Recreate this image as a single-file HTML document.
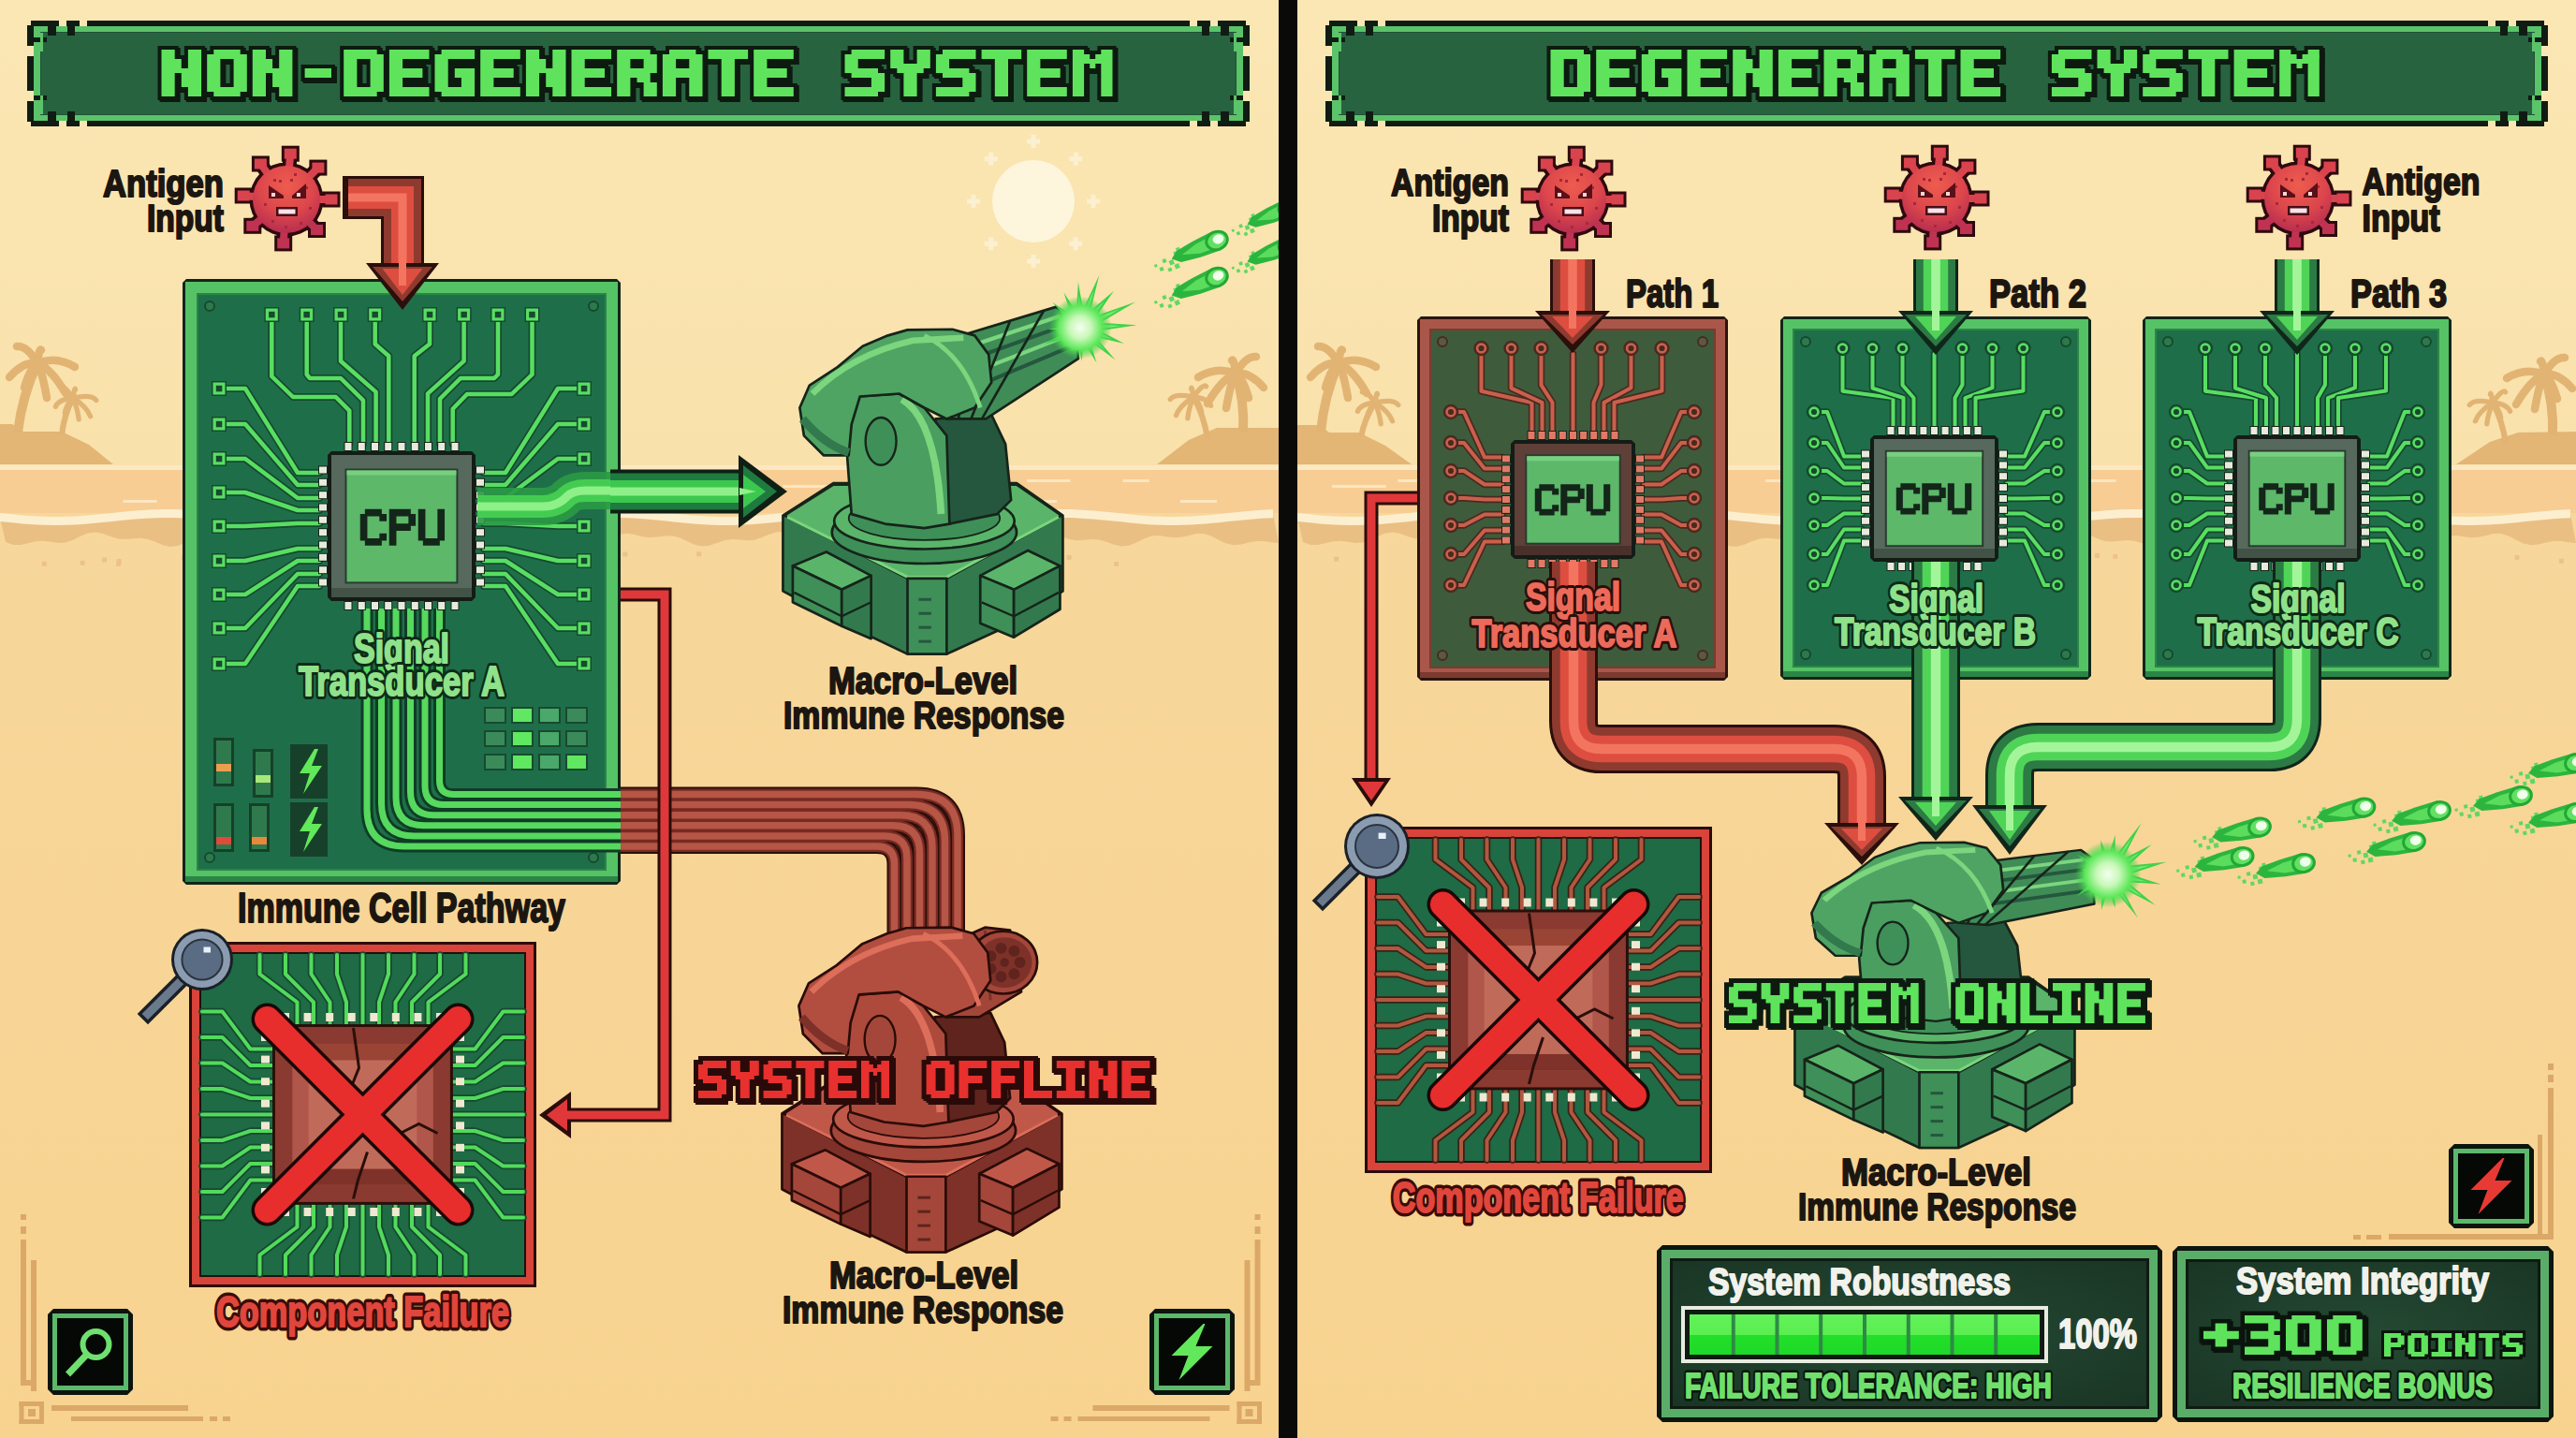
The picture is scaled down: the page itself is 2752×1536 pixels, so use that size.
<!DOCTYPE html>
<html><head><meta charset="utf-8"><title>Degenerate vs Non-Degenerate System</title>
<style>
html,body{margin:0;padding:0;background:#f7dcab;overflow:hidden;}
svg{display:block;}
text{font-family:"Liberation Sans",sans-serif;}
</style></head><body>
<svg xmlns="http://www.w3.org/2000/svg" width="2752" height="1536" viewBox="0 0 2752 1536">
<defs>
<linearGradient id="sky" x1="0" y1="0" x2="0" y2="1">
 <stop offset="0" stop-color="#fbe7b4"/><stop offset="1" stop-color="#f9e1ab"/>
</linearGradient>
<linearGradient id="sand" x1="0" y1="0" x2="0" y2="1">
 <stop offset="0" stop-color="#f7d79c"/><stop offset="1" stop-color="#f8d390"/>
</linearGradient>
<radialGradient id="flash" cx="0.5" cy="0.5" r="0.5">
 <stop offset="0" stop-color="#f4fff0"/><stop offset="0.35" stop-color="#c8f8b8"/><stop offset="0.7" stop-color="#5ee85a"/><stop offset="1" stop-color="#3cc848" stop-opacity="0"/>
</radialGradient>
<linearGradient id="barTop" x1="0" y1="0" x2="0" y2="1">
 <stop offset="0" stop-color="#62f25a"/><stop offset="0.5" stop-color="#5aee50"/><stop offset="0.5" stop-color="#22e02a"/><stop offset="1" stop-color="#1fd828"/>
</linearGradient>
</defs>
<rect x="0.0" y="0.0" width="2752.0" height="497.0" fill="url(#sky)" />
<rect x="0.0" y="497.0" width="2752.0" height="1039.0" fill="url(#sand)" />
<rect x="0.0" y="497.0" width="1366.0" height="5.0" fill="#fbe9c4" />
<rect x="0.0" y="502.0" width="1366.0" height="46.0" fill="#f7cd94" />
<rect x="1102.8" y="534.0" width="26.4" height="3.0" fill="#fbe6c0" />
<rect x="1260.9" y="534.0" width="39.2" height="3.0" fill="#fbe6c0" />
<rect x="1023.6" y="526.0" width="58.9" height="3.0" fill="#fbe6c0" />
<rect x="467.6" y="518.0" width="42.7" height="3.0" fill="#fbe6c0" />
<rect x="368.1" y="512.0" width="46.6" height="3.0" fill="#fbe6c0" />
<rect x="327.2" y="518.0" width="35.9" height="3.0" fill="#fbe6c0" />
<rect x="953.2" y="526.0" width="41.5" height="3.0" fill="#fbe6c0" />
<rect x="131.5" y="534.0" width="36.1" height="3.0" fill="#fbe6c0" />
<rect x="836.4" y="518.0" width="58.8" height="3.0" fill="#fbe6c0" />
<rect x="623.0" y="526.0" width="27.2" height="3.0" fill="#fbe6c0" />
<rect x="1199.5" y="512.0" width="28.3" height="3.0" fill="#fbe6c0" />
<rect x="1097.2" y="512.0" width="46.4" height="3.0" fill="#fbe6c0" />
<polygon points="0.0,553.0 8.0,553.8 16.0,554.6 24.0,555.4 32.0,556.0 40.0,556.5 48.0,556.8 56.0,557.0 64.0,557.0 72.0,556.8 80.0,556.4 88.0,555.9 96.0,555.3 104.0,554.6 112.0,553.8 120.0,552.9 128.0,552.1 136.0,551.3 144.0,550.6 152.0,550.0 160.0,549.5 168.0,549.2 176.0,549.0 184.0,549.0 192.0,549.2 200.0,549.6 208.0,550.1 216.0,550.7 224.0,551.5 232.0,552.3 240.0,553.1 248.0,554.0 256.0,554.8 264.0,555.5 272.0,556.1 280.0,556.5 288.0,556.8 296.0,557.0 304.0,557.0 312.0,556.7 320.0,556.4 328.0,555.9 336.0,555.2 344.0,554.5 352.0,553.6 360.0,552.8 368.0,552.0 376.0,551.2 384.0,550.5 392.0,549.9 400.0,549.4 408.0,549.1 416.0,549.0 424.0,549.1 432.0,549.3 440.0,549.7 448.0,550.2 456.0,550.9 464.0,551.6 472.0,552.4 480.0,553.3 488.0,554.1 496.0,554.9 504.0,555.6 512.0,556.2 520.0,556.6 528.0,556.9 536.0,557.0 544.0,556.9 552.0,556.7 560.0,556.3 568.0,555.8 576.0,555.1 584.0,554.3 592.0,553.5 600.0,552.7 608.0,551.8 616.0,551.1 624.0,550.4 632.0,549.8 640.0,549.4 648.0,549.1 656.0,549.0 664.0,549.1 672.0,549.3 680.0,549.7 688.0,550.3 696.0,551.0 704.0,551.7 712.0,552.6 720.0,553.4 728.0,554.2 736.0,555.0 744.0,555.7 752.0,556.2 760.0,556.7 768.0,556.9 776.0,557.0 784.0,556.9 792.0,556.6 800.0,556.2 808.0,555.7 816.0,555.0 824.0,554.2 832.0,553.4 840.0,552.5 848.0,551.7 856.0,551.0 864.0,550.3 872.0,549.7 880.0,549.3 888.0,549.1 896.0,549.0 904.0,549.1 912.0,549.4 920.0,549.8 928.0,550.4 936.0,551.1 944.0,551.9 952.0,552.7 960.0,553.5 968.0,554.3 976.0,555.1 984.0,555.8 992.0,556.3 1000.0,556.7 1008.0,556.9 1016.0,557.0 1024.0,556.9 1032.0,556.6 1040.0,556.1 1048.0,555.6 1056.0,554.9 1064.0,554.1 1072.0,553.3 1080.0,552.4 1088.0,551.6 1096.0,550.8 1104.0,550.2 1112.0,549.7 1120.0,549.3 1128.0,549.1 1136.0,549.0 1144.0,549.1 1152.0,549.4 1160.0,549.9 1168.0,550.5 1176.0,551.2 1184.0,552.0 1192.0,552.8 1200.0,553.6 1208.0,554.5 1216.0,555.2 1224.0,555.9 1232.0,556.4 1240.0,556.8 1248.0,557.0 1256.0,557.0 1264.0,556.8 1272.0,556.5 1280.0,556.1 1288.0,555.5 1296.0,554.7 1304.0,554.0 1312.0,553.1 1320.0,552.3 1328.0,551.5 1336.0,550.7 1344.0,550.1 1352.0,549.6 1360.0,549.2 1366.0,580.0 1358.0,579.3 1350.0,578.0 1342.0,577.9 1334.0,579.4 1326.0,581.4 1318.0,582.2 1310.0,580.6 1302.0,576.8 1294.0,572.6 1286.0,570.0 1278.0,570.1 1270.0,571.9 1262.0,573.8 1254.0,574.2 1246.0,573.2 1238.0,572.1 1230.0,572.6 1222.0,575.5 1214.0,579.5 1206.0,582.8 1198.0,583.6 1190.0,581.8 1182.0,578.8 1174.0,576.5 1166.0,576.0 1158.0,576.8 1150.0,577.3 1142.0,575.9 1134.0,572.9 1126.0,569.6 1118.0,568.0 1110.0,569.3 1102.0,572.7 1094.0,576.3 1086.0,578.4 1078.0,578.4 1070.0,577.4 1062.0,577.1 1054.0,578.5 1046.0,581.0 1038.0,582.9 1030.0,582.5 1022.0,579.5 1014.0,575.3 1006.0,571.9 998.0,570.8 990.0,571.8 982.0,573.4 974.0,574.0 966.0,572.9 958.0,571.3 950.0,570.9 942.0,572.9 934.0,576.8 926.0,580.9 918.0,583.0 910.0,582.4 902.0,580.1 894.0,577.8 886.0,577.1 878.0,577.8 870.0,578.6 862.0,577.9 854.0,575.1 846.0,571.3 838.0,568.5 830.0,568.3 822.0,570.7 814.0,574.1 806.0,576.7 798.0,577.2 790.0,576.5 782.0,576.0 774.0,577.2 766.0,579.9 758.0,582.7 750.0,583.6 742.0,581.8 734.0,578.0 726.0,574.2 718.0,572.2 710.0,572.4 702.0,573.6 694.0,574.2 686.0,573.2 678.0,571.1 670.0,569.8 662.0,570.7 654.0,574.0 646.0,578.3 638.0,581.5 630.0,582.2 622.0,580.7 614.0,578.7 606.0,577.8 598.0,578.5 590.0,579.7 582.0,579.7 574.0,577.6 566.0,573.7 558.0,570.0 550.0,568.3 542.0,569.5 534.0,572.3 526.0,575.0 518.0,576.0 510.0,575.4 502.0,574.7 494.0,575.5 486.0,578.1 478.0,581.6 470.0,583.8 462.0,583.4 454.0,580.4 446.0,576.6 438.0,574.0 430.0,573.4 422.0,574.3 414.0,575.0 406.0,574.1 398.0,571.7 390.0,569.4 382.0,569.1 374.0,571.4 366.0,575.5 358.0,579.3 350.0,581.1 342.0,580.6 334.0,579.0 326.0,578.0 318.0,578.7 310.0,580.3 302.0,581.2 294.0,579.9 286.0,576.4 278.0,572.2 270.0,569.4 262.0,569.2 254.0,571.2 246.0,573.6 238.0,574.9 230.0,574.5 222.0,573.5 214.0,573.7 206.0,575.9 198.0,579.6 190.0,582.9 182.0,583.9 174.0,582.2 166.0,578.8 158.0,575.9 150.0,574.7 142.0,575.2 134.0,576.0 126.0,575.4 118.0,573.0 110.0,570.0 102.0,568.4 94.0,569.4 86.0,572.8 78.0,576.8 70.0,579.5 62.0,579.9 54.0,578.7 46.0,577.8 38.0,578.3 30.0,580.3 22.0,582.0 14.0,581.9 6.0,579.1" fill="#eabf84" />
<polygon points="0.0,548.0 8.0,548.8 16.0,549.6 24.0,550.4 32.0,551.0 40.0,551.5 48.0,551.8 56.0,552.0 64.0,552.0 72.0,551.8 80.0,551.4 88.0,550.9 96.0,550.3 104.0,549.6 112.0,548.8 120.0,547.9 128.0,547.1 136.0,546.3 144.0,545.6 152.0,545.0 160.0,544.5 168.0,544.2 176.0,544.0 184.0,544.0 192.0,544.2 200.0,544.6 208.0,545.1 216.0,545.7 224.0,546.5 232.0,547.3 240.0,548.1 248.0,549.0 256.0,549.8 264.0,550.5 272.0,551.1 280.0,551.5 288.0,551.8 296.0,552.0 304.0,552.0 312.0,551.7 320.0,551.4 328.0,550.9 336.0,550.2 344.0,549.5 352.0,548.6 360.0,547.8 368.0,547.0 376.0,546.2 384.0,545.5 392.0,544.9 400.0,544.4 408.0,544.1 416.0,544.0 424.0,544.1 432.0,544.3 440.0,544.7 448.0,545.2 456.0,545.9 464.0,546.6 472.0,547.4 480.0,548.3 488.0,549.1 496.0,549.9 504.0,550.6 512.0,551.2 520.0,551.6 528.0,551.9 536.0,552.0 544.0,551.9 552.0,551.7 560.0,551.3 568.0,550.8 576.0,550.1 584.0,549.3 592.0,548.5 600.0,547.7 608.0,546.8 616.0,546.1 624.0,545.4 632.0,544.8 640.0,544.4 648.0,544.1 656.0,544.0 664.0,544.1 672.0,544.3 680.0,544.7 688.0,545.3 696.0,546.0 704.0,546.7 712.0,547.6 720.0,548.4 728.0,549.2 736.0,550.0 744.0,550.7 752.0,551.2 760.0,551.7 768.0,551.9 776.0,552.0 784.0,551.9 792.0,551.6 800.0,551.2 808.0,550.7 816.0,550.0 824.0,549.2 832.0,548.4 840.0,547.5 848.0,546.7 856.0,546.0 864.0,545.3 872.0,544.7 880.0,544.3 888.0,544.1 896.0,544.0 904.0,544.1 912.0,544.4 920.0,544.8 928.0,545.4 936.0,546.1 944.0,546.9 952.0,547.7 960.0,548.5 968.0,549.3 976.0,550.1 984.0,550.8 992.0,551.3 1000.0,551.7 1008.0,551.9 1016.0,552.0 1024.0,551.9 1032.0,551.6 1040.0,551.1 1048.0,550.6 1056.0,549.9 1064.0,549.1 1072.0,548.3 1080.0,547.4 1088.0,546.6 1096.0,545.8 1104.0,545.2 1112.0,544.7 1120.0,544.3 1128.0,544.1 1136.0,544.0 1144.0,544.1 1152.0,544.4 1160.0,544.9 1168.0,545.5 1176.0,546.2 1184.0,547.0 1192.0,547.8 1200.0,548.6 1208.0,549.5 1216.0,550.2 1224.0,550.9 1232.0,551.4 1240.0,551.8 1248.0,552.0 1256.0,552.0 1264.0,551.8 1272.0,551.5 1280.0,551.1 1288.0,550.5 1296.0,549.7 1304.0,549.0 1312.0,548.1 1320.0,547.3 1328.0,546.5 1336.0,545.7 1344.0,545.1 1352.0,544.6 1360.0,544.2 1360.0,553.2 1352.0,553.6 1344.0,554.1 1336.0,554.7 1328.0,555.5 1320.0,556.3 1312.0,557.1 1304.0,558.0 1296.0,558.7 1288.0,559.5 1280.0,560.1 1272.0,560.5 1264.0,560.8 1256.0,561.0 1248.0,561.0 1240.0,560.8 1232.0,560.4 1224.0,559.9 1216.0,559.2 1208.0,558.5 1200.0,557.6 1192.0,556.8 1184.0,556.0 1176.0,555.2 1168.0,554.5 1160.0,553.9 1152.0,553.4 1144.0,553.1 1136.0,553.0 1128.0,553.1 1120.0,553.3 1112.0,553.7 1104.0,554.2 1096.0,554.8 1088.0,555.6 1080.0,556.4 1072.0,557.3 1064.0,558.1 1056.0,558.9 1048.0,559.6 1040.0,560.1 1032.0,560.6 1024.0,560.9 1016.0,561.0 1008.0,560.9 1000.0,560.7 992.0,560.3 984.0,559.8 976.0,559.1 968.0,558.3 960.0,557.5 952.0,556.7 944.0,555.9 936.0,555.1 928.0,554.4 920.0,553.8 912.0,553.4 904.0,553.1 896.0,553.0 888.0,553.1 880.0,553.3 872.0,553.7 864.0,554.3 856.0,555.0 848.0,555.7 840.0,556.5 832.0,557.4 824.0,558.2 816.0,559.0 808.0,559.7 800.0,560.2 792.0,560.6 784.0,560.9 776.0,561.0 768.0,560.9 760.0,560.7 752.0,560.2 744.0,559.7 736.0,559.0 728.0,558.2 720.0,557.4 712.0,556.6 704.0,555.7 696.0,555.0 688.0,554.3 680.0,553.7 672.0,553.3 664.0,553.1 656.0,553.0 648.0,553.1 640.0,553.4 632.0,553.8 624.0,554.4 616.0,555.1 608.0,555.8 600.0,556.7 592.0,557.5 584.0,558.3 576.0,559.1 568.0,559.8 560.0,560.3 552.0,560.7 544.0,560.9 536.0,561.0 528.0,560.9 520.0,560.6 512.0,560.2 504.0,559.6 496.0,558.9 488.0,558.1 480.0,557.3 472.0,556.4 464.0,555.6 456.0,554.9 448.0,554.2 440.0,553.7 432.0,553.3 424.0,553.1 416.0,553.0 408.0,553.1 400.0,553.4 392.0,553.9 384.0,554.5 376.0,555.2 368.0,556.0 360.0,556.8 352.0,557.6 344.0,558.5 336.0,559.2 328.0,559.9 320.0,560.4 312.0,560.7 304.0,561.0 296.0,561.0 288.0,560.8 280.0,560.5 272.0,560.1 264.0,559.5 256.0,558.8 248.0,558.0 240.0,557.1 232.0,556.3 224.0,555.5 216.0,554.7 208.0,554.1 200.0,553.6 192.0,553.2 184.0,553.0 176.0,553.0 168.0,553.2 160.0,553.5 152.0,554.0 144.0,554.6 136.0,555.3 128.0,556.1 120.0,556.9 112.0,557.8 104.0,558.6 96.0,559.3 88.0,559.9 80.0,560.4 72.0,560.8 64.0,561.0 56.0,561.0 48.0,560.8 40.0,560.5 32.0,560.0 24.0,559.4 16.0,558.6 8.0,557.8 0.0,557.0" fill="#fcefcf" />
<rect x="1126.2" y="590.0" width="5.0" height="5.0" fill="#ebc38a" />
<rect x="993.2" y="595.6" width="5.0" height="5.0" fill="#ebc38a" />
<rect x="85.7" y="598.8" width="5.0" height="5.0" fill="#ebc38a" />
<rect x="301.5" y="597.1" width="5.0" height="5.0" fill="#ebc38a" />
<rect x="193.8" y="593.1" width="5.0" height="5.0" fill="#ebc38a" />
<rect x="124.1" y="599.9" width="5.0" height="5.0" fill="#ebc38a" />
<rect x="1190.1" y="600.0" width="5.0" height="5.0" fill="#ebc38a" />
<rect x="665.4" y="589.5" width="5.0" height="5.0" fill="#ebc38a" />
<rect x="395.9" y="586.9" width="5.0" height="5.0" fill="#ebc38a" />
<rect x="452.5" y="598.8" width="5.0" height="5.0" fill="#ebc38a" />
<rect x="276.4" y="597.0" width="5.0" height="5.0" fill="#ebc38a" />
<rect x="744.2" y="589.3" width="5.0" height="5.0" fill="#ebc38a" />
<rect x="124.6" y="597.0" width="5.0" height="5.0" fill="#ebc38a" />
<rect x="431.2" y="588.6" width="5.0" height="5.0" fill="#ebc38a" />
<rect x="250.1" y="597.3" width="5.0" height="5.0" fill="#ebc38a" />
<rect x="44.8" y="599.7" width="5.0" height="5.0" fill="#ebc38a" />
<rect x="353.7" y="586.0" width="5.0" height="5.0" fill="#ebc38a" />
<rect x="923.1" y="587.0" width="5.0" height="5.0" fill="#ebc38a" />
<rect x="203.4" y="585.6" width="5.0" height="5.0" fill="#ebc38a" />
<rect x="109.1" y="595.5" width="5.0" height="5.0" fill="#ebc38a" />
<rect x="1127.9" y="595.3" width="5.0" height="5.0" fill="#ebc38a" />
<rect x="1139.5" y="592.9" width="5.0" height="5.0" fill="#ebc38a" />
<polygon points="0.0,453.0 13.0,453.0 25.0,461.0 66.0,461.0 95.0,475.0 121.0,496.0 0.0,496.0" fill="#e3b676" />
<path d="M19.0 462.0 Q23.5 423.0 40.0 388.0" stroke="#e2b474" stroke-width="10.0" fill="none" stroke-linecap="butt"/>
<path d="M40.0 388.0 Q25.0 385.5 10.0 403.0" stroke="#e2b474" stroke-width="8.5" fill="none" stroke-linecap="round"/>
<path d="M40.0 388.0 Q29.0 369.0 18.0 370.0" stroke="#e2b474" stroke-width="8.5" fill="none" stroke-linecap="round"/>
<path d="M40.0 388.0 Q60.0 380.0 80.0 392.0" stroke="#e2b474" stroke-width="8.5" fill="none" stroke-linecap="round"/>
<path d="M40.0 388.0 Q55.0 394.0 70.0 420.0" stroke="#e2b474" stroke-width="8.5" fill="none" stroke-linecap="round"/>
<path d="M40.0 388.0 Q45.0 396.5 50.0 425.0" stroke="#e2b474" stroke-width="8.5" fill="none" stroke-linecap="round"/>
<path d="M40.0 388.0 Q33.0 391.0 26.0 414.0" stroke="#e2b474" stroke-width="8.5" fill="none" stroke-linecap="round"/>
<path d="M40.0 388.0 Q42.0 371.0 44.0 374.0" stroke="#e2b474" stroke-width="8.5" fill="none" stroke-linecap="round"/>
<circle cx="40.0" cy="388.0" r="8.0" fill="#e2b474"/>
<path d="M66.0 465.0 Q68.3 443.0 78.0 425.0" stroke="#e2b474" stroke-width="6.2" fill="none" stroke-linecap="butt"/>
<path d="M78.0 425.0 Q63.0 426.3 59.4 434.3" stroke="#e2b474" stroke-width="5.3" fill="none" stroke-linecap="round"/>
<path d="M78.0 425.0 Q67.0 409.8 64.4 413.8" stroke="#e2b474" stroke-width="5.3" fill="none" stroke-linecap="round"/>
<path d="M78.0 425.0 Q98.0 420.8 102.8 427.5" stroke="#e2b474" stroke-width="5.3" fill="none" stroke-linecap="round"/>
<path d="M78.0 425.0 Q93.0 434.8 96.6 444.8" stroke="#e2b474" stroke-width="5.3" fill="none" stroke-linecap="round"/>
<path d="M78.0 425.0 Q83.0 437.3 84.2 447.9" stroke="#e2b474" stroke-width="5.3" fill="none" stroke-linecap="round"/>
<path d="M78.0 425.0 Q71.0 431.8 69.3 441.1" stroke="#e2b474" stroke-width="5.3" fill="none" stroke-linecap="round"/>
<path d="M78.0 425.0 Q80.0 411.8 80.5 416.3" stroke="#e2b474" stroke-width="5.3" fill="none" stroke-linecap="round"/>
<circle cx="78.0" cy="425.0" r="5.0" fill="#e2b474"/>
<polygon points="1236.0,496.0 1270.0,470.0 1300.0,457.0 1366.0,457.0 1366.0,496.0" fill="#e3b676" />
<path d="M1328.0 462.0 Q1330.0 428.5 1320.0 399.0" stroke="#e2b474" stroke-width="10.0" fill="none" stroke-linecap="butt"/>
<path d="M1320.0 399.0 Q1335.0 396.5 1350.0 414.0" stroke="#e2b474" stroke-width="8.5" fill="none" stroke-linecap="round"/>
<path d="M1320.0 399.0 Q1331.0 380.0 1342.0 381.0" stroke="#e2b474" stroke-width="8.5" fill="none" stroke-linecap="round"/>
<path d="M1320.0 399.0 Q1300.0 391.0 1280.0 403.0" stroke="#e2b474" stroke-width="8.5" fill="none" stroke-linecap="round"/>
<path d="M1320.0 399.0 Q1305.0 405.0 1290.0 431.0" stroke="#e2b474" stroke-width="8.5" fill="none" stroke-linecap="round"/>
<path d="M1320.0 399.0 Q1315.0 407.5 1310.0 436.0" stroke="#e2b474" stroke-width="8.5" fill="none" stroke-linecap="round"/>
<path d="M1320.0 399.0 Q1327.0 402.0 1334.0 425.0" stroke="#e2b474" stroke-width="8.5" fill="none" stroke-linecap="round"/>
<path d="M1320.0 399.0 Q1318.0 382.0 1316.0 385.0" stroke="#e2b474" stroke-width="8.5" fill="none" stroke-linecap="round"/>
<circle cx="1320.0" cy="399.0" r="8.0" fill="#e2b474"/>
<path d="M1290.0 468.0 Q1286.2 444.0 1275.0 424.0" stroke="#e2b474" stroke-width="6.2" fill="none" stroke-linecap="butt"/>
<path d="M1275.0 424.0 Q1290.0 425.3 1293.6 433.3" stroke="#e2b474" stroke-width="5.3" fill="none" stroke-linecap="round"/>
<path d="M1275.0 424.0 Q1286.0 408.8 1288.6 412.8" stroke="#e2b474" stroke-width="5.3" fill="none" stroke-linecap="round"/>
<path d="M1275.0 424.0 Q1255.0 419.8 1250.2 426.5" stroke="#e2b474" stroke-width="5.3" fill="none" stroke-linecap="round"/>
<path d="M1275.0 424.0 Q1260.0 433.8 1256.4 443.8" stroke="#e2b474" stroke-width="5.3" fill="none" stroke-linecap="round"/>
<path d="M1275.0 424.0 Q1270.0 436.3 1268.8 446.9" stroke="#e2b474" stroke-width="5.3" fill="none" stroke-linecap="round"/>
<path d="M1275.0 424.0 Q1282.0 430.8 1283.7 440.1" stroke="#e2b474" stroke-width="5.3" fill="none" stroke-linecap="round"/>
<path d="M1275.0 424.0 Q1273.0 410.8 1272.5 415.3" stroke="#e2b474" stroke-width="5.3" fill="none" stroke-linecap="round"/>
<circle cx="1275.0" cy="424.0" r="5.0" fill="#e2b474"/>
<rect x="1386.0" y="497.0" width="1366.0" height="5.0" fill="#fbe9c4" />
<rect x="1386.0" y="502.0" width="1366.0" height="46.0" fill="#f7cd94" />
<rect x="2523.7" y="518.0" width="36.5" height="3.0" fill="#fbe6c0" />
<rect x="1451.8" y="518.0" width="29.0" height="3.0" fill="#fbe6c0" />
<rect x="2231.2" y="512.0" width="29.3" height="3.0" fill="#fbe6c0" />
<rect x="2041.3" y="512.0" width="33.2" height="3.0" fill="#fbe6c0" />
<rect x="1602.4" y="518.0" width="30.2" height="3.0" fill="#fbe6c0" />
<rect x="2474.6" y="526.0" width="26.4" height="3.0" fill="#fbe6c0" />
<rect x="2109.8" y="534.0" width="41.6" height="3.0" fill="#fbe6c0" />
<rect x="1493.2" y="512.0" width="26.4" height="3.0" fill="#fbe6c0" />
<rect x="1886.1" y="512.0" width="47.6" height="3.0" fill="#fbe6c0" />
<rect x="1960.7" y="534.0" width="42.6" height="3.0" fill="#fbe6c0" />
<rect x="1423.1" y="518.0" width="38.8" height="3.0" fill="#fbe6c0" />
<rect x="2561.3" y="526.0" width="29.0" height="3.0" fill="#fbe6c0" />
<polygon points="1386.0,553.0 1394.0,553.8 1402.0,554.6 1410.0,555.4 1418.0,556.0 1426.0,556.5 1434.0,556.8 1442.0,557.0 1450.0,557.0 1458.0,556.8 1466.0,556.4 1474.0,555.9 1482.0,555.3 1490.0,554.6 1498.0,553.8 1506.0,552.9 1514.0,552.1 1522.0,551.3 1530.0,550.6 1538.0,550.0 1546.0,549.5 1554.0,549.2 1562.0,549.0 1570.0,549.0 1578.0,549.2 1586.0,549.6 1594.0,550.1 1602.0,550.7 1610.0,551.5 1618.0,552.3 1626.0,553.1 1634.0,554.0 1642.0,554.8 1650.0,555.5 1658.0,556.1 1666.0,556.5 1674.0,556.8 1682.0,557.0 1690.0,557.0 1698.0,556.7 1706.0,556.4 1714.0,555.9 1722.0,555.2 1730.0,554.5 1738.0,553.6 1746.0,552.8 1754.0,552.0 1762.0,551.2 1770.0,550.5 1778.0,549.9 1786.0,549.4 1794.0,549.1 1802.0,549.0 1810.0,549.1 1818.0,549.3 1826.0,549.7 1834.0,550.2 1842.0,550.9 1850.0,551.6 1858.0,552.4 1866.0,553.3 1874.0,554.1 1882.0,554.9 1890.0,555.6 1898.0,556.2 1906.0,556.6 1914.0,556.9 1922.0,557.0 1930.0,556.9 1938.0,556.7 1946.0,556.3 1954.0,555.8 1962.0,555.1 1970.0,554.3 1978.0,553.5 1986.0,552.7 1994.0,551.8 2002.0,551.1 2010.0,550.4 2018.0,549.8 2026.0,549.4 2034.0,549.1 2042.0,549.0 2050.0,549.1 2058.0,549.3 2066.0,549.7 2074.0,550.3 2082.0,551.0 2090.0,551.7 2098.0,552.6 2106.0,553.4 2114.0,554.2 2122.0,555.0 2130.0,555.7 2138.0,556.2 2146.0,556.7 2154.0,556.9 2162.0,557.0 2170.0,556.9 2178.0,556.6 2186.0,556.2 2194.0,555.7 2202.0,555.0 2210.0,554.2 2218.0,553.4 2226.0,552.5 2234.0,551.7 2242.0,551.0 2250.0,550.3 2258.0,549.7 2266.0,549.3 2274.0,549.1 2282.0,549.0 2290.0,549.1 2298.0,549.4 2306.0,549.8 2314.0,550.4 2322.0,551.1 2330.0,551.9 2338.0,552.7 2346.0,553.5 2354.0,554.3 2362.0,555.1 2370.0,555.8 2378.0,556.3 2386.0,556.7 2394.0,556.9 2402.0,557.0 2410.0,556.9 2418.0,556.6 2426.0,556.1 2434.0,555.6 2442.0,554.9 2450.0,554.1 2458.0,553.3 2466.0,552.4 2474.0,551.6 2482.0,550.8 2490.0,550.2 2498.0,549.7 2506.0,549.3 2514.0,549.1 2522.0,549.0 2530.0,549.1 2538.0,549.4 2546.0,549.9 2554.0,550.5 2562.0,551.2 2570.0,552.0 2578.0,552.8 2586.0,553.6 2594.0,554.5 2602.0,555.2 2610.0,555.9 2618.0,556.4 2626.0,556.8 2634.0,557.0 2642.0,557.0 2650.0,556.8 2658.0,556.5 2666.0,556.1 2674.0,555.5 2682.0,554.7 2690.0,554.0 2698.0,553.1 2706.0,552.3 2714.0,551.5 2722.0,550.7 2730.0,550.1 2738.0,549.6 2746.0,549.2 2752.0,580.0 2744.0,579.3 2736.0,578.0 2728.0,577.9 2720.0,579.4 2712.0,581.4 2704.0,582.2 2696.0,580.6 2688.0,576.8 2680.0,572.6 2672.0,570.0 2664.0,570.1 2656.0,571.9 2648.0,573.8 2640.0,574.2 2632.0,573.2 2624.0,572.1 2616.0,572.6 2608.0,575.5 2600.0,579.5 2592.0,582.8 2584.0,583.6 2576.0,581.8 2568.0,578.8 2560.0,576.5 2552.0,576.0 2544.0,576.8 2536.0,577.3 2528.0,575.9 2520.0,572.9 2512.0,569.6 2504.0,568.0 2496.0,569.3 2488.0,572.7 2480.0,576.3 2472.0,578.4 2464.0,578.4 2456.0,577.4 2448.0,577.1 2440.0,578.5 2432.0,581.0 2424.0,582.9 2416.0,582.5 2408.0,579.5 2400.0,575.3 2392.0,571.9 2384.0,570.8 2376.0,571.8 2368.0,573.4 2360.0,574.0 2352.0,572.9 2344.0,571.3 2336.0,570.9 2328.0,572.9 2320.0,576.8 2312.0,580.9 2304.0,583.0 2296.0,582.4 2288.0,580.1 2280.0,577.8 2272.0,577.1 2264.0,577.8 2256.0,578.6 2248.0,577.9 2240.0,575.1 2232.0,571.3 2224.0,568.5 2216.0,568.3 2208.0,570.7 2200.0,574.1 2192.0,576.7 2184.0,577.2 2176.0,576.5 2168.0,576.0 2160.0,577.2 2152.0,579.9 2144.0,582.7 2136.0,583.6 2128.0,581.8 2120.0,578.0 2112.0,574.2 2104.0,572.2 2096.0,572.4 2088.0,573.6 2080.0,574.2 2072.0,573.2 2064.0,571.1 2056.0,569.8 2048.0,570.7 2040.0,574.0 2032.0,578.3 2024.0,581.5 2016.0,582.2 2008.0,580.7 2000.0,578.7 1992.0,577.8 1984.0,578.5 1976.0,579.7 1968.0,579.7 1960.0,577.6 1952.0,573.7 1944.0,570.0 1936.0,568.3 1928.0,569.5 1920.0,572.3 1912.0,575.0 1904.0,576.0 1896.0,575.4 1888.0,574.7 1880.0,575.5 1872.0,578.1 1864.0,581.6 1856.0,583.8 1848.0,583.4 1840.0,580.4 1832.0,576.6 1824.0,574.0 1816.0,573.4 1808.0,574.3 1800.0,575.0 1792.0,574.1 1784.0,571.7 1776.0,569.4 1768.0,569.1 1760.0,571.4 1752.0,575.5 1744.0,579.3 1736.0,581.1 1728.0,580.6 1720.0,579.0 1712.0,578.0 1704.0,578.7 1696.0,580.3 1688.0,581.2 1680.0,579.9 1672.0,576.4 1664.0,572.2 1656.0,569.4 1648.0,569.2 1640.0,571.2 1632.0,573.6 1624.0,574.9 1616.0,574.5 1608.0,573.5 1600.0,573.7 1592.0,575.9 1584.0,579.6 1576.0,582.9 1568.0,583.9 1560.0,582.2 1552.0,578.8 1544.0,575.9 1536.0,574.7 1528.0,575.2 1520.0,576.0 1512.0,575.4 1504.0,573.0 1496.0,570.0 1488.0,568.4 1480.0,569.4 1472.0,572.8 1464.0,576.8 1456.0,579.5 1448.0,579.9 1440.0,578.7 1432.0,577.8 1424.0,578.3 1416.0,580.3 1408.0,582.0 1400.0,581.9 1392.0,579.1" fill="#eabf84" />
<polygon points="1386.0,548.0 1394.0,548.8 1402.0,549.6 1410.0,550.4 1418.0,551.0 1426.0,551.5 1434.0,551.8 1442.0,552.0 1450.0,552.0 1458.0,551.8 1466.0,551.4 1474.0,550.9 1482.0,550.3 1490.0,549.6 1498.0,548.8 1506.0,547.9 1514.0,547.1 1522.0,546.3 1530.0,545.6 1538.0,545.0 1546.0,544.5 1554.0,544.2 1562.0,544.0 1570.0,544.0 1578.0,544.2 1586.0,544.6 1594.0,545.1 1602.0,545.7 1610.0,546.5 1618.0,547.3 1626.0,548.1 1634.0,549.0 1642.0,549.8 1650.0,550.5 1658.0,551.1 1666.0,551.5 1674.0,551.8 1682.0,552.0 1690.0,552.0 1698.0,551.7 1706.0,551.4 1714.0,550.9 1722.0,550.2 1730.0,549.5 1738.0,548.6 1746.0,547.8 1754.0,547.0 1762.0,546.2 1770.0,545.5 1778.0,544.9 1786.0,544.4 1794.0,544.1 1802.0,544.0 1810.0,544.1 1818.0,544.3 1826.0,544.7 1834.0,545.2 1842.0,545.9 1850.0,546.6 1858.0,547.4 1866.0,548.3 1874.0,549.1 1882.0,549.9 1890.0,550.6 1898.0,551.2 1906.0,551.6 1914.0,551.9 1922.0,552.0 1930.0,551.9 1938.0,551.7 1946.0,551.3 1954.0,550.8 1962.0,550.1 1970.0,549.3 1978.0,548.5 1986.0,547.7 1994.0,546.8 2002.0,546.1 2010.0,545.4 2018.0,544.8 2026.0,544.4 2034.0,544.1 2042.0,544.0 2050.0,544.1 2058.0,544.3 2066.0,544.7 2074.0,545.3 2082.0,546.0 2090.0,546.7 2098.0,547.6 2106.0,548.4 2114.0,549.2 2122.0,550.0 2130.0,550.7 2138.0,551.2 2146.0,551.7 2154.0,551.9 2162.0,552.0 2170.0,551.9 2178.0,551.6 2186.0,551.2 2194.0,550.7 2202.0,550.0 2210.0,549.2 2218.0,548.4 2226.0,547.5 2234.0,546.7 2242.0,546.0 2250.0,545.3 2258.0,544.7 2266.0,544.3 2274.0,544.1 2282.0,544.0 2290.0,544.1 2298.0,544.4 2306.0,544.8 2314.0,545.4 2322.0,546.1 2330.0,546.9 2338.0,547.7 2346.0,548.5 2354.0,549.3 2362.0,550.1 2370.0,550.8 2378.0,551.3 2386.0,551.7 2394.0,551.9 2402.0,552.0 2410.0,551.9 2418.0,551.6 2426.0,551.1 2434.0,550.6 2442.0,549.9 2450.0,549.1 2458.0,548.3 2466.0,547.4 2474.0,546.6 2482.0,545.8 2490.0,545.2 2498.0,544.7 2506.0,544.3 2514.0,544.1 2522.0,544.0 2530.0,544.1 2538.0,544.4 2546.0,544.9 2554.0,545.5 2562.0,546.2 2570.0,547.0 2578.0,547.8 2586.0,548.6 2594.0,549.5 2602.0,550.2 2610.0,550.9 2618.0,551.4 2626.0,551.8 2634.0,552.0 2642.0,552.0 2650.0,551.8 2658.0,551.5 2666.0,551.1 2674.0,550.5 2682.0,549.7 2690.0,549.0 2698.0,548.1 2706.0,547.3 2714.0,546.5 2722.0,545.7 2730.0,545.1 2738.0,544.6 2746.0,544.2 2746.0,553.2 2738.0,553.6 2730.0,554.1 2722.0,554.7 2714.0,555.5 2706.0,556.3 2698.0,557.1 2690.0,558.0 2682.0,558.7 2674.0,559.5 2666.0,560.1 2658.0,560.5 2650.0,560.8 2642.0,561.0 2634.0,561.0 2626.0,560.8 2618.0,560.4 2610.0,559.9 2602.0,559.2 2594.0,558.5 2586.0,557.6 2578.0,556.8 2570.0,556.0 2562.0,555.2 2554.0,554.5 2546.0,553.9 2538.0,553.4 2530.0,553.1 2522.0,553.0 2514.0,553.1 2506.0,553.3 2498.0,553.7 2490.0,554.2 2482.0,554.8 2474.0,555.6 2466.0,556.4 2458.0,557.3 2450.0,558.1 2442.0,558.9 2434.0,559.6 2426.0,560.1 2418.0,560.6 2410.0,560.9 2402.0,561.0 2394.0,560.9 2386.0,560.7 2378.0,560.3 2370.0,559.8 2362.0,559.1 2354.0,558.3 2346.0,557.5 2338.0,556.7 2330.0,555.9 2322.0,555.1 2314.0,554.4 2306.0,553.8 2298.0,553.4 2290.0,553.1 2282.0,553.0 2274.0,553.1 2266.0,553.3 2258.0,553.7 2250.0,554.3 2242.0,555.0 2234.0,555.7 2226.0,556.5 2218.0,557.4 2210.0,558.2 2202.0,559.0 2194.0,559.7 2186.0,560.2 2178.0,560.6 2170.0,560.9 2162.0,561.0 2154.0,560.9 2146.0,560.7 2138.0,560.2 2130.0,559.7 2122.0,559.0 2114.0,558.2 2106.0,557.4 2098.0,556.6 2090.0,555.7 2082.0,555.0 2074.0,554.3 2066.0,553.7 2058.0,553.3 2050.0,553.1 2042.0,553.0 2034.0,553.1 2026.0,553.4 2018.0,553.8 2010.0,554.4 2002.0,555.1 1994.0,555.8 1986.0,556.7 1978.0,557.5 1970.0,558.3 1962.0,559.1 1954.0,559.8 1946.0,560.3 1938.0,560.7 1930.0,560.9 1922.0,561.0 1914.0,560.9 1906.0,560.6 1898.0,560.2 1890.0,559.6 1882.0,558.9 1874.0,558.1 1866.0,557.3 1858.0,556.4 1850.0,555.6 1842.0,554.9 1834.0,554.2 1826.0,553.7 1818.0,553.3 1810.0,553.1 1802.0,553.0 1794.0,553.1 1786.0,553.4 1778.0,553.9 1770.0,554.5 1762.0,555.2 1754.0,556.0 1746.0,556.8 1738.0,557.6 1730.0,558.5 1722.0,559.2 1714.0,559.9 1706.0,560.4 1698.0,560.7 1690.0,561.0 1682.0,561.0 1674.0,560.8 1666.0,560.5 1658.0,560.1 1650.0,559.5 1642.0,558.8 1634.0,558.0 1626.0,557.1 1618.0,556.3 1610.0,555.5 1602.0,554.7 1594.0,554.1 1586.0,553.6 1578.0,553.2 1570.0,553.0 1562.0,553.0 1554.0,553.2 1546.0,553.5 1538.0,554.0 1530.0,554.6 1522.0,555.3 1514.0,556.1 1506.0,556.9 1498.0,557.8 1490.0,558.6 1482.0,559.3 1474.0,559.9 1466.0,560.4 1458.0,560.8 1450.0,561.0 1442.0,561.0 1434.0,560.8 1426.0,560.5 1418.0,560.0 1410.0,559.4 1402.0,558.6 1394.0,557.8 1386.0,557.0" fill="#fcefcf" />
<rect x="1952.1" y="586.3" width="5.0" height="5.0" fill="#ebc38a" />
<rect x="2343.1" y="594.0" width="5.0" height="5.0" fill="#ebc38a" />
<rect x="2449.8" y="593.7" width="5.0" height="5.0" fill="#ebc38a" />
<rect x="2359.0" y="595.8" width="5.0" height="5.0" fill="#ebc38a" />
<rect x="1768.0" y="587.0" width="5.0" height="5.0" fill="#ebc38a" />
<rect x="1937.4" y="591.6" width="5.0" height="5.0" fill="#ebc38a" />
<rect x="2733.9" y="596.8" width="5.0" height="5.0" fill="#ebc38a" />
<rect x="1950.6" y="588.4" width="5.0" height="5.0" fill="#ebc38a" />
<rect x="2686.4" y="592.9" width="5.0" height="5.0" fill="#ebc38a" />
<rect x="1425.2" y="594.7" width="5.0" height="5.0" fill="#ebc38a" />
<rect x="2316.5" y="599.7" width="5.0" height="5.0" fill="#ebc38a" />
<rect x="2409.6" y="594.5" width="5.0" height="5.0" fill="#ebc38a" />
<rect x="2257.3" y="591.9" width="5.0" height="5.0" fill="#ebc38a" />
<rect x="2564.8" y="594.4" width="5.0" height="5.0" fill="#ebc38a" />
<rect x="2495.9" y="586.9" width="5.0" height="5.0" fill="#ebc38a" />
<rect x="2455.2" y="589.4" width="5.0" height="5.0" fill="#ebc38a" />
<rect x="2179.2" y="585.1" width="5.0" height="5.0" fill="#ebc38a" />
<rect x="1786.8" y="586.3" width="5.0" height="5.0" fill="#ebc38a" />
<rect x="2163.1" y="590.6" width="5.0" height="5.0" fill="#ebc38a" />
<rect x="2394.6" y="597.7" width="5.0" height="5.0" fill="#ebc38a" />
<rect x="2042.4" y="587.7" width="5.0" height="5.0" fill="#ebc38a" />
<rect x="2237.9" y="590.8" width="5.0" height="5.0" fill="#ebc38a" />
<polygon points="1386.0,454.0 1410.0,454.0 1420.0,462.0 1452.0,462.0 1480.0,476.0 1508.0,496.0 1386.0,496.0" fill="#e3b676" />
<path d="M1411.0 462.0 Q1414.5 423.0 1430.0 388.0" stroke="#e2b474" stroke-width="10.0" fill="none" stroke-linecap="butt"/>
<path d="M1430.0 388.0 Q1415.0 385.5 1400.0 403.0" stroke="#e2b474" stroke-width="8.5" fill="none" stroke-linecap="round"/>
<path d="M1430.0 388.0 Q1419.0 369.0 1408.0 370.0" stroke="#e2b474" stroke-width="8.5" fill="none" stroke-linecap="round"/>
<path d="M1430.0 388.0 Q1450.0 380.0 1470.0 392.0" stroke="#e2b474" stroke-width="8.5" fill="none" stroke-linecap="round"/>
<path d="M1430.0 388.0 Q1445.0 394.0 1460.0 420.0" stroke="#e2b474" stroke-width="8.5" fill="none" stroke-linecap="round"/>
<path d="M1430.0 388.0 Q1435.0 396.5 1440.0 425.0" stroke="#e2b474" stroke-width="8.5" fill="none" stroke-linecap="round"/>
<path d="M1430.0 388.0 Q1423.0 391.0 1416.0 414.0" stroke="#e2b474" stroke-width="8.5" fill="none" stroke-linecap="round"/>
<path d="M1430.0 388.0 Q1432.0 371.0 1434.0 374.0" stroke="#e2b474" stroke-width="8.5" fill="none" stroke-linecap="round"/>
<circle cx="1430.0" cy="388.0" r="8.0" fill="#e2b474"/>
<path d="M1454.0 467.0 Q1457.8 446.5 1469.0 430.0" stroke="#e2b474" stroke-width="6.2" fill="none" stroke-linecap="butt"/>
<path d="M1469.0 430.0 Q1454.0 431.3 1450.4 439.3" stroke="#e2b474" stroke-width="5.3" fill="none" stroke-linecap="round"/>
<path d="M1469.0 430.0 Q1458.0 414.8 1455.4 418.8" stroke="#e2b474" stroke-width="5.3" fill="none" stroke-linecap="round"/>
<path d="M1469.0 430.0 Q1489.0 425.8 1493.8 432.5" stroke="#e2b474" stroke-width="5.3" fill="none" stroke-linecap="round"/>
<path d="M1469.0 430.0 Q1484.0 439.8 1487.6 449.8" stroke="#e2b474" stroke-width="5.3" fill="none" stroke-linecap="round"/>
<path d="M1469.0 430.0 Q1474.0 442.3 1475.2 452.9" stroke="#e2b474" stroke-width="5.3" fill="none" stroke-linecap="round"/>
<path d="M1469.0 430.0 Q1462.0 436.8 1460.3 446.1" stroke="#e2b474" stroke-width="5.3" fill="none" stroke-linecap="round"/>
<path d="M1469.0 430.0 Q1471.0 416.8 1471.5 421.3" stroke="#e2b474" stroke-width="5.3" fill="none" stroke-linecap="round"/>
<circle cx="1469.0" cy="430.0" r="5.0" fill="#e2b474"/>
<polygon points="2624.0,496.0 2660.0,472.0 2690.0,462.0 2752.0,461.0 2752.0,496.0" fill="#e3b676" />
<path d="M2727.0 465.0 Q2728.5 430.5 2718.0 400.0" stroke="#e2b474" stroke-width="10.0" fill="none" stroke-linecap="butt"/>
<path d="M2718.0 400.0 Q2733.0 397.5 2748.0 415.0" stroke="#e2b474" stroke-width="8.5" fill="none" stroke-linecap="round"/>
<path d="M2718.0 400.0 Q2729.0 381.0 2740.0 382.0" stroke="#e2b474" stroke-width="8.5" fill="none" stroke-linecap="round"/>
<path d="M2718.0 400.0 Q2698.0 392.0 2678.0 404.0" stroke="#e2b474" stroke-width="8.5" fill="none" stroke-linecap="round"/>
<path d="M2718.0 400.0 Q2703.0 406.0 2688.0 432.0" stroke="#e2b474" stroke-width="8.5" fill="none" stroke-linecap="round"/>
<path d="M2718.0 400.0 Q2713.0 408.5 2708.0 437.0" stroke="#e2b474" stroke-width="8.5" fill="none" stroke-linecap="round"/>
<path d="M2718.0 400.0 Q2725.0 403.0 2732.0 426.0" stroke="#e2b474" stroke-width="8.5" fill="none" stroke-linecap="round"/>
<path d="M2718.0 400.0 Q2716.0 383.0 2714.0 386.0" stroke="#e2b474" stroke-width="8.5" fill="none" stroke-linecap="round"/>
<circle cx="2718.0" cy="400.0" r="8.0" fill="#e2b474"/>
<path d="M2677.0 474.0 Q2673.7 450.0 2663.0 430.0" stroke="#e2b474" stroke-width="6.2" fill="none" stroke-linecap="butt"/>
<path d="M2663.0 430.0 Q2678.0 431.3 2681.6 439.3" stroke="#e2b474" stroke-width="5.3" fill="none" stroke-linecap="round"/>
<path d="M2663.0 430.0 Q2674.0 414.8 2676.6 418.8" stroke="#e2b474" stroke-width="5.3" fill="none" stroke-linecap="round"/>
<path d="M2663.0 430.0 Q2643.0 425.8 2638.2 432.5" stroke="#e2b474" stroke-width="5.3" fill="none" stroke-linecap="round"/>
<path d="M2663.0 430.0 Q2648.0 439.8 2644.4 449.8" stroke="#e2b474" stroke-width="5.3" fill="none" stroke-linecap="round"/>
<path d="M2663.0 430.0 Q2658.0 442.3 2656.8 452.9" stroke="#e2b474" stroke-width="5.3" fill="none" stroke-linecap="round"/>
<path d="M2663.0 430.0 Q2670.0 436.8 2671.7 446.1" stroke="#e2b474" stroke-width="5.3" fill="none" stroke-linecap="round"/>
<path d="M2663.0 430.0 Q2661.0 416.8 2660.5 421.3" stroke="#e2b474" stroke-width="5.3" fill="none" stroke-linecap="round"/>
<circle cx="2663.0" cy="430.0" r="5.0" fill="#e2b474"/>
<circle cx="1104" cy="215" r="44" fill="#fdf5dc"/>
<rect x="1165.5" y="208.0" width="5.0" height="14.0" fill="#fcf0d2" />
<rect x="1161.0" y="212.5" width="14.0" height="5.0" fill="#fcf0d2" />
<rect x="1146.8" y="253.3" width="5.0" height="14.0" fill="#fcf0d2" />
<rect x="1142.3" y="257.8" width="14.0" height="5.0" fill="#fcf0d2" />
<rect x="1101.5" y="272.0" width="5.0" height="14.0" fill="#fcf0d2" />
<rect x="1097.0" y="276.5" width="14.0" height="5.0" fill="#fcf0d2" />
<rect x="1056.2" y="253.3" width="5.0" height="14.0" fill="#fcf0d2" />
<rect x="1051.7" y="257.8" width="14.0" height="5.0" fill="#fcf0d2" />
<rect x="1037.5" y="208.0" width="5.0" height="14.0" fill="#fcf0d2" />
<rect x="1033.0" y="212.5" width="14.0" height="5.0" fill="#fcf0d2" />
<rect x="1056.2" y="162.7" width="5.0" height="14.0" fill="#fcf0d2" />
<rect x="1051.7" y="167.2" width="14.0" height="5.0" fill="#fcf0d2" />
<rect x="1101.5" y="144.0" width="5.0" height="14.0" fill="#fcf0d2" />
<rect x="1097.0" y="148.5" width="14.0" height="5.0" fill="#fcf0d2" />
<rect x="1146.8" y="162.7" width="5.0" height="14.0" fill="#fcf0d2" />
<rect x="1142.3" y="167.2" width="14.0" height="5.0" fill="#fcf0d2" />
<defs><clipPath id="leftclip"><rect x="0" y="0" width="1366" height="1536"/></clipPath></defs>
<rect x="29.0" y="22.0" width="1306.0" height="113.0" fill="#101c13" />
<rect x="85.0" y="22.0" width="8.0" height="6.0" fill="#f9e6b3" />
<rect x="1271.0" y="22.0" width="8.0" height="6.0" fill="#f9e6b3" />
<rect x="85.0" y="129.0" width="8.0" height="6.0" fill="#f9e6b3" />
<rect x="1271.0" y="129.0" width="8.0" height="6.0" fill="#f9e6b3" />
<rect x="63.0" y="22.0" width="8.0" height="6.0" fill="#f9e6b3" />
<rect x="1293.0" y="22.0" width="8.0" height="6.0" fill="#f9e6b3" />
<rect x="63.0" y="129.0" width="8.0" height="6.0" fill="#f9e6b3" />
<rect x="1293.0" y="129.0" width="8.0" height="6.0" fill="#f9e6b3" />
<rect x="29.0" y="22.0" width="4.0" height="5.0" fill="#f9e6b3" />
<rect x="1331.0" y="22.0" width="4.0" height="5.0" fill="#f9e6b3" />
<rect x="29.0" y="130.0" width="4.0" height="5.0" fill="#f9e6b3" />
<rect x="1331.0" y="130.0" width="4.0" height="5.0" fill="#f9e6b3" />
<rect x="29.0" y="49.0" width="7.0" height="11.0" fill="#f9e6b3" />
<rect x="1328.0" y="49.0" width="7.0" height="11.0" fill="#f9e6b3" />
<rect x="29.0" y="97.0" width="7.0" height="11.0" fill="#f9e6b3" />
<rect x="1328.0" y="97.0" width="7.0" height="11.0" fill="#f9e6b3" />
<rect x="36.0" y="28.0" width="1292.0" height="101.0" fill="#5bc36a" />
<rect x="43.0" y="34.0" width="1278.0" height="89.0" fill="#1f5236" />
<rect x="44.0" y="35.0" width="1276.0" height="87.0" fill="#28633f" />
<rect x="51.0" y="28.0" width="9.0" height="10.0" fill="#101c13" />
<rect x="51.0" y="119.0" width="9.0" height="10.0" fill="#101c13" />
<rect x="72.0" y="28.0" width="8.0" height="10.0" fill="#101c13" />
<rect x="72.0" y="119.0" width="8.0" height="10.0" fill="#101c13" />
<rect x="1304.0" y="28.0" width="9.0" height="10.0" fill="#101c13" />
<rect x="1304.0" y="119.0" width="9.0" height="10.0" fill="#101c13" />
<rect x="1284.0" y="28.0" width="8.0" height="10.0" fill="#101c13" />
<rect x="1284.0" y="119.0" width="8.0" height="10.0" fill="#101c13" />
<rect x="36.0" y="40.0" width="14.0" height="5.0" fill="#101c13" />
<rect x="1314.0" y="40.0" width="14.0" height="5.0" fill="#101c13" />
<rect x="36.0" y="102.0" width="14.0" height="5.0" fill="#101c13" />
<rect x="1314.0" y="102.0" width="14.0" height="5.0" fill="#101c13" />
<rect x="43.0" y="35.0" width="3.0" height="20.0" fill="#5bc36a" />
<rect x="1318.0" y="35.0" width="3.0" height="20.0" fill="#5bc36a" />
<rect x="43.0" y="102.0" width="3.0" height="20.0" fill="#5bc36a" />
<rect x="1318.0" y="102.0" width="3.0" height="20.0" fill="#5bc36a" />
<path d="M174.5 55.0h14.2v5.0h-14.2zM202.9 55.0h14.2v5.0h-14.2zM174.5 60.0h14.2v5.0h-14.2zM202.9 60.0h14.2v5.0h-14.2zM174.5 65.0h21.3v5.0h-21.3zM202.9 65.0h14.2v5.0h-14.2zM174.5 70.0h21.3v5.0h-21.3zM202.9 70.0h14.2v5.0h-14.2zM174.5 75.0h42.6v5.0h-42.6zM174.5 80.0h14.2v5.0h-14.2zM195.8 80.0h21.3v5.0h-21.3zM174.5 85.0h14.2v5.0h-14.2zM195.8 85.0h21.3v5.0h-21.3zM174.5 90.0h14.2v5.0h-14.2zM195.8 90.0h21.3v5.0h-21.3zM174.5 95.0h14.2v5.0h-14.2zM202.9 95.0h14.2v5.0h-14.2zM174.5 100.0h14.2v5.0h-14.2zM202.9 100.0h14.2v5.0h-14.2zM230.3 55.0h28.4v5.0h-28.4zM223.2 60.0h42.6v5.0h-42.6zM223.2 65.0h14.2v5.0h-14.2zM251.6 65.0h14.2v5.0h-14.2zM223.2 70.0h14.2v5.0h-14.2zM251.6 70.0h14.2v5.0h-14.2zM223.2 75.0h14.2v5.0h-14.2zM251.6 75.0h14.2v5.0h-14.2zM223.2 80.0h14.2v5.0h-14.2zM251.6 80.0h14.2v5.0h-14.2zM223.2 85.0h14.2v5.0h-14.2zM251.6 85.0h14.2v5.0h-14.2zM223.2 90.0h14.2v5.0h-14.2zM251.6 90.0h14.2v5.0h-14.2zM223.2 95.0h42.6v5.0h-42.6zM230.3 100.0h28.4v5.0h-28.4zM271.8 55.0h14.2v5.0h-14.2zM300.2 55.0h14.2v5.0h-14.2zM271.8 60.0h14.2v5.0h-14.2zM300.2 60.0h14.2v5.0h-14.2zM271.8 65.0h21.3v5.0h-21.3zM300.2 65.0h14.2v5.0h-14.2zM271.8 70.0h21.3v5.0h-21.3zM300.2 70.0h14.2v5.0h-14.2zM271.8 75.0h42.6v5.0h-42.6zM271.8 80.0h14.2v5.0h-14.2zM293.1 80.0h21.3v5.0h-21.3zM271.8 85.0h14.2v5.0h-14.2zM293.1 85.0h21.3v5.0h-21.3zM271.8 90.0h14.2v5.0h-14.2zM293.1 90.0h21.3v5.0h-21.3zM271.8 95.0h14.2v5.0h-14.2zM300.2 95.0h14.2v5.0h-14.2zM271.8 100.0h14.2v5.0h-14.2zM300.2 100.0h14.2v5.0h-14.2zM327.6 75.0h28.4v5.0h-28.4zM327.6 80.0h28.4v5.0h-28.4zM369.2 55.0h35.5v5.0h-35.5zM369.2 60.0h42.6v5.0h-42.6zM369.2 65.0h14.2v5.0h-14.2zM397.6 65.0h14.2v5.0h-14.2zM369.2 70.0h14.2v5.0h-14.2zM397.6 70.0h14.2v5.0h-14.2zM369.2 75.0h14.2v5.0h-14.2zM397.6 75.0h14.2v5.0h-14.2zM369.2 80.0h14.2v5.0h-14.2zM397.6 80.0h14.2v5.0h-14.2zM369.2 85.0h14.2v5.0h-14.2zM397.6 85.0h14.2v5.0h-14.2zM369.2 90.0h14.2v5.0h-14.2zM397.6 90.0h14.2v5.0h-14.2zM369.2 95.0h42.6v5.0h-42.6zM369.2 100.0h35.5v5.0h-35.5zM417.9 55.0h42.6v5.0h-42.6zM417.9 60.0h42.6v5.0h-42.6zM417.9 65.0h14.2v5.0h-14.2zM417.9 70.0h14.2v5.0h-14.2zM417.9 75.0h35.5v5.0h-35.5zM417.9 80.0h35.5v5.0h-35.5zM417.9 85.0h14.2v5.0h-14.2zM417.9 90.0h14.2v5.0h-14.2zM417.9 95.0h42.6v5.0h-42.6zM417.9 100.0h42.6v5.0h-42.6zM473.6 55.0h35.5v5.0h-35.5zM466.5 60.0h42.6v5.0h-42.6zM466.5 65.0h14.2v5.0h-14.2zM466.5 70.0h14.2v5.0h-14.2zM466.5 75.0h14.2v5.0h-14.2zM487.8 75.0h21.3v5.0h-21.3zM466.5 80.0h14.2v5.0h-14.2zM487.8 80.0h21.3v5.0h-21.3zM466.5 85.0h14.2v5.0h-14.2zM494.9 85.0h14.2v5.0h-14.2zM466.5 90.0h14.2v5.0h-14.2zM494.9 90.0h14.2v5.0h-14.2zM466.5 95.0h42.6v5.0h-42.6zM473.6 100.0h35.5v5.0h-35.5zM515.2 55.0h42.6v5.0h-42.6zM515.2 60.0h42.6v5.0h-42.6zM515.2 65.0h14.2v5.0h-14.2zM515.2 70.0h14.2v5.0h-14.2zM515.2 75.0h35.5v5.0h-35.5zM515.2 80.0h35.5v5.0h-35.5zM515.2 85.0h14.2v5.0h-14.2zM515.2 90.0h14.2v5.0h-14.2zM515.2 95.0h42.6v5.0h-42.6zM515.2 100.0h42.6v5.0h-42.6zM563.9 55.0h14.2v5.0h-14.2zM592.3 55.0h14.2v5.0h-14.2zM563.9 60.0h14.2v5.0h-14.2zM592.3 60.0h14.2v5.0h-14.2zM563.9 65.0h21.3v5.0h-21.3zM592.3 65.0h14.2v5.0h-14.2zM563.9 70.0h21.3v5.0h-21.3zM592.3 70.0h14.2v5.0h-14.2zM563.9 75.0h42.6v5.0h-42.6zM563.9 80.0h14.2v5.0h-14.2zM585.2 80.0h21.3v5.0h-21.3zM563.9 85.0h14.2v5.0h-14.2zM585.2 85.0h21.3v5.0h-21.3zM563.9 90.0h14.2v5.0h-14.2zM585.2 90.0h21.3v5.0h-21.3zM563.9 95.0h14.2v5.0h-14.2zM592.3 95.0h14.2v5.0h-14.2zM563.9 100.0h14.2v5.0h-14.2zM592.3 100.0h14.2v5.0h-14.2zM612.5 55.0h42.6v5.0h-42.6zM612.5 60.0h42.6v5.0h-42.6zM612.5 65.0h14.2v5.0h-14.2zM612.5 70.0h14.2v5.0h-14.2zM612.5 75.0h35.5v5.0h-35.5zM612.5 80.0h35.5v5.0h-35.5zM612.5 85.0h14.2v5.0h-14.2zM612.5 90.0h14.2v5.0h-14.2zM612.5 95.0h42.6v5.0h-42.6zM612.5 100.0h42.6v5.0h-42.6zM661.2 55.0h35.5v5.0h-35.5zM661.2 60.0h42.6v5.0h-42.6zM661.2 65.0h14.2v5.0h-14.2zM689.6 65.0h14.2v5.0h-14.2zM661.2 70.0h14.2v5.0h-14.2zM689.6 70.0h14.2v5.0h-14.2zM661.2 75.0h42.6v5.0h-42.6zM661.2 80.0h35.5v5.0h-35.5zM661.2 85.0h14.2v5.0h-14.2zM682.5 85.0h14.2v5.0h-14.2zM661.2 90.0h14.2v5.0h-14.2zM689.6 90.0h14.2v5.0h-14.2zM661.2 95.0h14.2v5.0h-14.2zM689.6 95.0h14.2v5.0h-14.2zM661.2 100.0h14.2v5.0h-14.2zM689.6 100.0h14.2v5.0h-14.2zM717.0 55.0h28.4v5.0h-28.4zM709.9 60.0h42.6v5.0h-42.6zM709.9 65.0h14.2v5.0h-14.2zM738.3 65.0h14.2v5.0h-14.2zM709.9 70.0h14.2v5.0h-14.2zM738.3 70.0h14.2v5.0h-14.2zM709.9 75.0h42.6v5.0h-42.6zM709.9 80.0h42.6v5.0h-42.6zM709.9 85.0h14.2v5.0h-14.2zM738.3 85.0h14.2v5.0h-14.2zM709.9 90.0h14.2v5.0h-14.2zM738.3 90.0h14.2v5.0h-14.2zM709.9 95.0h14.2v5.0h-14.2zM738.3 95.0h14.2v5.0h-14.2zM709.9 100.0h14.2v5.0h-14.2zM738.3 100.0h14.2v5.0h-14.2zM758.5 55.0h42.6v5.0h-42.6zM758.5 60.0h42.6v5.0h-42.6zM772.7 65.0h14.2v5.0h-14.2zM772.7 70.0h14.2v5.0h-14.2zM772.7 75.0h14.2v5.0h-14.2zM772.7 80.0h14.2v5.0h-14.2zM772.7 85.0h14.2v5.0h-14.2zM772.7 90.0h14.2v5.0h-14.2zM772.7 95.0h14.2v5.0h-14.2zM772.7 100.0h14.2v5.0h-14.2zM807.2 55.0h42.6v5.0h-42.6zM807.2 60.0h42.6v5.0h-42.6zM807.2 65.0h14.2v5.0h-14.2zM807.2 70.0h14.2v5.0h-14.2zM807.2 75.0h35.5v5.0h-35.5zM807.2 80.0h35.5v5.0h-35.5zM807.2 85.0h14.2v5.0h-14.2zM807.2 90.0h14.2v5.0h-14.2zM807.2 95.0h42.6v5.0h-42.6zM807.2 100.0h42.6v5.0h-42.6zM911.6 55.0h35.5v5.0h-35.5zM904.5 60.0h42.6v5.0h-42.6zM904.5 65.0h14.2v5.0h-14.2zM904.5 70.0h14.2v5.0h-14.2zM904.5 75.0h35.5v5.0h-35.5zM911.6 80.0h35.5v5.0h-35.5zM932.9 85.0h14.2v5.0h-14.2zM932.9 90.0h14.2v5.0h-14.2zM904.5 95.0h42.6v5.0h-42.6zM904.5 100.0h35.5v5.0h-35.5zM953.2 55.0h14.2v5.0h-14.2zM981.6 55.0h14.2v5.0h-14.2zM953.2 60.0h14.2v5.0h-14.2zM981.6 60.0h14.2v5.0h-14.2zM953.2 65.0h14.2v5.0h-14.2zM981.6 65.0h14.2v5.0h-14.2zM953.2 70.0h42.6v5.0h-42.6zM960.3 75.0h28.4v5.0h-28.4zM967.4 80.0h14.2v5.0h-14.2zM967.4 85.0h14.2v5.0h-14.2zM967.4 90.0h14.2v5.0h-14.2zM967.4 95.0h14.2v5.0h-14.2zM967.4 100.0h14.2v5.0h-14.2zM1009.0 55.0h35.5v5.0h-35.5zM1001.9 60.0h42.6v5.0h-42.6zM1001.9 65.0h14.2v5.0h-14.2zM1001.9 70.0h14.2v5.0h-14.2zM1001.9 75.0h35.5v5.0h-35.5zM1009.0 80.0h35.5v5.0h-35.5zM1030.3 85.0h14.2v5.0h-14.2zM1030.3 90.0h14.2v5.0h-14.2zM1001.9 95.0h42.6v5.0h-42.6zM1001.9 100.0h35.5v5.0h-35.5zM1050.6 55.0h42.6v5.0h-42.6zM1050.6 60.0h42.6v5.0h-42.6zM1064.8 65.0h14.2v5.0h-14.2zM1064.8 70.0h14.2v5.0h-14.2zM1064.8 75.0h14.2v5.0h-14.2zM1064.8 80.0h14.2v5.0h-14.2zM1064.8 85.0h14.2v5.0h-14.2zM1064.8 90.0h14.2v5.0h-14.2zM1064.8 95.0h14.2v5.0h-14.2zM1064.8 100.0h14.2v5.0h-14.2zM1099.2 55.0h42.6v5.0h-42.6zM1099.2 60.0h42.6v5.0h-42.6zM1099.2 65.0h14.2v5.0h-14.2zM1099.2 70.0h14.2v5.0h-14.2zM1099.2 75.0h35.5v5.0h-35.5zM1099.2 80.0h35.5v5.0h-35.5zM1099.2 85.0h14.2v5.0h-14.2zM1099.2 90.0h14.2v5.0h-14.2zM1099.2 95.0h42.6v5.0h-42.6zM1099.2 100.0h42.6v5.0h-42.6zM1147.9 55.0h12.2v5.0h-12.2zM1178.3 55.0h12.2v5.0h-12.2zM1147.9 60.0h18.3v5.0h-18.3zM1172.2 60.0h18.3v5.0h-18.3zM1147.9 65.0h42.6v5.0h-42.6zM1147.9 70.0h12.2v5.0h-12.2zM1166.2 70.0h6.1v5.0h-6.1zM1178.3 70.0h12.2v5.0h-12.2zM1147.9 75.0h12.2v5.0h-12.2zM1178.3 75.0h12.2v5.0h-12.2zM1147.9 80.0h12.2v5.0h-12.2zM1178.3 80.0h12.2v5.0h-12.2zM1147.9 85.0h12.2v5.0h-12.2zM1178.3 85.0h12.2v5.0h-12.2zM1147.9 90.0h12.2v5.0h-12.2zM1178.3 90.0h12.2v5.0h-12.2zM1147.9 95.0h12.2v5.0h-12.2zM1178.3 95.0h12.2v5.0h-12.2zM1147.9 100.0h12.2v5.0h-12.2zM1178.3 100.0h12.2v5.0h-12.2z" fill="#0d1a10" stroke="#0d1a10" stroke-width="8.0" stroke-linejoin="miter"/>
<path d="M172.5 53.0h14.2v5.0h-14.2zM200.9 53.0h14.2v5.0h-14.2zM172.5 58.0h14.2v5.0h-14.2zM200.9 58.0h14.2v5.0h-14.2zM172.5 63.0h21.3v5.0h-21.3zM200.9 63.0h14.2v5.0h-14.2zM172.5 68.0h21.3v5.0h-21.3zM200.9 68.0h14.2v5.0h-14.2zM172.5 73.0h42.6v5.0h-42.6zM172.5 78.0h14.2v5.0h-14.2zM193.8 78.0h21.3v5.0h-21.3zM172.5 83.0h14.2v5.0h-14.2zM193.8 83.0h21.3v5.0h-21.3zM172.5 88.0h14.2v5.0h-14.2zM193.8 88.0h21.3v5.0h-21.3zM172.5 93.0h14.2v5.0h-14.2zM200.9 93.0h14.2v5.0h-14.2zM172.5 98.0h14.2v5.0h-14.2zM200.9 98.0h14.2v5.0h-14.2zM228.3 53.0h28.4v5.0h-28.4zM221.2 58.0h42.6v5.0h-42.6zM221.2 63.0h14.2v5.0h-14.2zM249.6 63.0h14.2v5.0h-14.2zM221.2 68.0h14.2v5.0h-14.2zM249.6 68.0h14.2v5.0h-14.2zM221.2 73.0h14.2v5.0h-14.2zM249.6 73.0h14.2v5.0h-14.2zM221.2 78.0h14.2v5.0h-14.2zM249.6 78.0h14.2v5.0h-14.2zM221.2 83.0h14.2v5.0h-14.2zM249.6 83.0h14.2v5.0h-14.2zM221.2 88.0h14.2v5.0h-14.2zM249.6 88.0h14.2v5.0h-14.2zM221.2 93.0h42.6v5.0h-42.6zM228.3 98.0h28.4v5.0h-28.4zM269.8 53.0h14.2v5.0h-14.2zM298.2 53.0h14.2v5.0h-14.2zM269.8 58.0h14.2v5.0h-14.2zM298.2 58.0h14.2v5.0h-14.2zM269.8 63.0h21.3v5.0h-21.3zM298.2 63.0h14.2v5.0h-14.2zM269.8 68.0h21.3v5.0h-21.3zM298.2 68.0h14.2v5.0h-14.2zM269.8 73.0h42.6v5.0h-42.6zM269.8 78.0h14.2v5.0h-14.2zM291.1 78.0h21.3v5.0h-21.3zM269.8 83.0h14.2v5.0h-14.2zM291.1 83.0h21.3v5.0h-21.3zM269.8 88.0h14.2v5.0h-14.2zM291.1 88.0h21.3v5.0h-21.3zM269.8 93.0h14.2v5.0h-14.2zM298.2 93.0h14.2v5.0h-14.2zM269.8 98.0h14.2v5.0h-14.2zM298.2 98.0h14.2v5.0h-14.2zM325.6 73.0h28.4v5.0h-28.4zM325.6 78.0h28.4v5.0h-28.4zM367.2 53.0h35.5v5.0h-35.5zM367.2 58.0h42.6v5.0h-42.6zM367.2 63.0h14.2v5.0h-14.2zM395.6 63.0h14.2v5.0h-14.2zM367.2 68.0h14.2v5.0h-14.2zM395.6 68.0h14.2v5.0h-14.2zM367.2 73.0h14.2v5.0h-14.2zM395.6 73.0h14.2v5.0h-14.2zM367.2 78.0h14.2v5.0h-14.2zM395.6 78.0h14.2v5.0h-14.2zM367.2 83.0h14.2v5.0h-14.2zM395.6 83.0h14.2v5.0h-14.2zM367.2 88.0h14.2v5.0h-14.2zM395.6 88.0h14.2v5.0h-14.2zM367.2 93.0h42.6v5.0h-42.6zM367.2 98.0h35.5v5.0h-35.5zM415.9 53.0h42.6v5.0h-42.6zM415.9 58.0h42.6v5.0h-42.6zM415.9 63.0h14.2v5.0h-14.2zM415.9 68.0h14.2v5.0h-14.2zM415.9 73.0h35.5v5.0h-35.5zM415.9 78.0h35.5v5.0h-35.5zM415.9 83.0h14.2v5.0h-14.2zM415.9 88.0h14.2v5.0h-14.2zM415.9 93.0h42.6v5.0h-42.6zM415.9 98.0h42.6v5.0h-42.6zM471.6 53.0h35.5v5.0h-35.5zM464.5 58.0h42.6v5.0h-42.6zM464.5 63.0h14.2v5.0h-14.2zM464.5 68.0h14.2v5.0h-14.2zM464.5 73.0h14.2v5.0h-14.2zM485.8 73.0h21.3v5.0h-21.3zM464.5 78.0h14.2v5.0h-14.2zM485.8 78.0h21.3v5.0h-21.3zM464.5 83.0h14.2v5.0h-14.2zM492.9 83.0h14.2v5.0h-14.2zM464.5 88.0h14.2v5.0h-14.2zM492.9 88.0h14.2v5.0h-14.2zM464.5 93.0h42.6v5.0h-42.6zM471.6 98.0h35.5v5.0h-35.5zM513.2 53.0h42.6v5.0h-42.6zM513.2 58.0h42.6v5.0h-42.6zM513.2 63.0h14.2v5.0h-14.2zM513.2 68.0h14.2v5.0h-14.2zM513.2 73.0h35.5v5.0h-35.5zM513.2 78.0h35.5v5.0h-35.5zM513.2 83.0h14.2v5.0h-14.2zM513.2 88.0h14.2v5.0h-14.2zM513.2 93.0h42.6v5.0h-42.6zM513.2 98.0h42.6v5.0h-42.6zM561.9 53.0h14.2v5.0h-14.2zM590.3 53.0h14.2v5.0h-14.2zM561.9 58.0h14.2v5.0h-14.2zM590.3 58.0h14.2v5.0h-14.2zM561.9 63.0h21.3v5.0h-21.3zM590.3 63.0h14.2v5.0h-14.2zM561.9 68.0h21.3v5.0h-21.3zM590.3 68.0h14.2v5.0h-14.2zM561.9 73.0h42.6v5.0h-42.6zM561.9 78.0h14.2v5.0h-14.2zM583.2 78.0h21.3v5.0h-21.3zM561.9 83.0h14.2v5.0h-14.2zM583.2 83.0h21.3v5.0h-21.3zM561.9 88.0h14.2v5.0h-14.2zM583.2 88.0h21.3v5.0h-21.3zM561.9 93.0h14.2v5.0h-14.2zM590.3 93.0h14.2v5.0h-14.2zM561.9 98.0h14.2v5.0h-14.2zM590.3 98.0h14.2v5.0h-14.2zM610.5 53.0h42.6v5.0h-42.6zM610.5 58.0h42.6v5.0h-42.6zM610.5 63.0h14.2v5.0h-14.2zM610.5 68.0h14.2v5.0h-14.2zM610.5 73.0h35.5v5.0h-35.5zM610.5 78.0h35.5v5.0h-35.5zM610.5 83.0h14.2v5.0h-14.2zM610.5 88.0h14.2v5.0h-14.2zM610.5 93.0h42.6v5.0h-42.6zM610.5 98.0h42.6v5.0h-42.6zM659.2 53.0h35.5v5.0h-35.5zM659.2 58.0h42.6v5.0h-42.6zM659.2 63.0h14.2v5.0h-14.2zM687.6 63.0h14.2v5.0h-14.2zM659.2 68.0h14.2v5.0h-14.2zM687.6 68.0h14.2v5.0h-14.2zM659.2 73.0h42.6v5.0h-42.6zM659.2 78.0h35.5v5.0h-35.5zM659.2 83.0h14.2v5.0h-14.2zM680.5 83.0h14.2v5.0h-14.2zM659.2 88.0h14.2v5.0h-14.2zM687.6 88.0h14.2v5.0h-14.2zM659.2 93.0h14.2v5.0h-14.2zM687.6 93.0h14.2v5.0h-14.2zM659.2 98.0h14.2v5.0h-14.2zM687.6 98.0h14.2v5.0h-14.2zM715.0 53.0h28.4v5.0h-28.4zM707.9 58.0h42.6v5.0h-42.6zM707.9 63.0h14.2v5.0h-14.2zM736.3 63.0h14.2v5.0h-14.2zM707.9 68.0h14.2v5.0h-14.2zM736.3 68.0h14.2v5.0h-14.2zM707.9 73.0h42.6v5.0h-42.6zM707.9 78.0h42.6v5.0h-42.6zM707.9 83.0h14.2v5.0h-14.2zM736.3 83.0h14.2v5.0h-14.2zM707.9 88.0h14.2v5.0h-14.2zM736.3 88.0h14.2v5.0h-14.2zM707.9 93.0h14.2v5.0h-14.2zM736.3 93.0h14.2v5.0h-14.2zM707.9 98.0h14.2v5.0h-14.2zM736.3 98.0h14.2v5.0h-14.2zM756.5 53.0h42.6v5.0h-42.6zM756.5 58.0h42.6v5.0h-42.6zM770.7 63.0h14.2v5.0h-14.2zM770.7 68.0h14.2v5.0h-14.2zM770.7 73.0h14.2v5.0h-14.2zM770.7 78.0h14.2v5.0h-14.2zM770.7 83.0h14.2v5.0h-14.2zM770.7 88.0h14.2v5.0h-14.2zM770.7 93.0h14.2v5.0h-14.2zM770.7 98.0h14.2v5.0h-14.2zM805.2 53.0h42.6v5.0h-42.6zM805.2 58.0h42.6v5.0h-42.6zM805.2 63.0h14.2v5.0h-14.2zM805.2 68.0h14.2v5.0h-14.2zM805.2 73.0h35.5v5.0h-35.5zM805.2 78.0h35.5v5.0h-35.5zM805.2 83.0h14.2v5.0h-14.2zM805.2 88.0h14.2v5.0h-14.2zM805.2 93.0h42.6v5.0h-42.6zM805.2 98.0h42.6v5.0h-42.6zM909.6 53.0h35.5v5.0h-35.5zM902.5 58.0h42.6v5.0h-42.6zM902.5 63.0h14.2v5.0h-14.2zM902.5 68.0h14.2v5.0h-14.2zM902.5 73.0h35.5v5.0h-35.5zM909.6 78.0h35.5v5.0h-35.5zM930.9 83.0h14.2v5.0h-14.2zM930.9 88.0h14.2v5.0h-14.2zM902.5 93.0h42.6v5.0h-42.6zM902.5 98.0h35.5v5.0h-35.5zM951.2 53.0h14.2v5.0h-14.2zM979.6 53.0h14.2v5.0h-14.2zM951.2 58.0h14.2v5.0h-14.2zM979.6 58.0h14.2v5.0h-14.2zM951.2 63.0h14.2v5.0h-14.2zM979.6 63.0h14.2v5.0h-14.2zM951.2 68.0h42.6v5.0h-42.6zM958.3 73.0h28.4v5.0h-28.4zM965.4 78.0h14.2v5.0h-14.2zM965.4 83.0h14.2v5.0h-14.2zM965.4 88.0h14.2v5.0h-14.2zM965.4 93.0h14.2v5.0h-14.2zM965.4 98.0h14.2v5.0h-14.2zM1007.0 53.0h35.5v5.0h-35.5zM999.9 58.0h42.6v5.0h-42.6zM999.9 63.0h14.2v5.0h-14.2zM999.9 68.0h14.2v5.0h-14.2zM999.9 73.0h35.5v5.0h-35.5zM1007.0 78.0h35.5v5.0h-35.5zM1028.3 83.0h14.2v5.0h-14.2zM1028.3 88.0h14.2v5.0h-14.2zM999.9 93.0h42.6v5.0h-42.6zM999.9 98.0h35.5v5.0h-35.5zM1048.6 53.0h42.6v5.0h-42.6zM1048.6 58.0h42.6v5.0h-42.6zM1062.8 63.0h14.2v5.0h-14.2zM1062.8 68.0h14.2v5.0h-14.2zM1062.8 73.0h14.2v5.0h-14.2zM1062.8 78.0h14.2v5.0h-14.2zM1062.8 83.0h14.2v5.0h-14.2zM1062.8 88.0h14.2v5.0h-14.2zM1062.8 93.0h14.2v5.0h-14.2zM1062.8 98.0h14.2v5.0h-14.2zM1097.2 53.0h42.6v5.0h-42.6zM1097.2 58.0h42.6v5.0h-42.6zM1097.2 63.0h14.2v5.0h-14.2zM1097.2 68.0h14.2v5.0h-14.2zM1097.2 73.0h35.5v5.0h-35.5zM1097.2 78.0h35.5v5.0h-35.5zM1097.2 83.0h14.2v5.0h-14.2zM1097.2 88.0h14.2v5.0h-14.2zM1097.2 93.0h42.6v5.0h-42.6zM1097.2 98.0h42.6v5.0h-42.6zM1145.9 53.0h12.2v5.0h-12.2zM1176.3 53.0h12.2v5.0h-12.2zM1145.9 58.0h18.3v5.0h-18.3zM1170.2 58.0h18.3v5.0h-18.3zM1145.9 63.0h42.6v5.0h-42.6zM1145.9 68.0h12.2v5.0h-12.2zM1164.2 68.0h6.1v5.0h-6.1zM1176.3 68.0h12.2v5.0h-12.2zM1145.9 73.0h12.2v5.0h-12.2zM1176.3 73.0h12.2v5.0h-12.2zM1145.9 78.0h12.2v5.0h-12.2zM1176.3 78.0h12.2v5.0h-12.2zM1145.9 83.0h12.2v5.0h-12.2zM1176.3 83.0h12.2v5.0h-12.2zM1145.9 88.0h12.2v5.0h-12.2zM1176.3 88.0h12.2v5.0h-12.2zM1145.9 93.0h12.2v5.0h-12.2zM1176.3 93.0h12.2v5.0h-12.2zM1145.9 98.0h12.2v5.0h-12.2zM1176.3 98.0h12.2v5.0h-12.2z" fill="#5fe35d" stroke="#0d1a10" stroke-width="8.0" stroke-linejoin="miter" paint-order="stroke"/>
<rect x="1416.0" y="22.0" width="1306.0" height="113.0" fill="#101c13" />
<rect x="1472.0" y="22.0" width="8.0" height="6.0" fill="#f9e6b3" />
<rect x="2658.0" y="22.0" width="8.0" height="6.0" fill="#f9e6b3" />
<rect x="1472.0" y="129.0" width="8.0" height="6.0" fill="#f9e6b3" />
<rect x="2658.0" y="129.0" width="8.0" height="6.0" fill="#f9e6b3" />
<rect x="1450.0" y="22.0" width="8.0" height="6.0" fill="#f9e6b3" />
<rect x="2680.0" y="22.0" width="8.0" height="6.0" fill="#f9e6b3" />
<rect x="1450.0" y="129.0" width="8.0" height="6.0" fill="#f9e6b3" />
<rect x="2680.0" y="129.0" width="8.0" height="6.0" fill="#f9e6b3" />
<rect x="1416.0" y="22.0" width="4.0" height="5.0" fill="#f9e6b3" />
<rect x="2718.0" y="22.0" width="4.0" height="5.0" fill="#f9e6b3" />
<rect x="1416.0" y="130.0" width="4.0" height="5.0" fill="#f9e6b3" />
<rect x="2718.0" y="130.0" width="4.0" height="5.0" fill="#f9e6b3" />
<rect x="1416.0" y="49.0" width="7.0" height="11.0" fill="#f9e6b3" />
<rect x="2715.0" y="49.0" width="7.0" height="11.0" fill="#f9e6b3" />
<rect x="1416.0" y="97.0" width="7.0" height="11.0" fill="#f9e6b3" />
<rect x="2715.0" y="97.0" width="7.0" height="11.0" fill="#f9e6b3" />
<rect x="1423.0" y="28.0" width="1292.0" height="101.0" fill="#5bc36a" />
<rect x="1430.0" y="34.0" width="1278.0" height="89.0" fill="#1f5236" />
<rect x="1431.0" y="35.0" width="1276.0" height="87.0" fill="#28633f" />
<rect x="1438.0" y="28.0" width="9.0" height="10.0" fill="#101c13" />
<rect x="1438.0" y="119.0" width="9.0" height="10.0" fill="#101c13" />
<rect x="1459.0" y="28.0" width="8.0" height="10.0" fill="#101c13" />
<rect x="1459.0" y="119.0" width="8.0" height="10.0" fill="#101c13" />
<rect x="2691.0" y="28.0" width="9.0" height="10.0" fill="#101c13" />
<rect x="2691.0" y="119.0" width="9.0" height="10.0" fill="#101c13" />
<rect x="2671.0" y="28.0" width="8.0" height="10.0" fill="#101c13" />
<rect x="2671.0" y="119.0" width="8.0" height="10.0" fill="#101c13" />
<rect x="1423.0" y="40.0" width="14.0" height="5.0" fill="#101c13" />
<rect x="2701.0" y="40.0" width="14.0" height="5.0" fill="#101c13" />
<rect x="1423.0" y="102.0" width="14.0" height="5.0" fill="#101c13" />
<rect x="2701.0" y="102.0" width="14.0" height="5.0" fill="#101c13" />
<rect x="1430.0" y="35.0" width="3.0" height="20.0" fill="#5bc36a" />
<rect x="2705.0" y="35.0" width="3.0" height="20.0" fill="#5bc36a" />
<rect x="1430.0" y="102.0" width="3.0" height="20.0" fill="#5bc36a" />
<rect x="2705.0" y="102.0" width="3.0" height="20.0" fill="#5bc36a" />
<path d="M1658.5 55.0h35.5v5.0h-35.5zM1658.5 60.0h42.6v5.0h-42.6zM1658.5 65.0h14.2v5.0h-14.2zM1686.9 65.0h14.2v5.0h-14.2zM1658.5 70.0h14.2v5.0h-14.2zM1686.9 70.0h14.2v5.0h-14.2zM1658.5 75.0h14.2v5.0h-14.2zM1686.9 75.0h14.2v5.0h-14.2zM1658.5 80.0h14.2v5.0h-14.2zM1686.9 80.0h14.2v5.0h-14.2zM1658.5 85.0h14.2v5.0h-14.2zM1686.9 85.0h14.2v5.0h-14.2zM1658.5 90.0h14.2v5.0h-14.2zM1686.9 90.0h14.2v5.0h-14.2zM1658.5 95.0h42.6v5.0h-42.6zM1658.5 100.0h35.5v5.0h-35.5zM1707.2 55.0h42.6v5.0h-42.6zM1707.2 60.0h42.6v5.0h-42.6zM1707.2 65.0h14.2v5.0h-14.2zM1707.2 70.0h14.2v5.0h-14.2zM1707.2 75.0h35.5v5.0h-35.5zM1707.2 80.0h35.5v5.0h-35.5zM1707.2 85.0h14.2v5.0h-14.2zM1707.2 90.0h14.2v5.0h-14.2zM1707.2 95.0h42.6v5.0h-42.6zM1707.2 100.0h42.6v5.0h-42.6zM1762.9 55.0h35.5v5.0h-35.5zM1755.8 60.0h42.6v5.0h-42.6zM1755.8 65.0h14.2v5.0h-14.2zM1755.8 70.0h14.2v5.0h-14.2zM1755.8 75.0h14.2v5.0h-14.2zM1777.1 75.0h21.3v5.0h-21.3zM1755.8 80.0h14.2v5.0h-14.2zM1777.1 80.0h21.3v5.0h-21.3zM1755.8 85.0h14.2v5.0h-14.2zM1784.2 85.0h14.2v5.0h-14.2zM1755.8 90.0h14.2v5.0h-14.2zM1784.2 90.0h14.2v5.0h-14.2zM1755.8 95.0h42.6v5.0h-42.6zM1762.9 100.0h35.5v5.0h-35.5zM1804.5 55.0h42.6v5.0h-42.6zM1804.5 60.0h42.6v5.0h-42.6zM1804.5 65.0h14.2v5.0h-14.2zM1804.5 70.0h14.2v5.0h-14.2zM1804.5 75.0h35.5v5.0h-35.5zM1804.5 80.0h35.5v5.0h-35.5zM1804.5 85.0h14.2v5.0h-14.2zM1804.5 90.0h14.2v5.0h-14.2zM1804.5 95.0h42.6v5.0h-42.6zM1804.5 100.0h42.6v5.0h-42.6zM1853.2 55.0h14.2v5.0h-14.2zM1881.6 55.0h14.2v5.0h-14.2zM1853.2 60.0h14.2v5.0h-14.2zM1881.6 60.0h14.2v5.0h-14.2zM1853.2 65.0h21.3v5.0h-21.3zM1881.6 65.0h14.2v5.0h-14.2zM1853.2 70.0h21.3v5.0h-21.3zM1881.6 70.0h14.2v5.0h-14.2zM1853.2 75.0h42.6v5.0h-42.6zM1853.2 80.0h14.2v5.0h-14.2zM1874.5 80.0h21.3v5.0h-21.3zM1853.2 85.0h14.2v5.0h-14.2zM1874.5 85.0h21.3v5.0h-21.3zM1853.2 90.0h14.2v5.0h-14.2zM1874.5 90.0h21.3v5.0h-21.3zM1853.2 95.0h14.2v5.0h-14.2zM1881.6 95.0h14.2v5.0h-14.2zM1853.2 100.0h14.2v5.0h-14.2zM1881.6 100.0h14.2v5.0h-14.2zM1901.9 55.0h42.6v5.0h-42.6zM1901.9 60.0h42.6v5.0h-42.6zM1901.9 65.0h14.2v5.0h-14.2zM1901.9 70.0h14.2v5.0h-14.2zM1901.9 75.0h35.5v5.0h-35.5zM1901.9 80.0h35.5v5.0h-35.5zM1901.9 85.0h14.2v5.0h-14.2zM1901.9 90.0h14.2v5.0h-14.2zM1901.9 95.0h42.6v5.0h-42.6zM1901.9 100.0h42.6v5.0h-42.6zM1950.5 55.0h35.5v5.0h-35.5zM1950.5 60.0h42.6v5.0h-42.6zM1950.5 65.0h14.2v5.0h-14.2zM1978.9 65.0h14.2v5.0h-14.2zM1950.5 70.0h14.2v5.0h-14.2zM1978.9 70.0h14.2v5.0h-14.2zM1950.5 75.0h42.6v5.0h-42.6zM1950.5 80.0h35.5v5.0h-35.5zM1950.5 85.0h14.2v5.0h-14.2zM1971.8 85.0h14.2v5.0h-14.2zM1950.5 90.0h14.2v5.0h-14.2zM1978.9 90.0h14.2v5.0h-14.2zM1950.5 95.0h14.2v5.0h-14.2zM1978.9 95.0h14.2v5.0h-14.2zM1950.5 100.0h14.2v5.0h-14.2zM1978.9 100.0h14.2v5.0h-14.2zM2006.3 55.0h28.4v5.0h-28.4zM1999.2 60.0h42.6v5.0h-42.6zM1999.2 65.0h14.2v5.0h-14.2zM2027.6 65.0h14.2v5.0h-14.2zM1999.2 70.0h14.2v5.0h-14.2zM2027.6 70.0h14.2v5.0h-14.2zM1999.2 75.0h42.6v5.0h-42.6zM1999.2 80.0h42.6v5.0h-42.6zM1999.2 85.0h14.2v5.0h-14.2zM2027.6 85.0h14.2v5.0h-14.2zM1999.2 90.0h14.2v5.0h-14.2zM2027.6 90.0h14.2v5.0h-14.2zM1999.2 95.0h14.2v5.0h-14.2zM2027.6 95.0h14.2v5.0h-14.2zM1999.2 100.0h14.2v5.0h-14.2zM2027.6 100.0h14.2v5.0h-14.2zM2047.9 55.0h42.6v5.0h-42.6zM2047.9 60.0h42.6v5.0h-42.6zM2062.1 65.0h14.2v5.0h-14.2zM2062.1 70.0h14.2v5.0h-14.2zM2062.1 75.0h14.2v5.0h-14.2zM2062.1 80.0h14.2v5.0h-14.2zM2062.1 85.0h14.2v5.0h-14.2zM2062.1 90.0h14.2v5.0h-14.2zM2062.1 95.0h14.2v5.0h-14.2zM2062.1 100.0h14.2v5.0h-14.2zM2096.5 55.0h42.6v5.0h-42.6zM2096.5 60.0h42.6v5.0h-42.6zM2096.5 65.0h14.2v5.0h-14.2zM2096.5 70.0h14.2v5.0h-14.2zM2096.5 75.0h35.5v5.0h-35.5zM2096.5 80.0h35.5v5.0h-35.5zM2096.5 85.0h14.2v5.0h-14.2zM2096.5 90.0h14.2v5.0h-14.2zM2096.5 95.0h42.6v5.0h-42.6zM2096.5 100.0h42.6v5.0h-42.6zM2201.0 55.0h35.5v5.0h-35.5zM2193.9 60.0h42.6v5.0h-42.6zM2193.9 65.0h14.2v5.0h-14.2zM2193.9 70.0h14.2v5.0h-14.2zM2193.9 75.0h35.5v5.0h-35.5zM2201.0 80.0h35.5v5.0h-35.5zM2222.3 85.0h14.2v5.0h-14.2zM2222.3 90.0h14.2v5.0h-14.2zM2193.9 95.0h42.6v5.0h-42.6zM2193.9 100.0h35.5v5.0h-35.5zM2242.5 55.0h14.2v5.0h-14.2zM2270.9 55.0h14.2v5.0h-14.2zM2242.5 60.0h14.2v5.0h-14.2zM2270.9 60.0h14.2v5.0h-14.2zM2242.5 65.0h14.2v5.0h-14.2zM2270.9 65.0h14.2v5.0h-14.2zM2242.5 70.0h42.6v5.0h-42.6zM2249.6 75.0h28.4v5.0h-28.4zM2256.7 80.0h14.2v5.0h-14.2zM2256.7 85.0h14.2v5.0h-14.2zM2256.7 90.0h14.2v5.0h-14.2zM2256.7 95.0h14.2v5.0h-14.2zM2256.7 100.0h14.2v5.0h-14.2zM2298.3 55.0h35.5v5.0h-35.5zM2291.2 60.0h42.6v5.0h-42.6zM2291.2 65.0h14.2v5.0h-14.2zM2291.2 70.0h14.2v5.0h-14.2zM2291.2 75.0h35.5v5.0h-35.5zM2298.3 80.0h35.5v5.0h-35.5zM2319.6 85.0h14.2v5.0h-14.2zM2319.6 90.0h14.2v5.0h-14.2zM2291.2 95.0h42.6v5.0h-42.6zM2291.2 100.0h35.5v5.0h-35.5zM2339.9 55.0h42.6v5.0h-42.6zM2339.9 60.0h42.6v5.0h-42.6zM2354.1 65.0h14.2v5.0h-14.2zM2354.1 70.0h14.2v5.0h-14.2zM2354.1 75.0h14.2v5.0h-14.2zM2354.1 80.0h14.2v5.0h-14.2zM2354.1 85.0h14.2v5.0h-14.2zM2354.1 90.0h14.2v5.0h-14.2zM2354.1 95.0h14.2v5.0h-14.2zM2354.1 100.0h14.2v5.0h-14.2zM2388.6 55.0h42.6v5.0h-42.6zM2388.6 60.0h42.6v5.0h-42.6zM2388.6 65.0h14.2v5.0h-14.2zM2388.6 70.0h14.2v5.0h-14.2zM2388.6 75.0h35.5v5.0h-35.5zM2388.6 80.0h35.5v5.0h-35.5zM2388.6 85.0h14.2v5.0h-14.2zM2388.6 90.0h14.2v5.0h-14.2zM2388.6 95.0h42.6v5.0h-42.6zM2388.6 100.0h42.6v5.0h-42.6zM2437.2 55.0h12.2v5.0h-12.2zM2467.6 55.0h12.2v5.0h-12.2zM2437.2 60.0h18.3v5.0h-18.3zM2461.6 60.0h18.3v5.0h-18.3zM2437.2 65.0h42.6v5.0h-42.6zM2437.2 70.0h12.2v5.0h-12.2zM2455.5 70.0h6.1v5.0h-6.1zM2467.6 70.0h12.2v5.0h-12.2zM2437.2 75.0h12.2v5.0h-12.2zM2467.6 75.0h12.2v5.0h-12.2zM2437.2 80.0h12.2v5.0h-12.2zM2467.6 80.0h12.2v5.0h-12.2zM2437.2 85.0h12.2v5.0h-12.2zM2467.6 85.0h12.2v5.0h-12.2zM2437.2 90.0h12.2v5.0h-12.2zM2467.6 90.0h12.2v5.0h-12.2zM2437.2 95.0h12.2v5.0h-12.2zM2467.6 95.0h12.2v5.0h-12.2zM2437.2 100.0h12.2v5.0h-12.2zM2467.6 100.0h12.2v5.0h-12.2z" fill="#0d1a10" stroke="#0d1a10" stroke-width="8.0" stroke-linejoin="miter"/>
<path d="M1656.5 53.0h35.5v5.0h-35.5zM1656.5 58.0h42.6v5.0h-42.6zM1656.5 63.0h14.2v5.0h-14.2zM1684.9 63.0h14.2v5.0h-14.2zM1656.5 68.0h14.2v5.0h-14.2zM1684.9 68.0h14.2v5.0h-14.2zM1656.5 73.0h14.2v5.0h-14.2zM1684.9 73.0h14.2v5.0h-14.2zM1656.5 78.0h14.2v5.0h-14.2zM1684.9 78.0h14.2v5.0h-14.2zM1656.5 83.0h14.2v5.0h-14.2zM1684.9 83.0h14.2v5.0h-14.2zM1656.5 88.0h14.2v5.0h-14.2zM1684.9 88.0h14.2v5.0h-14.2zM1656.5 93.0h42.6v5.0h-42.6zM1656.5 98.0h35.5v5.0h-35.5zM1705.2 53.0h42.6v5.0h-42.6zM1705.2 58.0h42.6v5.0h-42.6zM1705.2 63.0h14.2v5.0h-14.2zM1705.2 68.0h14.2v5.0h-14.2zM1705.2 73.0h35.5v5.0h-35.5zM1705.2 78.0h35.5v5.0h-35.5zM1705.2 83.0h14.2v5.0h-14.2zM1705.2 88.0h14.2v5.0h-14.2zM1705.2 93.0h42.6v5.0h-42.6zM1705.2 98.0h42.6v5.0h-42.6zM1760.9 53.0h35.5v5.0h-35.5zM1753.8 58.0h42.6v5.0h-42.6zM1753.8 63.0h14.2v5.0h-14.2zM1753.8 68.0h14.2v5.0h-14.2zM1753.8 73.0h14.2v5.0h-14.2zM1775.1 73.0h21.3v5.0h-21.3zM1753.8 78.0h14.2v5.0h-14.2zM1775.1 78.0h21.3v5.0h-21.3zM1753.8 83.0h14.2v5.0h-14.2zM1782.2 83.0h14.2v5.0h-14.2zM1753.8 88.0h14.2v5.0h-14.2zM1782.2 88.0h14.2v5.0h-14.2zM1753.8 93.0h42.6v5.0h-42.6zM1760.9 98.0h35.5v5.0h-35.5zM1802.5 53.0h42.6v5.0h-42.6zM1802.5 58.0h42.6v5.0h-42.6zM1802.5 63.0h14.2v5.0h-14.2zM1802.5 68.0h14.2v5.0h-14.2zM1802.5 73.0h35.5v5.0h-35.5zM1802.5 78.0h35.5v5.0h-35.5zM1802.5 83.0h14.2v5.0h-14.2zM1802.5 88.0h14.2v5.0h-14.2zM1802.5 93.0h42.6v5.0h-42.6zM1802.5 98.0h42.6v5.0h-42.6zM1851.2 53.0h14.2v5.0h-14.2zM1879.6 53.0h14.2v5.0h-14.2zM1851.2 58.0h14.2v5.0h-14.2zM1879.6 58.0h14.2v5.0h-14.2zM1851.2 63.0h21.3v5.0h-21.3zM1879.6 63.0h14.2v5.0h-14.2zM1851.2 68.0h21.3v5.0h-21.3zM1879.6 68.0h14.2v5.0h-14.2zM1851.2 73.0h42.6v5.0h-42.6zM1851.2 78.0h14.2v5.0h-14.2zM1872.5 78.0h21.3v5.0h-21.3zM1851.2 83.0h14.2v5.0h-14.2zM1872.5 83.0h21.3v5.0h-21.3zM1851.2 88.0h14.2v5.0h-14.2zM1872.5 88.0h21.3v5.0h-21.3zM1851.2 93.0h14.2v5.0h-14.2zM1879.6 93.0h14.2v5.0h-14.2zM1851.2 98.0h14.2v5.0h-14.2zM1879.6 98.0h14.2v5.0h-14.2zM1899.9 53.0h42.6v5.0h-42.6zM1899.9 58.0h42.6v5.0h-42.6zM1899.9 63.0h14.2v5.0h-14.2zM1899.9 68.0h14.2v5.0h-14.2zM1899.9 73.0h35.5v5.0h-35.5zM1899.9 78.0h35.5v5.0h-35.5zM1899.9 83.0h14.2v5.0h-14.2zM1899.9 88.0h14.2v5.0h-14.2zM1899.9 93.0h42.6v5.0h-42.6zM1899.9 98.0h42.6v5.0h-42.6zM1948.5 53.0h35.5v5.0h-35.5zM1948.5 58.0h42.6v5.0h-42.6zM1948.5 63.0h14.2v5.0h-14.2zM1976.9 63.0h14.2v5.0h-14.2zM1948.5 68.0h14.2v5.0h-14.2zM1976.9 68.0h14.2v5.0h-14.2zM1948.5 73.0h42.6v5.0h-42.6zM1948.5 78.0h35.5v5.0h-35.5zM1948.5 83.0h14.2v5.0h-14.2zM1969.8 83.0h14.2v5.0h-14.2zM1948.5 88.0h14.2v5.0h-14.2zM1976.9 88.0h14.2v5.0h-14.2zM1948.5 93.0h14.2v5.0h-14.2zM1976.9 93.0h14.2v5.0h-14.2zM1948.5 98.0h14.2v5.0h-14.2zM1976.9 98.0h14.2v5.0h-14.2zM2004.3 53.0h28.4v5.0h-28.4zM1997.2 58.0h42.6v5.0h-42.6zM1997.2 63.0h14.2v5.0h-14.2zM2025.6 63.0h14.2v5.0h-14.2zM1997.2 68.0h14.2v5.0h-14.2zM2025.6 68.0h14.2v5.0h-14.2zM1997.2 73.0h42.6v5.0h-42.6zM1997.2 78.0h42.6v5.0h-42.6zM1997.2 83.0h14.2v5.0h-14.2zM2025.6 83.0h14.2v5.0h-14.2zM1997.2 88.0h14.2v5.0h-14.2zM2025.6 88.0h14.2v5.0h-14.2zM1997.2 93.0h14.2v5.0h-14.2zM2025.6 93.0h14.2v5.0h-14.2zM1997.2 98.0h14.2v5.0h-14.2zM2025.6 98.0h14.2v5.0h-14.2zM2045.9 53.0h42.6v5.0h-42.6zM2045.9 58.0h42.6v5.0h-42.6zM2060.1 63.0h14.2v5.0h-14.2zM2060.1 68.0h14.2v5.0h-14.2zM2060.1 73.0h14.2v5.0h-14.2zM2060.1 78.0h14.2v5.0h-14.2zM2060.1 83.0h14.2v5.0h-14.2zM2060.1 88.0h14.2v5.0h-14.2zM2060.1 93.0h14.2v5.0h-14.2zM2060.1 98.0h14.2v5.0h-14.2zM2094.5 53.0h42.6v5.0h-42.6zM2094.5 58.0h42.6v5.0h-42.6zM2094.5 63.0h14.2v5.0h-14.2zM2094.5 68.0h14.2v5.0h-14.2zM2094.5 73.0h35.5v5.0h-35.5zM2094.5 78.0h35.5v5.0h-35.5zM2094.5 83.0h14.2v5.0h-14.2zM2094.5 88.0h14.2v5.0h-14.2zM2094.5 93.0h42.6v5.0h-42.6zM2094.5 98.0h42.6v5.0h-42.6zM2199.0 53.0h35.5v5.0h-35.5zM2191.9 58.0h42.6v5.0h-42.6zM2191.9 63.0h14.2v5.0h-14.2zM2191.9 68.0h14.2v5.0h-14.2zM2191.9 73.0h35.5v5.0h-35.5zM2199.0 78.0h35.5v5.0h-35.5zM2220.3 83.0h14.2v5.0h-14.2zM2220.3 88.0h14.2v5.0h-14.2zM2191.9 93.0h42.6v5.0h-42.6zM2191.9 98.0h35.5v5.0h-35.5zM2240.5 53.0h14.2v5.0h-14.2zM2268.9 53.0h14.2v5.0h-14.2zM2240.5 58.0h14.2v5.0h-14.2zM2268.9 58.0h14.2v5.0h-14.2zM2240.5 63.0h14.2v5.0h-14.2zM2268.9 63.0h14.2v5.0h-14.2zM2240.5 68.0h42.6v5.0h-42.6zM2247.6 73.0h28.4v5.0h-28.4zM2254.7 78.0h14.2v5.0h-14.2zM2254.7 83.0h14.2v5.0h-14.2zM2254.7 88.0h14.2v5.0h-14.2zM2254.7 93.0h14.2v5.0h-14.2zM2254.7 98.0h14.2v5.0h-14.2zM2296.3 53.0h35.5v5.0h-35.5zM2289.2 58.0h42.6v5.0h-42.6zM2289.2 63.0h14.2v5.0h-14.2zM2289.2 68.0h14.2v5.0h-14.2zM2289.2 73.0h35.5v5.0h-35.5zM2296.3 78.0h35.5v5.0h-35.5zM2317.6 83.0h14.2v5.0h-14.2zM2317.6 88.0h14.2v5.0h-14.2zM2289.2 93.0h42.6v5.0h-42.6zM2289.2 98.0h35.5v5.0h-35.5zM2337.9 53.0h42.6v5.0h-42.6zM2337.9 58.0h42.6v5.0h-42.6zM2352.1 63.0h14.2v5.0h-14.2zM2352.1 68.0h14.2v5.0h-14.2zM2352.1 73.0h14.2v5.0h-14.2zM2352.1 78.0h14.2v5.0h-14.2zM2352.1 83.0h14.2v5.0h-14.2zM2352.1 88.0h14.2v5.0h-14.2zM2352.1 93.0h14.2v5.0h-14.2zM2352.1 98.0h14.2v5.0h-14.2zM2386.6 53.0h42.6v5.0h-42.6zM2386.6 58.0h42.6v5.0h-42.6zM2386.6 63.0h14.2v5.0h-14.2zM2386.6 68.0h14.2v5.0h-14.2zM2386.6 73.0h35.5v5.0h-35.5zM2386.6 78.0h35.5v5.0h-35.5zM2386.6 83.0h14.2v5.0h-14.2zM2386.6 88.0h14.2v5.0h-14.2zM2386.6 93.0h42.6v5.0h-42.6zM2386.6 98.0h42.6v5.0h-42.6zM2435.2 53.0h12.2v5.0h-12.2zM2465.6 53.0h12.2v5.0h-12.2zM2435.2 58.0h18.3v5.0h-18.3zM2459.6 58.0h18.3v5.0h-18.3zM2435.2 63.0h42.6v5.0h-42.6zM2435.2 68.0h12.2v5.0h-12.2zM2453.5 68.0h6.1v5.0h-6.1zM2465.6 68.0h12.2v5.0h-12.2zM2435.2 73.0h12.2v5.0h-12.2zM2465.6 73.0h12.2v5.0h-12.2zM2435.2 78.0h12.2v5.0h-12.2zM2465.6 78.0h12.2v5.0h-12.2zM2435.2 83.0h12.2v5.0h-12.2zM2465.6 83.0h12.2v5.0h-12.2zM2435.2 88.0h12.2v5.0h-12.2zM2465.6 88.0h12.2v5.0h-12.2zM2435.2 93.0h12.2v5.0h-12.2zM2465.6 93.0h12.2v5.0h-12.2zM2435.2 98.0h12.2v5.0h-12.2zM2465.6 98.0h12.2v5.0h-12.2z" fill="#5fe35d" stroke="#0d1a10" stroke-width="8.0" stroke-linejoin="miter" paint-order="stroke"/>
<polygon points="199.0,298.0 659.0,298.0 663.0,302.0 663.0,941.0 659.0,945.0 199.0,945.0 195.0,941.0 195.0,302.0" fill="#10261a" />
<rect x="198.0" y="301.0" width="462.0" height="641.0" fill="#55c266" />
<rect x="198.0" y="936.0" width="462.0" height="6.0" fill="#2b8646" />
<rect x="210.0" y="313.0" width="438.0" height="617.0" fill="#2b8646" />
<rect x="212.0" y="315.0" width="434.0" height="613.0" fill="#1f6e4a" />
<circle cx="224.0" cy="327.0" r="5" fill="#2c7a4c" stroke="#16492e" stroke-width="2"/>
<circle cx="634.0" cy="327.0" r="5" fill="#2c7a4c" stroke="#16492e" stroke-width="2"/>
<circle cx="224.0" cy="916.0" r="5" fill="#2c7a4c" stroke="#16492e" stroke-width="2"/>
<circle cx="634.0" cy="916.0" r="5" fill="#2c7a4c" stroke="#16492e" stroke-width="2"/>
<polyline points="290.3,340.0 290.3,402.0 313.0,424.0 358.7,424.0 373.3,438.7 373.3,474.0" fill="none" stroke="#16492e" stroke-width="8.0" stroke-linejoin="round" stroke-linecap="round"/>
<polyline points="290.3,340.0 290.3,402.0 313.0,424.0 358.7,424.0 373.3,438.7 373.3,474.0" fill="none" stroke="#58de62" stroke-width="4.5" stroke-linejoin="round" stroke-linecap="round"/>
<polyline points="327.7,340.0 327.7,400.0 331.0,404.0 364.0,404.0 388.0,427.7 388.0,474.0" fill="none" stroke="#16492e" stroke-width="8.0" stroke-linejoin="round" stroke-linecap="round"/>
<polyline points="327.7,340.0 327.7,400.0 331.0,404.0 364.0,404.0 388.0,427.7 388.0,474.0" fill="none" stroke="#58de62" stroke-width="4.5" stroke-linejoin="round" stroke-linecap="round"/>
<polyline points="364.0,340.0 364.0,385.7 401.6,418.6 401.6,474.0" fill="none" stroke="#16492e" stroke-width="8.0" stroke-linejoin="round" stroke-linecap="round"/>
<polyline points="364.0,340.0 364.0,385.7 401.6,418.6 401.6,474.0" fill="none" stroke="#58de62" stroke-width="4.5" stroke-linejoin="round" stroke-linecap="round"/>
<polyline points="400.7,340.0 400.7,367.5 415.3,380.3 415.3,474.0" fill="none" stroke="#16492e" stroke-width="8.0" stroke-linejoin="round" stroke-linecap="round"/>
<polyline points="400.7,340.0 400.7,367.5 415.3,380.3 415.3,474.0" fill="none" stroke="#58de62" stroke-width="4.5" stroke-linejoin="round" stroke-linecap="round"/>
<polyline points="459.0,340.0 459.0,367.5 442.7,380.3 442.7,474.0" fill="none" stroke="#16492e" stroke-width="8.0" stroke-linejoin="round" stroke-linecap="round"/>
<polyline points="459.0,340.0 459.0,367.5 442.7,380.3 442.7,474.0" fill="none" stroke="#58de62" stroke-width="4.5" stroke-linejoin="round" stroke-linecap="round"/>
<polyline points="495.6,340.0 495.6,385.7 457.0,420.4 457.0,474.0" fill="none" stroke="#16492e" stroke-width="8.0" stroke-linejoin="round" stroke-linecap="round"/>
<polyline points="495.6,340.0 495.6,385.7 457.0,420.4 457.0,474.0" fill="none" stroke="#58de62" stroke-width="4.5" stroke-linejoin="round" stroke-linecap="round"/>
<polyline points="532.0,340.0 532.0,400.0 528.0,404.0 492.0,404.0 470.0,426.0 470.0,474.0" fill="none" stroke="#16492e" stroke-width="8.0" stroke-linejoin="round" stroke-linecap="round"/>
<polyline points="532.0,340.0 532.0,400.0 528.0,404.0 492.0,404.0 470.0,426.0 470.0,474.0" fill="none" stroke="#58de62" stroke-width="4.5" stroke-linejoin="round" stroke-linecap="round"/>
<polyline points="568.5,340.0 568.5,400.0 546.6,421.0 499.0,421.0 483.7,436.8 483.7,474.0" fill="none" stroke="#16492e" stroke-width="8.0" stroke-linejoin="round" stroke-linecap="round"/>
<polyline points="568.5,340.0 568.5,400.0 546.6,421.0 499.0,421.0 483.7,436.8 483.7,474.0" fill="none" stroke="#58de62" stroke-width="4.5" stroke-linejoin="round" stroke-linecap="round"/>
<rect x="282.3" y="328.0" width="16.0" height="16.0" fill="#16492e" />
<rect x="283.8" y="329.5" width="13.0" height="13.0" fill="#58de62" />
<rect x="287.1" y="332.8" width="6.5" height="6.5" fill="#16492e" />
<rect x="319.7" y="328.0" width="16.0" height="16.0" fill="#16492e" />
<rect x="321.2" y="329.5" width="13.0" height="13.0" fill="#58de62" />
<rect x="324.4" y="332.8" width="6.5" height="6.5" fill="#16492e" />
<rect x="356.0" y="328.0" width="16.0" height="16.0" fill="#16492e" />
<rect x="357.5" y="329.5" width="13.0" height="13.0" fill="#58de62" />
<rect x="360.8" y="332.8" width="6.5" height="6.5" fill="#16492e" />
<rect x="392.7" y="328.0" width="16.0" height="16.0" fill="#16492e" />
<rect x="394.2" y="329.5" width="13.0" height="13.0" fill="#58de62" />
<rect x="397.4" y="332.8" width="6.5" height="6.5" fill="#16492e" />
<rect x="451.0" y="328.0" width="16.0" height="16.0" fill="#16492e" />
<rect x="452.5" y="329.5" width="13.0" height="13.0" fill="#58de62" />
<rect x="455.8" y="332.8" width="6.5" height="6.5" fill="#16492e" />
<rect x="487.6" y="328.0" width="16.0" height="16.0" fill="#16492e" />
<rect x="489.1" y="329.5" width="13.0" height="13.0" fill="#58de62" />
<rect x="492.4" y="332.8" width="6.5" height="6.5" fill="#16492e" />
<rect x="524.0" y="328.0" width="16.0" height="16.0" fill="#16492e" />
<rect x="525.5" y="329.5" width="13.0" height="13.0" fill="#58de62" />
<rect x="528.8" y="332.8" width="6.5" height="6.5" fill="#16492e" />
<rect x="560.5" y="328.0" width="16.0" height="16.0" fill="#16492e" />
<rect x="562.0" y="329.5" width="13.0" height="13.0" fill="#58de62" />
<rect x="565.2" y="332.8" width="6.5" height="6.5" fill="#16492e" />
<polyline points="234.0,415.0 262.0,415.0 318.0,505.0 341.0,505.0" fill="none" stroke="#16492e" stroke-width="8.0" stroke-linejoin="round" stroke-linecap="round"/>
<polyline points="234.0,415.0 262.0,415.0 318.0,505.0 341.0,505.0" fill="none" stroke="#58de62" stroke-width="4.5" stroke-linejoin="round" stroke-linecap="round"/>
<polyline points="624.0,415.0 596.0,415.0 540.0,505.0 517.0,505.0" fill="none" stroke="#16492e" stroke-width="8.0" stroke-linejoin="round" stroke-linecap="round"/>
<polyline points="624.0,415.0 596.0,415.0 540.0,505.0 517.0,505.0" fill="none" stroke="#58de62" stroke-width="4.5" stroke-linejoin="round" stroke-linecap="round"/>
<rect x="226.0" y="407.0" width="16.0" height="16.0" fill="#16492e" />
<rect x="227.5" y="408.5" width="13.0" height="13.0" fill="#58de62" />
<rect x="230.8" y="411.8" width="6.5" height="6.5" fill="#16492e" />
<rect x="616.0" y="407.0" width="16.0" height="16.0" fill="#16492e" />
<rect x="617.5" y="408.5" width="13.0" height="13.0" fill="#58de62" />
<rect x="620.8" y="411.8" width="6.5" height="6.5" fill="#16492e" />
<polyline points="234.0,453.0 262.0,453.0 318.0,518.0 341.0,518.0" fill="none" stroke="#16492e" stroke-width="8.0" stroke-linejoin="round" stroke-linecap="round"/>
<polyline points="234.0,453.0 262.0,453.0 318.0,518.0 341.0,518.0" fill="none" stroke="#58de62" stroke-width="4.5" stroke-linejoin="round" stroke-linecap="round"/>
<polyline points="624.0,453.0 596.0,453.0 540.0,518.0 517.0,518.0" fill="none" stroke="#16492e" stroke-width="8.0" stroke-linejoin="round" stroke-linecap="round"/>
<polyline points="624.0,453.0 596.0,453.0 540.0,518.0 517.0,518.0" fill="none" stroke="#58de62" stroke-width="4.5" stroke-linejoin="round" stroke-linecap="round"/>
<rect x="226.0" y="445.0" width="16.0" height="16.0" fill="#16492e" />
<rect x="227.5" y="446.5" width="13.0" height="13.0" fill="#58de62" />
<rect x="230.8" y="449.8" width="6.5" height="6.5" fill="#16492e" />
<rect x="616.0" y="445.0" width="16.0" height="16.0" fill="#16492e" />
<rect x="617.5" y="446.5" width="13.0" height="13.0" fill="#58de62" />
<rect x="620.8" y="449.8" width="6.5" height="6.5" fill="#16492e" />
<polyline points="234.0,490.0 262.0,490.0 318.0,532.0 341.0,532.0" fill="none" stroke="#16492e" stroke-width="8.0" stroke-linejoin="round" stroke-linecap="round"/>
<polyline points="234.0,490.0 262.0,490.0 318.0,532.0 341.0,532.0" fill="none" stroke="#58de62" stroke-width="4.5" stroke-linejoin="round" stroke-linecap="round"/>
<polyline points="624.0,490.0 596.0,490.0 540.0,532.0 517.0,532.0" fill="none" stroke="#16492e" stroke-width="8.0" stroke-linejoin="round" stroke-linecap="round"/>
<polyline points="624.0,490.0 596.0,490.0 540.0,532.0 517.0,532.0" fill="none" stroke="#58de62" stroke-width="4.5" stroke-linejoin="round" stroke-linecap="round"/>
<rect x="226.0" y="482.0" width="16.0" height="16.0" fill="#16492e" />
<rect x="227.5" y="483.5" width="13.0" height="13.0" fill="#58de62" />
<rect x="230.8" y="486.8" width="6.5" height="6.5" fill="#16492e" />
<rect x="616.0" y="482.0" width="16.0" height="16.0" fill="#16492e" />
<rect x="617.5" y="483.5" width="13.0" height="13.0" fill="#58de62" />
<rect x="620.8" y="486.8" width="6.5" height="6.5" fill="#16492e" />
<polyline points="234.0,526.0 262.0,526.0 318.0,545.0 341.0,545.0" fill="none" stroke="#16492e" stroke-width="8.0" stroke-linejoin="round" stroke-linecap="round"/>
<polyline points="234.0,526.0 262.0,526.0 318.0,545.0 341.0,545.0" fill="none" stroke="#58de62" stroke-width="4.5" stroke-linejoin="round" stroke-linecap="round"/>
<polyline points="624.0,526.0 596.0,526.0 540.0,545.0 517.0,545.0" fill="none" stroke="#16492e" stroke-width="8.0" stroke-linejoin="round" stroke-linecap="round"/>
<polyline points="624.0,526.0 596.0,526.0 540.0,545.0 517.0,545.0" fill="none" stroke="#58de62" stroke-width="4.5" stroke-linejoin="round" stroke-linecap="round"/>
<rect x="226.0" y="518.0" width="16.0" height="16.0" fill="#16492e" />
<rect x="227.5" y="519.5" width="13.0" height="13.0" fill="#58de62" />
<rect x="230.8" y="522.8" width="6.5" height="6.5" fill="#16492e" />
<rect x="616.0" y="518.0" width="16.0" height="16.0" fill="#16492e" />
<rect x="617.5" y="519.5" width="13.0" height="13.0" fill="#58de62" />
<rect x="620.8" y="522.8" width="6.5" height="6.5" fill="#16492e" />
<polyline points="234.0,562.0 262.0,562.0 318.0,559.0 341.0,559.0" fill="none" stroke="#16492e" stroke-width="8.0" stroke-linejoin="round" stroke-linecap="round"/>
<polyline points="234.0,562.0 262.0,562.0 318.0,559.0 341.0,559.0" fill="none" stroke="#58de62" stroke-width="4.5" stroke-linejoin="round" stroke-linecap="round"/>
<polyline points="624.0,562.0 596.0,562.0 540.0,559.0 517.0,559.0" fill="none" stroke="#16492e" stroke-width="8.0" stroke-linejoin="round" stroke-linecap="round"/>
<polyline points="624.0,562.0 596.0,562.0 540.0,559.0 517.0,559.0" fill="none" stroke="#58de62" stroke-width="4.5" stroke-linejoin="round" stroke-linecap="round"/>
<rect x="226.0" y="554.0" width="16.0" height="16.0" fill="#16492e" />
<rect x="227.5" y="555.5" width="13.0" height="13.0" fill="#58de62" />
<rect x="230.8" y="558.8" width="6.5" height="6.5" fill="#16492e" />
<rect x="616.0" y="554.0" width="16.0" height="16.0" fill="#16492e" />
<rect x="617.5" y="555.5" width="13.0" height="13.0" fill="#58de62" />
<rect x="620.8" y="558.8" width="6.5" height="6.5" fill="#16492e" />
<polyline points="234.0,599.0 262.0,599.0 318.0,586.0 341.0,586.0" fill="none" stroke="#16492e" stroke-width="8.0" stroke-linejoin="round" stroke-linecap="round"/>
<polyline points="234.0,599.0 262.0,599.0 318.0,586.0 341.0,586.0" fill="none" stroke="#58de62" stroke-width="4.5" stroke-linejoin="round" stroke-linecap="round"/>
<polyline points="624.0,599.0 596.0,599.0 540.0,586.0 517.0,586.0" fill="none" stroke="#16492e" stroke-width="8.0" stroke-linejoin="round" stroke-linecap="round"/>
<polyline points="624.0,599.0 596.0,599.0 540.0,586.0 517.0,586.0" fill="none" stroke="#58de62" stroke-width="4.5" stroke-linejoin="round" stroke-linecap="round"/>
<rect x="226.0" y="591.0" width="16.0" height="16.0" fill="#16492e" />
<rect x="227.5" y="592.5" width="13.0" height="13.0" fill="#58de62" />
<rect x="230.8" y="595.8" width="6.5" height="6.5" fill="#16492e" />
<rect x="616.0" y="591.0" width="16.0" height="16.0" fill="#16492e" />
<rect x="617.5" y="592.5" width="13.0" height="13.0" fill="#58de62" />
<rect x="620.8" y="595.8" width="6.5" height="6.5" fill="#16492e" />
<polyline points="234.0,635.0 262.0,635.0 318.0,599.0 341.0,599.0" fill="none" stroke="#16492e" stroke-width="8.0" stroke-linejoin="round" stroke-linecap="round"/>
<polyline points="234.0,635.0 262.0,635.0 318.0,599.0 341.0,599.0" fill="none" stroke="#58de62" stroke-width="4.5" stroke-linejoin="round" stroke-linecap="round"/>
<polyline points="624.0,635.0 596.0,635.0 540.0,599.0 517.0,599.0" fill="none" stroke="#16492e" stroke-width="8.0" stroke-linejoin="round" stroke-linecap="round"/>
<polyline points="624.0,635.0 596.0,635.0 540.0,599.0 517.0,599.0" fill="none" stroke="#58de62" stroke-width="4.5" stroke-linejoin="round" stroke-linecap="round"/>
<rect x="226.0" y="627.0" width="16.0" height="16.0" fill="#16492e" />
<rect x="227.5" y="628.5" width="13.0" height="13.0" fill="#58de62" />
<rect x="230.8" y="631.8" width="6.5" height="6.5" fill="#16492e" />
<rect x="616.0" y="627.0" width="16.0" height="16.0" fill="#16492e" />
<rect x="617.5" y="628.5" width="13.0" height="13.0" fill="#58de62" />
<rect x="620.8" y="631.8" width="6.5" height="6.5" fill="#16492e" />
<polyline points="234.0,671.0 262.0,671.0 318.0,613.0 341.0,613.0" fill="none" stroke="#16492e" stroke-width="8.0" stroke-linejoin="round" stroke-linecap="round"/>
<polyline points="234.0,671.0 262.0,671.0 318.0,613.0 341.0,613.0" fill="none" stroke="#58de62" stroke-width="4.5" stroke-linejoin="round" stroke-linecap="round"/>
<polyline points="624.0,671.0 596.0,671.0 540.0,613.0 517.0,613.0" fill="none" stroke="#16492e" stroke-width="8.0" stroke-linejoin="round" stroke-linecap="round"/>
<polyline points="624.0,671.0 596.0,671.0 540.0,613.0 517.0,613.0" fill="none" stroke="#58de62" stroke-width="4.5" stroke-linejoin="round" stroke-linecap="round"/>
<rect x="226.0" y="663.0" width="16.0" height="16.0" fill="#16492e" />
<rect x="227.5" y="664.5" width="13.0" height="13.0" fill="#58de62" />
<rect x="230.8" y="667.8" width="6.5" height="6.5" fill="#16492e" />
<rect x="616.0" y="663.0" width="16.0" height="16.0" fill="#16492e" />
<rect x="617.5" y="664.5" width="13.0" height="13.0" fill="#58de62" />
<rect x="620.8" y="667.8" width="6.5" height="6.5" fill="#16492e" />
<polyline points="234.0,709.0 262.0,709.0 318.0,626.0 341.0,626.0" fill="none" stroke="#16492e" stroke-width="8.0" stroke-linejoin="round" stroke-linecap="round"/>
<polyline points="234.0,709.0 262.0,709.0 318.0,626.0 341.0,626.0" fill="none" stroke="#58de62" stroke-width="4.5" stroke-linejoin="round" stroke-linecap="round"/>
<polyline points="624.0,709.0 596.0,709.0 540.0,626.0 517.0,626.0" fill="none" stroke="#16492e" stroke-width="8.0" stroke-linejoin="round" stroke-linecap="round"/>
<polyline points="624.0,709.0 596.0,709.0 540.0,626.0 517.0,626.0" fill="none" stroke="#58de62" stroke-width="4.5" stroke-linejoin="round" stroke-linecap="round"/>
<rect x="226.0" y="701.0" width="16.0" height="16.0" fill="#16492e" />
<rect x="227.5" y="702.5" width="13.0" height="13.0" fill="#58de62" />
<rect x="230.8" y="705.8" width="6.5" height="6.5" fill="#16492e" />
<rect x="616.0" y="701.0" width="16.0" height="16.0" fill="#16492e" />
<rect x="617.5" y="702.5" width="13.0" height="13.0" fill="#58de62" />
<rect x="620.8" y="705.8" width="6.5" height="6.5" fill="#16492e" />
<path d="M392.0 650 L392.0 864.0 Q392.0 904.0 432.0 904.0 L664 904.0" fill="none" stroke="#0f3d25" stroke-width="13"/>
<path d="M407.5 650 L407.5 857.9 Q407.5 892.9 442.5 892.9 L664 892.9" fill="none" stroke="#0f3d25" stroke-width="13"/>
<path d="M423.0 650 L423.0 851.8 Q423.0 881.8 453.0 881.8 L664 881.8" fill="none" stroke="#0f3d25" stroke-width="13"/>
<path d="M438.5 650 L438.5 845.7 Q438.5 870.7 463.5 870.7 L664 870.7" fill="none" stroke="#0f3d25" stroke-width="13"/>
<path d="M454.0 650 L454.0 839.6 Q454.0 859.6 474.0 859.6 L664 859.6" fill="none" stroke="#0f3d25" stroke-width="13"/>
<path d="M469.5 650 L469.5 833.5 Q469.5 848.5 484.5 848.5 L664 848.5" fill="none" stroke="#0f3d25" stroke-width="13"/>
<path d="M392.0 650 L392.0 864.0 Q392.0 904.0 432.0 904.0 L664 904.0" fill="none" stroke="#57d85e" stroke-width="7"/>
<path d="M407.5 650 L407.5 857.9 Q407.5 892.9 442.5 892.9 L664 892.9" fill="none" stroke="#57d85e" stroke-width="7"/>
<path d="M423.0 650 L423.0 851.8 Q423.0 881.8 453.0 881.8 L664 881.8" fill="none" stroke="#57d85e" stroke-width="7"/>
<path d="M438.5 650 L438.5 845.7 Q438.5 870.7 463.5 870.7 L664 870.7" fill="none" stroke="#57d85e" stroke-width="7"/>
<path d="M454.0 650 L454.0 839.6 Q454.0 859.6 474.0 859.6 L664 859.6" fill="none" stroke="#57d85e" stroke-width="7"/>
<path d="M469.5 650 L469.5 833.5 Q469.5 848.5 484.5 848.5 L664 848.5" fill="none" stroke="#57d85e" stroke-width="7"/>
<rect x="367.5" y="472.0" width="9.0" height="10.0" fill="#16241a" />
<rect x="368.5" y="473.0" width="7.0" height="8.0" fill="#e8eadc" />
<rect x="367.5" y="642.0" width="9.0" height="10.0" fill="#16241a" />
<rect x="368.5" y="643.0" width="7.0" height="8.0" fill="#e8eadc" />
<rect x="381.8" y="472.0" width="9.0" height="10.0" fill="#16241a" />
<rect x="382.8" y="473.0" width="7.0" height="8.0" fill="#e8eadc" />
<rect x="381.8" y="642.0" width="9.0" height="10.0" fill="#16241a" />
<rect x="382.8" y="643.0" width="7.0" height="8.0" fill="#e8eadc" />
<rect x="396.0" y="472.0" width="9.0" height="10.0" fill="#16241a" />
<rect x="397.0" y="473.0" width="7.0" height="8.0" fill="#e8eadc" />
<rect x="396.0" y="642.0" width="9.0" height="10.0" fill="#16241a" />
<rect x="397.0" y="643.0" width="7.0" height="8.0" fill="#e8eadc" />
<rect x="410.2" y="472.0" width="9.0" height="10.0" fill="#16241a" />
<rect x="411.2" y="473.0" width="7.0" height="8.0" fill="#e8eadc" />
<rect x="410.2" y="642.0" width="9.0" height="10.0" fill="#16241a" />
<rect x="411.2" y="643.0" width="7.0" height="8.0" fill="#e8eadc" />
<rect x="424.5" y="472.0" width="9.0" height="10.0" fill="#16241a" />
<rect x="425.5" y="473.0" width="7.0" height="8.0" fill="#e8eadc" />
<rect x="424.5" y="642.0" width="9.0" height="10.0" fill="#16241a" />
<rect x="425.5" y="643.0" width="7.0" height="8.0" fill="#e8eadc" />
<rect x="438.8" y="472.0" width="9.0" height="10.0" fill="#16241a" />
<rect x="439.8" y="473.0" width="7.0" height="8.0" fill="#e8eadc" />
<rect x="438.8" y="642.0" width="9.0" height="10.0" fill="#16241a" />
<rect x="439.8" y="643.0" width="7.0" height="8.0" fill="#e8eadc" />
<rect x="453.0" y="472.0" width="9.0" height="10.0" fill="#16241a" />
<rect x="454.0" y="473.0" width="7.0" height="8.0" fill="#e8eadc" />
<rect x="453.0" y="642.0" width="9.0" height="10.0" fill="#16241a" />
<rect x="454.0" y="643.0" width="7.0" height="8.0" fill="#e8eadc" />
<rect x="467.2" y="472.0" width="9.0" height="10.0" fill="#16241a" />
<rect x="468.2" y="473.0" width="7.0" height="8.0" fill="#e8eadc" />
<rect x="467.2" y="642.0" width="9.0" height="10.0" fill="#16241a" />
<rect x="468.2" y="643.0" width="7.0" height="8.0" fill="#e8eadc" />
<rect x="481.5" y="472.0" width="9.0" height="10.0" fill="#16241a" />
<rect x="482.5" y="473.0" width="7.0" height="8.0" fill="#e8eadc" />
<rect x="481.5" y="642.0" width="9.0" height="10.0" fill="#16241a" />
<rect x="482.5" y="643.0" width="7.0" height="8.0" fill="#e8eadc" />
<rect x="340.0" y="497.5" width="10.0" height="9.0" fill="#16241a" />
<rect x="341.0" y="498.5" width="8.0" height="7.0" fill="#e8eadc" />
<rect x="508.0" y="497.5" width="10.0" height="9.0" fill="#16241a" />
<rect x="509.0" y="498.5" width="8.0" height="7.0" fill="#e8eadc" />
<rect x="340.0" y="510.8" width="10.0" height="9.0" fill="#16241a" />
<rect x="341.0" y="511.8" width="8.0" height="7.0" fill="#e8eadc" />
<rect x="508.0" y="510.8" width="10.0" height="9.0" fill="#16241a" />
<rect x="509.0" y="511.8" width="8.0" height="7.0" fill="#e8eadc" />
<rect x="340.0" y="524.2" width="10.0" height="9.0" fill="#16241a" />
<rect x="341.0" y="525.2" width="8.0" height="7.0" fill="#e8eadc" />
<rect x="508.0" y="524.2" width="10.0" height="9.0" fill="#16241a" />
<rect x="509.0" y="525.2" width="8.0" height="7.0" fill="#e8eadc" />
<rect x="340.0" y="537.5" width="10.0" height="9.0" fill="#16241a" />
<rect x="341.0" y="538.5" width="8.0" height="7.0" fill="#e8eadc" />
<rect x="508.0" y="537.5" width="10.0" height="9.0" fill="#16241a" />
<rect x="509.0" y="538.5" width="8.0" height="7.0" fill="#e8eadc" />
<rect x="340.0" y="550.8" width="10.0" height="9.0" fill="#16241a" />
<rect x="341.0" y="551.8" width="8.0" height="7.0" fill="#e8eadc" />
<rect x="508.0" y="550.8" width="10.0" height="9.0" fill="#16241a" />
<rect x="509.0" y="551.8" width="8.0" height="7.0" fill="#e8eadc" />
<rect x="340.0" y="564.2" width="10.0" height="9.0" fill="#16241a" />
<rect x="341.0" y="565.2" width="8.0" height="7.0" fill="#e8eadc" />
<rect x="508.0" y="564.2" width="10.0" height="9.0" fill="#16241a" />
<rect x="509.0" y="565.2" width="8.0" height="7.0" fill="#e8eadc" />
<rect x="340.0" y="577.5" width="10.0" height="9.0" fill="#16241a" />
<rect x="341.0" y="578.5" width="8.0" height="7.0" fill="#e8eadc" />
<rect x="508.0" y="577.5" width="10.0" height="9.0" fill="#16241a" />
<rect x="509.0" y="578.5" width="8.0" height="7.0" fill="#e8eadc" />
<rect x="340.0" y="590.8" width="10.0" height="9.0" fill="#16241a" />
<rect x="341.0" y="591.8" width="8.0" height="7.0" fill="#e8eadc" />
<rect x="508.0" y="590.8" width="10.0" height="9.0" fill="#16241a" />
<rect x="509.0" y="591.8" width="8.0" height="7.0" fill="#e8eadc" />
<rect x="340.0" y="604.2" width="10.0" height="9.0" fill="#16241a" />
<rect x="341.0" y="605.2" width="8.0" height="7.0" fill="#e8eadc" />
<rect x="508.0" y="604.2" width="10.0" height="9.0" fill="#16241a" />
<rect x="509.0" y="605.2" width="8.0" height="7.0" fill="#e8eadc" />
<rect x="340.0" y="617.5" width="10.0" height="9.0" fill="#16241a" />
<rect x="341.0" y="618.5" width="8.0" height="7.0" fill="#e8eadc" />
<rect x="508.0" y="617.5" width="10.0" height="9.0" fill="#16241a" />
<rect x="509.0" y="618.5" width="8.0" height="7.0" fill="#e8eadc" />
<polygon points="354.0,482.0 504.0,482.0 508.0,486.0 508.0,638.0 504.0,642.0 354.0,642.0 350.0,638.0 350.0,486.0" fill="#141c16" />
<rect x="354.0" y="486.0" width="150.0" height="152.0" fill="#56695c" />
<rect x="354.0" y="628.0" width="150.0" height="10.0" fill="#425246" />
<rect x="368.5" y="500.5" width="120.9" height="122.9" fill="#2a3a30" />
<rect x="370.5" y="502.5" width="116.9" height="118.9" fill="#5db86a" />
<rect x="370.5" y="502.5" width="116.9" height="5.0" fill="#78cf7f" />
<path d="M391.1 545.0h15.5v5.2h-15.5zM386.0 550.2h5.2v5.2h-5.2zM406.6 550.2h5.2v5.2h-5.2zM386.0 555.4h5.2v5.2h-5.2zM386.0 560.6h5.2v5.2h-5.2zM386.0 565.8h5.2v5.2h-5.2zM386.0 571.0h5.2v5.2h-5.2zM406.6 571.0h5.2v5.2h-5.2zM391.1 576.2h15.5v5.2h-15.5zM417.0 545.0h20.6v5.2h-20.6zM417.0 550.2h5.2v5.2h-5.2zM437.6 550.2h5.2v5.2h-5.2zM417.0 555.4h5.2v5.2h-5.2zM437.6 555.4h5.2v5.2h-5.2zM417.0 560.6h20.6v5.2h-20.6zM417.0 565.8h5.2v5.2h-5.2zM417.0 571.0h5.2v5.2h-5.2zM417.0 576.2h5.2v5.2h-5.2zM448.0 545.0h5.2v5.2h-5.2zM468.6 545.0h5.2v5.2h-5.2zM448.0 550.2h5.2v5.2h-5.2zM468.6 550.2h5.2v5.2h-5.2zM448.0 555.4h5.2v5.2h-5.2zM468.6 555.4h5.2v5.2h-5.2zM448.0 560.6h5.2v5.2h-5.2zM468.6 560.6h5.2v5.2h-5.2zM448.0 565.8h5.2v5.2h-5.2zM468.6 565.8h5.2v5.2h-5.2zM448.0 571.0h5.2v5.2h-5.2zM468.6 571.0h5.2v5.2h-5.2zM453.1 576.2h15.5v5.2h-15.5z" fill="#14261a" stroke="#14261a" stroke-width="2.5" stroke-linejoin="miter" paint-order="stroke"/>
<rect x="517.0" y="755.0" width="24.0" height="18.0" fill="#174a30" />
<rect x="519.0" y="757.0" width="20.0" height="14.0" fill="#3b8a5a" />
<rect x="546.0" y="755.0" width="24.0" height="18.0" fill="#174a30" />
<rect x="548.0" y="757.0" width="20.0" height="14.0" fill="#5fe860" />
<rect x="575.0" y="755.0" width="24.0" height="18.0" fill="#174a30" />
<rect x="577.0" y="757.0" width="20.0" height="14.0" fill="#4aa86a" />
<rect x="604.0" y="755.0" width="24.0" height="18.0" fill="#174a30" />
<rect x="606.0" y="757.0" width="20.0" height="14.0" fill="#3b8a5a" />
<rect x="517.0" y="780.0" width="24.0" height="18.0" fill="#174a30" />
<rect x="519.0" y="782.0" width="20.0" height="14.0" fill="#3b8a5a" />
<rect x="546.0" y="780.0" width="24.0" height="18.0" fill="#174a30" />
<rect x="548.0" y="782.0" width="20.0" height="14.0" fill="#5fe860" />
<rect x="575.0" y="780.0" width="24.0" height="18.0" fill="#174a30" />
<rect x="577.0" y="782.0" width="20.0" height="14.0" fill="#4aa86a" />
<rect x="604.0" y="780.0" width="24.0" height="18.0" fill="#174a30" />
<rect x="606.0" y="782.0" width="20.0" height="14.0" fill="#3b8a5a" />
<rect x="517.0" y="805.0" width="24.0" height="18.0" fill="#174a30" />
<rect x="519.0" y="807.0" width="20.0" height="14.0" fill="#3b8a5a" />
<rect x="546.0" y="805.0" width="24.0" height="18.0" fill="#174a30" />
<rect x="548.0" y="807.0" width="20.0" height="14.0" fill="#5fe860" />
<rect x="575.0" y="805.0" width="24.0" height="18.0" fill="#174a30" />
<rect x="577.0" y="807.0" width="20.0" height="14.0" fill="#4aa86a" />
<rect x="604.0" y="805.0" width="24.0" height="18.0" fill="#174a30" />
<rect x="606.0" y="807.0" width="20.0" height="14.0" fill="#5fe860" />
<rect x="228.0" y="788.0" width="22.0" height="52.0" fill="#16402a" />
<rect x="231.0" y="791.0" width="16.0" height="46.0" fill="#2f7a4c" />
<rect x="231.0" y="816.0" width="16.0" height="8.0" fill="#e8a050" />
<rect x="270.0" y="800.0" width="22.0" height="52.0" fill="#16402a" />
<rect x="273.0" y="803.0" width="16.0" height="46.0" fill="#2f7a4c" />
<rect x="273.0" y="828.0" width="16.0" height="8.0" fill="#a8e878" />
<rect x="228.0" y="858.0" width="22.0" height="52.0" fill="#16402a" />
<rect x="231.0" y="861.0" width="16.0" height="46.0" fill="#2f7a4c" />
<rect x="231.0" y="894.0" width="16.0" height="8.0" fill="#e04a3a" />
<rect x="266.0" y="858.0" width="22.0" height="52.0" fill="#16402a" />
<rect x="269.0" y="861.0" width="16.0" height="46.0" fill="#2f7a4c" />
<rect x="269.0" y="894.0" width="16.0" height="8.0" fill="#e8883a" />
<rect x="310.0" y="795.0" width="40.0" height="58.0" fill="#17402a" />
<polygon points="336.0,800.0 320.0,826.0 331.0,826.0 324.0,848.0 344.0,818.0 333.0,818.0 340.0,800.0" fill="#62e85a" />
<rect x="310.0" y="857.0" width="40.0" height="58.0" fill="#17402a" />
<polygon points="336.0,862.0 320.0,888.0 331.0,888.0 324.0,910.0 344.0,880.0 333.0,880.0 340.0,862.0" fill="#62e85a" />
<defs><radialGradient id="vir" cx="0.5" cy="0.3" r="0.75">
<stop offset="0" stop-color="#ee5c4e"/><stop offset="0.55" stop-color="#dc464c"/><stop offset="1" stop-color="#b02a50"/>
</radialGradient></defs>
<path d="M370 211 L430 211 L430 285" fill="none" stroke="#2a0f0b" stroke-width="46.0" stroke-linejoin="miter" stroke-linecap="butt"/>
<path d="M370 211 L430 211 L430 285" fill="none" stroke="#8e3a2f" stroke-width="40.0" stroke-linejoin="miter" stroke-linecap="butt"/>
<path d="M370 211 L430 211 L430 285" fill="none" stroke="#dd4e40" stroke-width="24.0" stroke-linejoin="miter" stroke-linecap="butt"/>
<path d="M370 211 L430 211 L430 285" fill="none" stroke="#f3755f" stroke-width="9.0" stroke-linejoin="miter" stroke-linecap="butt"/>
<rect x="366.0" y="188.0" width="6.0" height="46.0" fill="#2a0f0b" />
<polygon points="391.0,281.0 469.0,281.0 430.0,331.0" fill="#2a0f0b" />
<polygon points="398.0,285.0 462.0,285.0 430.0,322.0" fill="#8e3a2f" />
<polygon points="408.6,287.0 451.4,287.0 430.0,315.0" fill="#dd4e40" />
<polygon points="426.0,281.0 434.0,281.0 434.0,305.0 426.0,305.0" fill="#f3755f" />
<g transform="translate(306.0 213.0) scale(1.000)">
<line x1="0" y1="0" x2="4.3" y2="-48.8" stroke="#2e0a0e" stroke-width="15"/>
<rect x="-5.2" y="-57.3" width="19" height="17" fill="#2e0a0e"/>
<line x1="0" y1="0" x2="-27.6" y2="-38.0" stroke="#2e0a0e" stroke-width="15"/>
<rect x="-37.1" y="-46.5" width="19" height="17" fill="#2e0a0e"/>
<line x1="0" y1="0" x2="33.9" y2="-33.9" stroke="#2e0a0e" stroke-width="15"/>
<rect x="24.4" y="-42.4" width="19" height="17" fill="#2e0a0e"/>
<line x1="0" y1="0" x2="-45.8" y2="-4.0" stroke="#2e0a0e" stroke-width="15"/>
<rect x="-55.3" y="-12.5" width="19" height="17" fill="#2e0a0e"/>
<line x1="0" y1="0" x2="48.0" y2="0.0" stroke="#2e0a0e" stroke-width="15"/>
<rect x="38.5" y="-8.5" width="19" height="17" fill="#2e0a0e"/>
<line x1="0" y1="0" x2="-36.2" y2="28.3" stroke="#2e0a0e" stroke-width="15"/>
<rect x="-45.7" y="19.8" width="19" height="17" fill="#2e0a0e"/>
<line x1="0" y1="0" x2="32.5" y2="32.5" stroke="#2e0a0e" stroke-width="15"/>
<rect x="23.0" y="24.0" width="19" height="17" fill="#2e0a0e"/>
<line x1="0" y1="0" x2="-3.3" y2="46.9" stroke="#2e0a0e" stroke-width="15"/>
<rect x="-12.8" y="38.4" width="19" height="17" fill="#2e0a0e"/>
<circle cx="0" cy="0" r="39.5" fill="#2e0a0e"/>
<line x1="0" y1="0" x2="4.3" y2="-48.8" stroke="#d8434e" stroke-width="8"/>
<rect x="-2.2" y="-54.3" width="13" height="11" fill="#d8434e"/>
<line x1="0" y1="0" x2="-27.6" y2="-38.0" stroke="#d8434e" stroke-width="8"/>
<rect x="-34.1" y="-43.5" width="13" height="11" fill="#d8434e"/>
<line x1="0" y1="0" x2="33.9" y2="-33.9" stroke="#d8434e" stroke-width="8"/>
<rect x="27.4" y="-39.4" width="13" height="11" fill="#d8434e"/>
<line x1="0" y1="0" x2="-45.8" y2="-4.0" stroke="#d8434e" stroke-width="8"/>
<rect x="-52.3" y="-9.5" width="13" height="11" fill="#d8434e"/>
<line x1="0" y1="0" x2="48.0" y2="0.0" stroke="#d8434e" stroke-width="8"/>
<rect x="41.5" y="-5.5" width="13" height="11" fill="#d8434e"/>
<line x1="0" y1="0" x2="-36.2" y2="28.3" stroke="#bf3252" stroke-width="8"/>
<rect x="-42.7" y="22.8" width="13" height="11" fill="#bf3252"/>
<line x1="0" y1="0" x2="32.5" y2="32.5" stroke="#bf3252" stroke-width="8"/>
<rect x="26.0" y="27.0" width="13" height="11" fill="#bf3252"/>
<line x1="0" y1="0" x2="-3.3" y2="46.9" stroke="#bf3252" stroke-width="8"/>
<rect x="-9.8" y="41.4" width="13" height="11" fill="#bf3252"/>
<circle cx="0" cy="0" r="36" fill="url(#vir)"/>
<rect x="-14" y="-22" width="3" height="3" fill="#a8283a"/>
<rect x="-8" y="-21" width="3" height="3" fill="#a8283a"/>
<rect x="4" y="-22" width="3" height="3" fill="#a8283a"/>
<rect x="20" y="-14" width="3" height="3" fill="#a8283a"/>
<rect x="-24" y="4" width="3" height="3" fill="#a8283a"/>
<rect x="24" y="8" width="3" height="3" fill="#a8283a"/>
<rect x="14" y="24" width="3" height="3" fill="#a8283a"/>
<rect x="-16" y="22" width="3" height="3" fill="#a8283a"/>
<rect x="-2" y="28" width="3" height="3" fill="#a8283a"/>
<rect x="8" y="-28" width="3" height="3" fill="#a8283a"/>
<polygon points="-19,-15 -3,-4 -3,-1 -19,-1" fill="#5a1018"/>
<polygon points="21,-17 6,-4 6,-1 21,-1" fill="#5a1018"/>
<rect x="-16" y="-7" width="4" height="4" fill="#f7d8d0"/><rect x="11" y="-7" width="4" height="4" fill="#f7d8d0"/>
<rect x="-11" y="8" width="23" height="10" fill="#4a0c14"/><rect x="-8.5" y="10.5" width="18" height="5" fill="#f6e4ea"/>
</g>
<text x="239.0" y="210.0" font-size="39.8" font-weight="bold" text-anchor="end" textLength="129.0" lengthAdjust="spacingAndGlyphs" fill="#1c1610" stroke="#1c1610" stroke-width="2.0" stroke-linejoin="round" >Antigen</text>
<text x="239.0" y="247.0" font-size="39.8" font-weight="bold" text-anchor="end" textLength="82.0" lengthAdjust="spacingAndGlyphs" fill="#1c1610" stroke="#1c1610" stroke-width="2.0" stroke-linejoin="round" >Input</text>
<path d="M510 541 L580 541 Q596 541 606 530 Q612 524 626 524 L660 524" fill="none" stroke="#2a9a45" stroke-width="40" stroke-linejoin="round" opacity="0.9"/>
<path d="M510 541 L580 541 Q596 541 606 530 Q612 524 626 524 L660 524" fill="none" stroke="#44cc52" stroke-width="24" stroke-linejoin="round"/>
<path d="M510 541 L580 541 Q596 541 606 530 Q612 524 626 524 L660 524" fill="none" stroke="#8ef088" stroke-width="9" stroke-linejoin="round"/>
<path d="M652 525 L796 525" fill="none" stroke="#0f1f14" stroke-width="47.0" stroke-linejoin="miter" stroke-linecap="butt"/>
<path d="M652 525 L796 525" fill="none" stroke="#1f7a40" stroke-width="39.0" stroke-linejoin="miter" stroke-linecap="butt"/>
<path d="M652 525 L796 525" fill="none" stroke="#3cc84e" stroke-width="24.0" stroke-linejoin="miter" stroke-linecap="butt"/>
<path d="M652 525 L796 525" fill="none" stroke="#8ef088" stroke-width="9.0" stroke-linejoin="miter" stroke-linecap="butt"/>
<polygon points="789.0,486.0 841.0,525.0 789.0,564.0" fill="#0f1f14" />
<polygon points="794.0,497.0 830.0,525.0 794.0,553.0" fill="#1f7a40" />
<polygon points="794.0,507.0 818.0,525.0 794.0,543.0" fill="#3cc84e" />
<polygon points="790.0,521.0 808.0,525.0 790.0,529.0" fill="#8ef088" />
<text x="429.0" y="707.6" font-size="44.7" font-weight="bold" text-anchor="middle" textLength="102.0" lengthAdjust="spacingAndGlyphs" fill="#0f2a18" stroke="#0f2a18" stroke-width="8.0" stroke-linejoin="round">Signal</text>
<text x="429.0" y="707.6" font-size="44.7" font-weight="bold" text-anchor="middle" textLength="102.0" lengthAdjust="spacingAndGlyphs" fill="#8fe28a" stroke="#8fe28a" stroke-width="2.0" stroke-linejoin="round" >Signal</text>
<text x="429.0" y="743.0" font-size="44.7" font-weight="bold" text-anchor="middle" textLength="220.0" lengthAdjust="spacingAndGlyphs" fill="#0f2a18" stroke="#0f2a18" stroke-width="8.0" stroke-linejoin="round">Transducer A</text>
<text x="429.0" y="743.0" font-size="44.7" font-weight="bold" text-anchor="middle" textLength="220.0" lengthAdjust="spacingAndGlyphs" fill="#8fe28a" stroke="#8fe28a" stroke-width="2.0" stroke-linejoin="round" >Transducer A</text>
<g transform="translate(820.0 280.0) scale(0.2990)" stroke-linejoin="round">
<polygon points="55,905 235,790 890,790 1055,905 1055,1175 880,1290 640,1400 500,1400 270,1290 55,1175" fill="#327a4d" stroke="#16241a" stroke-width="9"/>
<polygon points="60,905 235,795 890,795 1050,905 640,1130 500,1130" fill="#5ab56a" stroke="#16241a" stroke-width="9"/>
<polyline points="70,910 500,1125 640,1125 1040,910" fill="none" stroke="#7bd67e" stroke-width="10"/>
<polygon points="500,1130 640,1130 640,1400 500,1400" fill="#3f8f58" stroke="#16241a" stroke-width="9"/>
<rect x="540" y="1200" width="45" height="10" fill="#25573e"/>
<rect x="540" y="1250" width="45" height="10" fill="#25573e"/>
<rect x="540" y="1300" width="45" height="10" fill="#25573e"/>
<rect x="540" y="1350" width="45" height="10" fill="#25573e"/>
<polygon points="90,1085 210,1035 370,1120 265,1170" fill="#5ab56a" stroke="#16241a" stroke-width="9"/>
<polygon points="90,1085 265,1170 265,1300 90,1215" fill="#3f8f58" stroke="#16241a" stroke-width="9"/>
<polygon points="265,1170 370,1120 370,1345 265,1300" fill="#327a4d" stroke="#16241a" stroke-width="9"/>
<polyline points="95,1180 265,1265 370,1215" fill="none" stroke="#16241a" stroke-width="8"/>
<polygon points="760,1120 930,1030 1045,1085 880,1170" fill="#5ab56a" stroke="#16241a" stroke-width="9"/>
<polygon points="760,1120 880,1170 880,1340 760,1290" fill="#3f8f58" stroke="#16241a" stroke-width="9"/>
<polygon points="880,1170 1045,1085 1045,1240 880,1340" fill="#327a4d" stroke="#16241a" stroke-width="9"/>
<polyline points="765,1215 880,1265 1040,1180" fill="none" stroke="#16241a" stroke-width="8"/>
<ellipse cx="560" cy="965" rx="330" ry="112" fill="#3f8f58" stroke="#16241a" stroke-width="9"/>
<ellipse cx="560" cy="925" rx="322" ry="100" fill="#5ab56a" stroke="#16241a" stroke-width="9"/>
<ellipse cx="560" cy="915" rx="270" ry="78" fill="#3f8f58" stroke="#16241a" stroke-width="6"/>
<g transform="translate(0 930) scale(1 1.000) translate(0 -930)">
<polygon points="600,560 800,545 850,650 870,850 820,900 650,935" fill="#25573e" stroke="#16241a" stroke-width="9"/>
<polygon points="290,500 330,480 470,470 560,520 640,620 650,935 560,950 420,935 300,900 285,700" fill="#4a9e60" stroke="#16241a" stroke-width="9"/>
<path d="M480 490 Q600 560 620 900" fill="none" stroke="#7bd67e" stroke-width="26"/>
<ellipse cx="405" cy="640" rx="55" ry="85" fill="#3f8f58" stroke="#16241a" stroke-width="8"/>
<polygon points="600,290 1030,160 1100,200 1110,345 780,560 640,560" fill="#3f8c57" stroke="#16241a" stroke-width="9"/>
<line x1="607" y1="339" x2="1044" y2="193" stroke="#7bd67e" stroke-width="14"/>
<line x1="614" y1="387" x2="1059" y2="227" stroke="#25573e" stroke-width="14"/>
<line x1="622" y1="438" x2="1074" y2="262" stroke="#7bd67e" stroke-width="14"/>
<line x1="630" y1="492" x2="1090" y2="299" stroke="#25573e" stroke-width="14"/>
<line x1="729" y1="251" x2="682" y2="560" stroke="#16241a" stroke-width="9"/>
<line x1="867" y1="209" x2="727" y2="560" stroke="#16241a" stroke-width="9"/>
<line x1="987" y1="173" x2="766" y2="560" stroke="#16241a" stroke-width="9"/>
<polygon points="115,520 150,440 250,375 340,300 430,262 500,242 660,240 740,262 790,330 800,430 740,520 640,560 560,520 470,470 330,480 300,580 290,690 200,690 130,620" fill="#4fa463" stroke="#16241a" stroke-width="9"/>
<path d="M160 470 Q300 330 520 280 L700 270" fill="none" stroke="#7bd67e" stroke-width="22"/>
<path d="M560 262 Q700 330 760 520" fill="none" stroke="#7bd67e" stroke-width="16"/>
<path d="M125 560 Q200 650 290 680" fill="none" stroke="#327a4d" stroke-width="30"/>
</g>
</g>
<polygon points="1115.3,368.1 1138.5,353.8 1119.5,351.5 1138.2,347.6 1130.6,341.5 1140.4,341.7 1124.4,322.8 1144.6,337.1 1136.4,312.2 1149.9,333.3 1151.9,301.2 1157.0,330.8 1174.3,294.1 1165.0,331.9 1189.9,310.8 1171.9,336.9 1213.2,322.4 1175.5,344.7 1214.8,347.3 1175.0,353.2 1201.0,367.1 1170.6,360.1 1191.6,384.4 1164.2,363.9 1171.6,387.7 1157.8,365.5 1155.6,385.8 1151.6,365.8 1145.2,374.3 1145.7,363.6 1135.6,370.0 1141.1,359.4" fill="#3fd24a" />
<polygon points="1126.1,363.0 1142.8,352.7 1129.1,351.1 1142.6,348.3 1137.2,343.9 1144.2,344.0 1132.7,330.4 1147.2,340.7 1141.3,322.8 1151.1,338.0 1152.5,314.9 1156.1,336.2 1168.6,309.8 1161.9,337.0 1179.8,321.8 1166.9,340.6 1196.6,330.1 1169.5,346.2 1197.8,348.1 1169.1,352.3 1187.8,362.3 1166.0,357.3 1181.0,374.8 1161.3,360.0 1166.7,377.1 1156.7,361.2 1155.1,375.8 1152.3,361.4 1147.6,367.5 1148.0,359.8 1140.8,364.4 1144.7,356.8" fill="#74ec70" />
<circle cx="1154.0" cy="350.0" r="33.6" fill="url(#flash)"/>
<g transform="translate(1300.0 257.0) rotate(-22) scale(1.00)">
<rect x="-48" y="-6" width="5.0" height="5.0" fill="#5fd862"/>
<rect x="-56" y="1" width="5.0" height="5.0" fill="#5fd862"/>
<rect x="-62" y="-3" width="4.0" height="4.0" fill="#5fd862"/>
<rect x="-52" y="7" width="5.0" height="5.0" fill="#5fd862"/>
<rect x="-68" y="4" width="4.0" height="4.0" fill="#5fd862"/>
<rect x="-44" y="-9" width="4.0" height="4.0" fill="#5fd862"/>
<rect x="-72" y="-1" width="3.0" height="3.0" fill="#5fd862"/>
<rect x="-60" y="8" width="4.0" height="4.0" fill="#5fd862"/>
<polygon points="0,-11 -24,-9 -44,-6 -52,0 -44,7 -22,10 0,11" fill="#2cb53e"/>
<polygon points="0,-7 -22,-5 -40,0 -22,6 0,7" fill="#5cdc5c"/>
<ellipse cx="0" cy="0" rx="13" ry="11" fill="#22a836"/>
<ellipse cx="0" cy="0" rx="10" ry="8" fill="#62e062"/>
<ellipse cx="2" cy="-1" rx="6" ry="5" fill="#efffea"/>
</g>
<g transform="translate(1300.0 296.0) rotate(-22) scale(1.00)">
<rect x="-48" y="-6" width="5.0" height="5.0" fill="#5fd862"/>
<rect x="-56" y="1" width="5.0" height="5.0" fill="#5fd862"/>
<rect x="-62" y="-3" width="4.0" height="4.0" fill="#5fd862"/>
<rect x="-52" y="7" width="5.0" height="5.0" fill="#5fd862"/>
<rect x="-68" y="4" width="4.0" height="4.0" fill="#5fd862"/>
<rect x="-44" y="-9" width="4.0" height="4.0" fill="#5fd862"/>
<rect x="-72" y="-1" width="3.0" height="3.0" fill="#5fd862"/>
<rect x="-60" y="8" width="4.0" height="4.0" fill="#5fd862"/>
<polygon points="0,-11 -24,-9 -44,-6 -52,0 -44,7 -22,10 0,11" fill="#2cb53e"/>
<polygon points="0,-7 -22,-5 -40,0 -22,6 0,7" fill="#5cdc5c"/>
<ellipse cx="0" cy="0" rx="13" ry="11" fill="#22a836"/>
<ellipse cx="0" cy="0" rx="10" ry="8" fill="#62e062"/>
<ellipse cx="2" cy="-1" rx="6" ry="5" fill="#efffea"/>
</g>
<g clip-path="url(#leftclip)">
<g transform="translate(1376.0 222.0) rotate(-22) scale(0.90)">
<rect x="-48" y="-6" width="5.0" height="5.0" fill="#5fd862"/>
<rect x="-56" y="1" width="5.0" height="5.0" fill="#5fd862"/>
<rect x="-62" y="-3" width="4.0" height="4.0" fill="#5fd862"/>
<rect x="-52" y="7" width="5.0" height="5.0" fill="#5fd862"/>
<rect x="-68" y="4" width="4.0" height="4.0" fill="#5fd862"/>
<rect x="-44" y="-9" width="4.0" height="4.0" fill="#5fd862"/>
<rect x="-72" y="-1" width="3.0" height="3.0" fill="#5fd862"/>
<rect x="-60" y="8" width="4.0" height="4.0" fill="#5fd862"/>
<polygon points="0,-11 -24,-9 -44,-6 -52,0 -44,7 -22,10 0,11" fill="#2cb53e"/>
<polygon points="0,-7 -22,-5 -40,0 -22,6 0,7" fill="#5cdc5c"/>
<ellipse cx="0" cy="0" rx="13" ry="11" fill="#22a836"/>
<ellipse cx="0" cy="0" rx="10" ry="8" fill="#62e062"/>
<ellipse cx="2" cy="-1" rx="6" ry="5" fill="#efffea"/>
</g>
<g transform="translate(1376.0 262.0) rotate(-22) scale(0.90)">
<rect x="-48" y="-6" width="5.0" height="5.0" fill="#5fd862"/>
<rect x="-56" y="1" width="5.0" height="5.0" fill="#5fd862"/>
<rect x="-62" y="-3" width="4.0" height="4.0" fill="#5fd862"/>
<rect x="-52" y="7" width="5.0" height="5.0" fill="#5fd862"/>
<rect x="-68" y="4" width="4.0" height="4.0" fill="#5fd862"/>
<rect x="-44" y="-9" width="4.0" height="4.0" fill="#5fd862"/>
<rect x="-72" y="-1" width="3.0" height="3.0" fill="#5fd862"/>
<rect x="-60" y="8" width="4.0" height="4.0" fill="#5fd862"/>
<polygon points="0,-11 -24,-9 -44,-6 -52,0 -44,7 -22,10 0,11" fill="#2cb53e"/>
<polygon points="0,-7 -22,-5 -40,0 -22,6 0,7" fill="#5cdc5c"/>
<ellipse cx="0" cy="0" rx="13" ry="11" fill="#22a836"/>
<ellipse cx="0" cy="0" rx="10" ry="8" fill="#62e062"/>
<ellipse cx="2" cy="-1" rx="6" ry="5" fill="#efffea"/>
</g>
</g>
<text x="986.0" y="741.0" font-size="39.8" font-weight="bold" text-anchor="middle" textLength="202.0" lengthAdjust="spacingAndGlyphs" fill="#1c1610" stroke="#1c1610" stroke-width="2.0" stroke-linejoin="round" >Macro-Level</text>
<text x="987.0" y="777.7" font-size="39.8" font-weight="bold" text-anchor="middle" textLength="300.0" lengthAdjust="spacingAndGlyphs" fill="#1c1610" stroke="#1c1610" stroke-width="2.0" stroke-linejoin="round" >Immune Response</text>
<polygon points="576.0,1191.0 610.0,1166.0 610.0,1216.0" fill="#2a0d0a" />
<polygon points="584.0,1191.0 606.0,1174.0 606.0,1208.0" fill="#e0383a" />
<path d="M663 848.5 L979.0 848.5 Q1023.0 848.5 1023.0 892.5 L1023.0 1000" fill="none" stroke="#2a0f0b" stroke-width="16"/>
<path d="M663 859.6 L970.5 859.6 Q1009.5 859.6 1009.5 898.6 L1009.5 1000" fill="none" stroke="#2a0f0b" stroke-width="16"/>
<path d="M663 870.7 L962.0 870.7 Q996.0 870.7 996.0 904.7 L996.0 1000" fill="none" stroke="#2a0f0b" stroke-width="16"/>
<path d="M663 881.8 L953.5 881.8 Q982.5 881.8 982.5 910.8 L982.5 1000" fill="none" stroke="#2a0f0b" stroke-width="16"/>
<path d="M663 892.9 L945.0 892.9 Q969.0 892.9 969.0 916.9 L969.0 1000" fill="none" stroke="#2a0f0b" stroke-width="16"/>
<path d="M663 904.0 L936.5 904.0 Q955.5 904.0 955.5 923.0 L955.5 1000" fill="none" stroke="#2a0f0b" stroke-width="16"/>
<path d="M663 848.5 L979.0 848.5 Q1023.0 848.5 1023.0 892.5 L1023.0 1000" fill="none" stroke="#782a22" stroke-width="12"/>
<path d="M663 859.6 L970.5 859.6 Q1009.5 859.6 1009.5 898.6 L1009.5 1000" fill="none" stroke="#782a22" stroke-width="12"/>
<path d="M663 870.7 L962.0 870.7 Q996.0 870.7 996.0 904.7 L996.0 1000" fill="none" stroke="#782a22" stroke-width="12"/>
<path d="M663 881.8 L953.5 881.8 Q982.5 881.8 982.5 910.8 L982.5 1000" fill="none" stroke="#782a22" stroke-width="12"/>
<path d="M663 892.9 L945.0 892.9 Q969.0 892.9 969.0 916.9 L969.0 1000" fill="none" stroke="#782a22" stroke-width="12"/>
<path d="M663 904.0 L936.5 904.0 Q955.5 904.0 955.5 923.0 L955.5 1000" fill="none" stroke="#782a22" stroke-width="12"/>
<path d="M663 848.5 L979.0 848.5 Q1023.0 848.5 1023.0 892.5 L1023.0 1000" fill="none" stroke="#b65646" stroke-width="7.5"/>
<path d="M663 859.6 L970.5 859.6 Q1009.5 859.6 1009.5 898.6 L1009.5 1000" fill="none" stroke="#b65646" stroke-width="7.5"/>
<path d="M663 870.7 L962.0 870.7 Q996.0 870.7 996.0 904.7 L996.0 1000" fill="none" stroke="#b65646" stroke-width="7.5"/>
<path d="M663 881.8 L953.5 881.8 Q982.5 881.8 982.5 910.8 L982.5 1000" fill="none" stroke="#b65646" stroke-width="7.5"/>
<path d="M663 892.9 L945.0 892.9 Q969.0 892.9 969.0 916.9 L969.0 1000" fill="none" stroke="#b65646" stroke-width="7.5"/>
<path d="M663 904.0 L936.5 904.0 Q955.5 904.0 955.5 923.0 L955.5 1000" fill="none" stroke="#b65646" stroke-width="7.5"/>
<polyline points="663.0,635.0 710.0,635.0 710.0,1191.0 606.0,1191.0" fill="none" stroke="#2a0d0a" stroke-width="15" stroke-linejoin="miter"/>
<polyline points="663.0,635.0 710.0,635.0 710.0,1191.0 606.0,1191.0" fill="none" stroke="#e0383a" stroke-width="9" stroke-linejoin="miter"/>
<text x="429.0" y="985.0" font-size="43.6" font-weight="bold" text-anchor="middle" textLength="350.0" lengthAdjust="spacingAndGlyphs" fill="#1c1610" stroke="#1c1610" stroke-width="2.0" stroke-linejoin="round" >Immune Cell Pathway</text>
<rect x="202.0" y="1006.0" width="371.0" height="369.0" fill="#2a0d0a" />
<rect x="205.0" y="1009.0" width="365.0" height="363.0" fill="#d8433a" />
<rect x="213.0" y="1017.0" width="349.0" height="347.0" fill="#1a120e" />
<rect x="215.0" y="1019.0" width="345.0" height="343.0" fill="#1e6b45" />
<polyline points="317.5,1095.5 317.5,1070.5 277.5,1040.5 277.5,1020.0" fill="none" stroke="#16492e" stroke-width="7.5" stroke-linejoin="round" stroke-linecap="round"/>
<polyline points="317.5,1095.5 317.5,1070.5 277.5,1040.5 277.5,1020.0" fill="none" stroke="#52da5c" stroke-width="4.0" stroke-linejoin="round" stroke-linecap="round"/>
<polyline points="317.5,1285.5 317.5,1310.5 277.5,1340.5 277.5,1361.0" fill="none" stroke="#16492e" stroke-width="7.5" stroke-linejoin="round" stroke-linecap="round"/>
<polyline points="317.5,1285.5 317.5,1310.5 277.5,1340.5 277.5,1361.0" fill="none" stroke="#52da5c" stroke-width="4.0" stroke-linejoin="round" stroke-linecap="round"/>
<polyline points="292.5,1120.5 267.5,1120.5 237.5,1080.5 216.0,1080.5" fill="none" stroke="#16492e" stroke-width="7.5" stroke-linejoin="round" stroke-linecap="round"/>
<polyline points="292.5,1120.5 267.5,1120.5 237.5,1080.5 216.0,1080.5" fill="none" stroke="#52da5c" stroke-width="4.0" stroke-linejoin="round" stroke-linecap="round"/>
<polyline points="482.5,1120.5 507.5,1120.5 537.5,1080.5 559.0,1080.5" fill="none" stroke="#16492e" stroke-width="7.5" stroke-linejoin="round" stroke-linecap="round"/>
<polyline points="482.5,1120.5 507.5,1120.5 537.5,1080.5 559.0,1080.5" fill="none" stroke="#52da5c" stroke-width="4.0" stroke-linejoin="round" stroke-linecap="round"/>
<polyline points="335.0,1095.5 335.0,1070.5 305.0,1040.5 305.0,1020.0" fill="none" stroke="#16492e" stroke-width="7.5" stroke-linejoin="round" stroke-linecap="round"/>
<polyline points="335.0,1095.5 335.0,1070.5 305.0,1040.5 305.0,1020.0" fill="none" stroke="#52da5c" stroke-width="4.0" stroke-linejoin="round" stroke-linecap="round"/>
<polyline points="335.0,1285.5 335.0,1310.5 305.0,1340.5 305.0,1361.0" fill="none" stroke="#16492e" stroke-width="7.5" stroke-linejoin="round" stroke-linecap="round"/>
<polyline points="335.0,1285.5 335.0,1310.5 305.0,1340.5 305.0,1361.0" fill="none" stroke="#52da5c" stroke-width="4.0" stroke-linejoin="round" stroke-linecap="round"/>
<polyline points="292.5,1138.0 267.5,1138.0 237.5,1108.0 216.0,1108.0" fill="none" stroke="#16492e" stroke-width="7.5" stroke-linejoin="round" stroke-linecap="round"/>
<polyline points="292.5,1138.0 267.5,1138.0 237.5,1108.0 216.0,1108.0" fill="none" stroke="#52da5c" stroke-width="4.0" stroke-linejoin="round" stroke-linecap="round"/>
<polyline points="482.5,1138.0 507.5,1138.0 537.5,1108.0 559.0,1108.0" fill="none" stroke="#16492e" stroke-width="7.5" stroke-linejoin="round" stroke-linecap="round"/>
<polyline points="482.5,1138.0 507.5,1138.0 537.5,1108.0 559.0,1108.0" fill="none" stroke="#52da5c" stroke-width="4.0" stroke-linejoin="round" stroke-linecap="round"/>
<polyline points="352.5,1095.5 352.5,1070.5 332.5,1040.5 332.5,1020.0" fill="none" stroke="#16492e" stroke-width="7.5" stroke-linejoin="round" stroke-linecap="round"/>
<polyline points="352.5,1095.5 352.5,1070.5 332.5,1040.5 332.5,1020.0" fill="none" stroke="#52da5c" stroke-width="4.0" stroke-linejoin="round" stroke-linecap="round"/>
<polyline points="352.5,1285.5 352.5,1310.5 332.5,1340.5 332.5,1361.0" fill="none" stroke="#16492e" stroke-width="7.5" stroke-linejoin="round" stroke-linecap="round"/>
<polyline points="352.5,1285.5 352.5,1310.5 332.5,1340.5 332.5,1361.0" fill="none" stroke="#52da5c" stroke-width="4.0" stroke-linejoin="round" stroke-linecap="round"/>
<polyline points="292.5,1155.5 267.5,1155.5 237.5,1135.5 216.0,1135.5" fill="none" stroke="#16492e" stroke-width="7.5" stroke-linejoin="round" stroke-linecap="round"/>
<polyline points="292.5,1155.5 267.5,1155.5 237.5,1135.5 216.0,1135.5" fill="none" stroke="#52da5c" stroke-width="4.0" stroke-linejoin="round" stroke-linecap="round"/>
<polyline points="482.5,1155.5 507.5,1155.5 537.5,1135.5 559.0,1135.5" fill="none" stroke="#16492e" stroke-width="7.5" stroke-linejoin="round" stroke-linecap="round"/>
<polyline points="482.5,1155.5 507.5,1155.5 537.5,1135.5 559.0,1135.5" fill="none" stroke="#52da5c" stroke-width="4.0" stroke-linejoin="round" stroke-linecap="round"/>
<polyline points="370.0,1095.5 370.0,1070.5 360.0,1040.5 360.0,1020.0" fill="none" stroke="#16492e" stroke-width="7.5" stroke-linejoin="round" stroke-linecap="round"/>
<polyline points="370.0,1095.5 370.0,1070.5 360.0,1040.5 360.0,1020.0" fill="none" stroke="#52da5c" stroke-width="4.0" stroke-linejoin="round" stroke-linecap="round"/>
<polyline points="370.0,1285.5 370.0,1310.5 360.0,1340.5 360.0,1361.0" fill="none" stroke="#16492e" stroke-width="7.5" stroke-linejoin="round" stroke-linecap="round"/>
<polyline points="370.0,1285.5 370.0,1310.5 360.0,1340.5 360.0,1361.0" fill="none" stroke="#52da5c" stroke-width="4.0" stroke-linejoin="round" stroke-linecap="round"/>
<polyline points="292.5,1173.0 267.5,1173.0 237.5,1163.0 216.0,1163.0" fill="none" stroke="#16492e" stroke-width="7.5" stroke-linejoin="round" stroke-linecap="round"/>
<polyline points="292.5,1173.0 267.5,1173.0 237.5,1163.0 216.0,1163.0" fill="none" stroke="#52da5c" stroke-width="4.0" stroke-linejoin="round" stroke-linecap="round"/>
<polyline points="482.5,1173.0 507.5,1173.0 537.5,1163.0 559.0,1163.0" fill="none" stroke="#16492e" stroke-width="7.5" stroke-linejoin="round" stroke-linecap="round"/>
<polyline points="482.5,1173.0 507.5,1173.0 537.5,1163.0 559.0,1163.0" fill="none" stroke="#52da5c" stroke-width="4.0" stroke-linejoin="round" stroke-linecap="round"/>
<polyline points="387.5,1095.5 387.5,1070.5 387.5,1040.5 387.5,1020.0" fill="none" stroke="#16492e" stroke-width="7.5" stroke-linejoin="round" stroke-linecap="round"/>
<polyline points="387.5,1095.5 387.5,1070.5 387.5,1040.5 387.5,1020.0" fill="none" stroke="#52da5c" stroke-width="4.0" stroke-linejoin="round" stroke-linecap="round"/>
<polyline points="387.5,1285.5 387.5,1310.5 387.5,1340.5 387.5,1361.0" fill="none" stroke="#16492e" stroke-width="7.5" stroke-linejoin="round" stroke-linecap="round"/>
<polyline points="387.5,1285.5 387.5,1310.5 387.5,1340.5 387.5,1361.0" fill="none" stroke="#52da5c" stroke-width="4.0" stroke-linejoin="round" stroke-linecap="round"/>
<polyline points="292.5,1190.5 267.5,1190.5 237.5,1190.5 216.0,1190.5" fill="none" stroke="#16492e" stroke-width="7.5" stroke-linejoin="round" stroke-linecap="round"/>
<polyline points="292.5,1190.5 267.5,1190.5 237.5,1190.5 216.0,1190.5" fill="none" stroke="#52da5c" stroke-width="4.0" stroke-linejoin="round" stroke-linecap="round"/>
<polyline points="482.5,1190.5 507.5,1190.5 537.5,1190.5 559.0,1190.5" fill="none" stroke="#16492e" stroke-width="7.5" stroke-linejoin="round" stroke-linecap="round"/>
<polyline points="482.5,1190.5 507.5,1190.5 537.5,1190.5 559.0,1190.5" fill="none" stroke="#52da5c" stroke-width="4.0" stroke-linejoin="round" stroke-linecap="round"/>
<polyline points="405.0,1095.5 405.0,1070.5 415.0,1040.5 415.0,1020.0" fill="none" stroke="#16492e" stroke-width="7.5" stroke-linejoin="round" stroke-linecap="round"/>
<polyline points="405.0,1095.5 405.0,1070.5 415.0,1040.5 415.0,1020.0" fill="none" stroke="#52da5c" stroke-width="4.0" stroke-linejoin="round" stroke-linecap="round"/>
<polyline points="405.0,1285.5 405.0,1310.5 415.0,1340.5 415.0,1361.0" fill="none" stroke="#16492e" stroke-width="7.5" stroke-linejoin="round" stroke-linecap="round"/>
<polyline points="405.0,1285.5 405.0,1310.5 415.0,1340.5 415.0,1361.0" fill="none" stroke="#52da5c" stroke-width="4.0" stroke-linejoin="round" stroke-linecap="round"/>
<polyline points="292.5,1208.0 267.5,1208.0 237.5,1218.0 216.0,1218.0" fill="none" stroke="#16492e" stroke-width="7.5" stroke-linejoin="round" stroke-linecap="round"/>
<polyline points="292.5,1208.0 267.5,1208.0 237.5,1218.0 216.0,1218.0" fill="none" stroke="#52da5c" stroke-width="4.0" stroke-linejoin="round" stroke-linecap="round"/>
<polyline points="482.5,1208.0 507.5,1208.0 537.5,1218.0 559.0,1218.0" fill="none" stroke="#16492e" stroke-width="7.5" stroke-linejoin="round" stroke-linecap="round"/>
<polyline points="482.5,1208.0 507.5,1208.0 537.5,1218.0 559.0,1218.0" fill="none" stroke="#52da5c" stroke-width="4.0" stroke-linejoin="round" stroke-linecap="round"/>
<polyline points="422.5,1095.5 422.5,1070.5 442.5,1040.5 442.5,1020.0" fill="none" stroke="#16492e" stroke-width="7.5" stroke-linejoin="round" stroke-linecap="round"/>
<polyline points="422.5,1095.5 422.5,1070.5 442.5,1040.5 442.5,1020.0" fill="none" stroke="#52da5c" stroke-width="4.0" stroke-linejoin="round" stroke-linecap="round"/>
<polyline points="422.5,1285.5 422.5,1310.5 442.5,1340.5 442.5,1361.0" fill="none" stroke="#16492e" stroke-width="7.5" stroke-linejoin="round" stroke-linecap="round"/>
<polyline points="422.5,1285.5 422.5,1310.5 442.5,1340.5 442.5,1361.0" fill="none" stroke="#52da5c" stroke-width="4.0" stroke-linejoin="round" stroke-linecap="round"/>
<polyline points="292.5,1225.5 267.5,1225.5 237.5,1245.5 216.0,1245.5" fill="none" stroke="#16492e" stroke-width="7.5" stroke-linejoin="round" stroke-linecap="round"/>
<polyline points="292.5,1225.5 267.5,1225.5 237.5,1245.5 216.0,1245.5" fill="none" stroke="#52da5c" stroke-width="4.0" stroke-linejoin="round" stroke-linecap="round"/>
<polyline points="482.5,1225.5 507.5,1225.5 537.5,1245.5 559.0,1245.5" fill="none" stroke="#16492e" stroke-width="7.5" stroke-linejoin="round" stroke-linecap="round"/>
<polyline points="482.5,1225.5 507.5,1225.5 537.5,1245.5 559.0,1245.5" fill="none" stroke="#52da5c" stroke-width="4.0" stroke-linejoin="round" stroke-linecap="round"/>
<polyline points="440.0,1095.5 440.0,1070.5 470.0,1040.5 470.0,1020.0" fill="none" stroke="#16492e" stroke-width="7.5" stroke-linejoin="round" stroke-linecap="round"/>
<polyline points="440.0,1095.5 440.0,1070.5 470.0,1040.5 470.0,1020.0" fill="none" stroke="#52da5c" stroke-width="4.0" stroke-linejoin="round" stroke-linecap="round"/>
<polyline points="440.0,1285.5 440.0,1310.5 470.0,1340.5 470.0,1361.0" fill="none" stroke="#16492e" stroke-width="7.5" stroke-linejoin="round" stroke-linecap="round"/>
<polyline points="440.0,1285.5 440.0,1310.5 470.0,1340.5 470.0,1361.0" fill="none" stroke="#52da5c" stroke-width="4.0" stroke-linejoin="round" stroke-linecap="round"/>
<polyline points="292.5,1243.0 267.5,1243.0 237.5,1273.0 216.0,1273.0" fill="none" stroke="#16492e" stroke-width="7.5" stroke-linejoin="round" stroke-linecap="round"/>
<polyline points="292.5,1243.0 267.5,1243.0 237.5,1273.0 216.0,1273.0" fill="none" stroke="#52da5c" stroke-width="4.0" stroke-linejoin="round" stroke-linecap="round"/>
<polyline points="482.5,1243.0 507.5,1243.0 537.5,1273.0 559.0,1273.0" fill="none" stroke="#16492e" stroke-width="7.5" stroke-linejoin="round" stroke-linecap="round"/>
<polyline points="482.5,1243.0 507.5,1243.0 537.5,1273.0 559.0,1273.0" fill="none" stroke="#52da5c" stroke-width="4.0" stroke-linejoin="round" stroke-linecap="round"/>
<polyline points="457.5,1095.5 457.5,1070.5 497.5,1040.5 497.5,1020.0" fill="none" stroke="#16492e" stroke-width="7.5" stroke-linejoin="round" stroke-linecap="round"/>
<polyline points="457.5,1095.5 457.5,1070.5 497.5,1040.5 497.5,1020.0" fill="none" stroke="#52da5c" stroke-width="4.0" stroke-linejoin="round" stroke-linecap="round"/>
<polyline points="457.5,1285.5 457.5,1310.5 497.5,1340.5 497.5,1361.0" fill="none" stroke="#16492e" stroke-width="7.5" stroke-linejoin="round" stroke-linecap="round"/>
<polyline points="457.5,1285.5 457.5,1310.5 497.5,1340.5 497.5,1361.0" fill="none" stroke="#52da5c" stroke-width="4.0" stroke-linejoin="round" stroke-linecap="round"/>
<polyline points="292.5,1260.5 267.5,1260.5 237.5,1300.5 216.0,1300.5" fill="none" stroke="#16492e" stroke-width="7.5" stroke-linejoin="round" stroke-linecap="round"/>
<polyline points="292.5,1260.5 267.5,1260.5 237.5,1300.5 216.0,1300.5" fill="none" stroke="#52da5c" stroke-width="4.0" stroke-linejoin="round" stroke-linecap="round"/>
<polyline points="482.5,1260.5 507.5,1260.5 537.5,1300.5 559.0,1300.5" fill="none" stroke="#16492e" stroke-width="7.5" stroke-linejoin="round" stroke-linecap="round"/>
<polyline points="482.5,1260.5 507.5,1260.5 537.5,1300.5 559.0,1300.5" fill="none" stroke="#52da5c" stroke-width="4.0" stroke-linejoin="round" stroke-linecap="round"/>
<rect x="301.0" y="1082.0" width="8.0" height="9.0" fill="#f0e8d0" />
<rect x="301.0" y="1290.0" width="8.0" height="9.0" fill="#f0e8d0" />
<rect x="279.0" y="1104.0" width="9.0" height="8.0" fill="#f0e8d0" />
<rect x="487.0" y="1104.0" width="9.0" height="8.0" fill="#f0e8d0" />
<rect x="324.6" y="1082.0" width="8.0" height="9.0" fill="#f0e8d0" />
<rect x="324.6" y="1290.0" width="8.0" height="9.0" fill="#f0e8d0" />
<rect x="279.0" y="1127.6" width="9.0" height="8.0" fill="#f0e8d0" />
<rect x="487.0" y="1127.6" width="9.0" height="8.0" fill="#f0e8d0" />
<rect x="348.2" y="1082.0" width="8.0" height="9.0" fill="#f0e8d0" />
<rect x="348.2" y="1290.0" width="8.0" height="9.0" fill="#f0e8d0" />
<rect x="279.0" y="1151.2" width="9.0" height="8.0" fill="#f0e8d0" />
<rect x="487.0" y="1151.2" width="9.0" height="8.0" fill="#f0e8d0" />
<rect x="371.7" y="1082.0" width="8.0" height="9.0" fill="#f0e8d0" />
<rect x="371.7" y="1290.0" width="8.0" height="9.0" fill="#f0e8d0" />
<rect x="279.0" y="1174.7" width="9.0" height="8.0" fill="#f0e8d0" />
<rect x="487.0" y="1174.7" width="9.0" height="8.0" fill="#f0e8d0" />
<rect x="395.3" y="1082.0" width="8.0" height="9.0" fill="#f0e8d0" />
<rect x="395.3" y="1290.0" width="8.0" height="9.0" fill="#f0e8d0" />
<rect x="279.0" y="1198.3" width="9.0" height="8.0" fill="#f0e8d0" />
<rect x="487.0" y="1198.3" width="9.0" height="8.0" fill="#f0e8d0" />
<rect x="418.8" y="1082.0" width="8.0" height="9.0" fill="#f0e8d0" />
<rect x="418.8" y="1290.0" width="8.0" height="9.0" fill="#f0e8d0" />
<rect x="279.0" y="1221.8" width="9.0" height="8.0" fill="#f0e8d0" />
<rect x="487.0" y="1221.8" width="9.0" height="8.0" fill="#f0e8d0" />
<rect x="442.4" y="1082.0" width="8.0" height="9.0" fill="#f0e8d0" />
<rect x="442.4" y="1290.0" width="8.0" height="9.0" fill="#f0e8d0" />
<rect x="279.0" y="1245.4" width="9.0" height="8.0" fill="#f0e8d0" />
<rect x="487.0" y="1245.4" width="9.0" height="8.0" fill="#f0e8d0" />
<rect x="466.0" y="1082.0" width="8.0" height="9.0" fill="#f0e8d0" />
<rect x="466.0" y="1290.0" width="8.0" height="9.0" fill="#f0e8d0" />
<rect x="279.0" y="1269.0" width="9.0" height="8.0" fill="#f0e8d0" />
<rect x="487.0" y="1269.0" width="9.0" height="8.0" fill="#f0e8d0" />
<rect x="291.0" y="1094.0" width="192.9" height="192.9" fill="#2a0f0b" />
<rect x="294.0" y="1097.0" width="186.9" height="186.9" fill="#8a3a30" />
<rect x="312.3" y="1115.3" width="150.5" height="150.5" fill="#b0564a" />
<polygon points="312.3,1115.3 462.7,1115.3 445.4,1132.6 329.6,1132.6" fill="#9a4436" />
<polygon points="312.3,1265.7 462.7,1265.7 445.4,1248.4 329.6,1248.4" fill="#7e3229" />
<rect x="329.6" y="1132.6" width="115.8" height="115.8" fill="#c06a5a" />
<polyline points="377.5,1098.0 383.5,1140.5 375.5,1160.5 387.5,1180.5" fill="none" stroke="#2a0f0b" stroke-width="3"/>
<polyline points="407.5,1195.5 427.5,1210.5 447.5,1200.5 467.5,1210.5" fill="none" stroke="#2a0f0b" stroke-width="3"/>
<polyline points="392.5,1230.5 382.5,1260.5 377.5,1280.5" fill="none" stroke="#2a0f0b" stroke-width="3"/>
<line x1="285.5" y1="1088.5" x2="489.5" y2="1292.5" stroke="#1a0806" stroke-width="34" stroke-linecap="round"/>
<line x1="489.5" y1="1088.5" x2="285.5" y2="1292.5" stroke="#1a0806" stroke-width="34" stroke-linecap="round"/>
<line x1="285.5" y1="1088.5" x2="489.5" y2="1292.5" stroke="#e82d2d" stroke-width="27" stroke-linecap="round"/>
<line x1="489.5" y1="1088.5" x2="285.5" y2="1292.5" stroke="#e82d2d" stroke-width="27" stroke-linecap="round"/>
<line x1="198.0" y1="1043.0" x2="158.0" y2="1083.0" stroke="#1a2028" stroke-width="16" stroke-linecap="square"/>
<line x1="198.0" y1="1043.0" x2="158.0" y2="1083.0" stroke="#6a7a8c" stroke-width="9" stroke-linecap="square"/>
<circle cx="216.0" cy="1025.0" r="33.0" fill="#1a2028"/>
<circle cx="216.0" cy="1025.0" r="30.0" fill="#8c9cb0"/>
<circle cx="216.0" cy="1025.0" r="21.6" fill="#5a6c84" stroke="#2a3440" stroke-width="2"/>
<rect x="217.5" y="1011.5" width="7.5" height="6.0" fill="#e8f0f8"/>
<text x="387.5" y="1416.5" font-size="45.8" font-weight="bold" text-anchor="middle" textLength="313.0" lengthAdjust="spacingAndGlyphs" fill="#3a0c08" stroke="#3a0c08" stroke-width="9.0" stroke-linejoin="round">Component Failure</text>
<text x="387.5" y="1416.5" font-size="45.8" font-weight="bold" text-anchor="middle" textLength="313.0" lengthAdjust="spacingAndGlyphs" fill="#e0463c" stroke="#e0463c" stroke-width="2.0" stroke-linejoin="round" >Component Failure</text>
<g transform="translate(819.0 918.9) scale(0.2990)" stroke-linejoin="round">
<polygon points="55,905 235,790 890,790 1055,905 1055,1175 880,1290 640,1400 500,1400 270,1290 55,1175" fill="#7e3128" stroke="#2a0c08" stroke-width="9"/>
<polygon points="60,905 235,795 890,795 1050,905 640,1130 500,1130" fill="#c0584a" stroke="#2a0c08" stroke-width="9"/>
<polyline points="70,910 500,1125 640,1125 1040,910" fill="none" stroke="#dc6e5a" stroke-width="10"/>
<polygon points="500,1130 640,1130 640,1400 500,1400" fill="#a4463a" stroke="#2a0c08" stroke-width="9"/>
<rect x="540" y="1200" width="45" height="10" fill="#5e241d"/>
<rect x="540" y="1250" width="45" height="10" fill="#5e241d"/>
<rect x="540" y="1300" width="45" height="10" fill="#5e241d"/>
<rect x="540" y="1350" width="45" height="10" fill="#5e241d"/>
<polygon points="90,1085 210,1035 370,1120 265,1170" fill="#c0584a" stroke="#2a0c08" stroke-width="9"/>
<polygon points="90,1085 265,1170 265,1300 90,1215" fill="#a4463a" stroke="#2a0c08" stroke-width="9"/>
<polygon points="265,1170 370,1120 370,1345 265,1300" fill="#7e3128" stroke="#2a0c08" stroke-width="9"/>
<polyline points="95,1180 265,1265 370,1215" fill="none" stroke="#2a0c08" stroke-width="8"/>
<polygon points="760,1120 930,1030 1045,1085 880,1170" fill="#c0584a" stroke="#2a0c08" stroke-width="9"/>
<polygon points="760,1120 880,1170 880,1340 760,1290" fill="#a4463a" stroke="#2a0c08" stroke-width="9"/>
<polygon points="880,1170 1045,1085 1045,1240 880,1340" fill="#7e3128" stroke="#2a0c08" stroke-width="9"/>
<polyline points="765,1215 880,1265 1040,1180" fill="none" stroke="#2a0c08" stroke-width="8"/>
<ellipse cx="560" cy="965" rx="330" ry="112" fill="#a4463a" stroke="#2a0c08" stroke-width="9"/>
<ellipse cx="560" cy="925" rx="322" ry="100" fill="#c0584a" stroke="#2a0c08" stroke-width="9"/>
<ellipse cx="560" cy="915" rx="270" ry="78" fill="#a4463a" stroke="#2a0c08" stroke-width="6"/>
<g transform="translate(0 930) scale(1 1.000) translate(0 -930)">
<polygon points="600,560 800,545 850,650 870,850 820,900 650,935" fill="#5e241d" stroke="#2a0c08" stroke-width="9"/>
<polygon points="290,500 330,480 470,470 560,520 640,620 650,935 560,950 420,935 300,900 285,700" fill="#ad4a3c" stroke="#2a0c08" stroke-width="9"/>
<path d="M480 490 Q600 560 620 900" fill="none" stroke="#dc6e5a" stroke-width="26"/>
<ellipse cx="405" cy="640" rx="55" ry="85" fill="#a4463a" stroke="#2a0c08" stroke-width="8"/>
<polygon points="600,320 780,240 870,250 910,470 760,560 640,560" fill="#a3463a" stroke="#2a0c08" stroke-width="9"/>
<line x1="660" y1="290" x2="680" y2="540" stroke="#7e3128" stroke-width="10"/>
<line x1="720" y1="270" x2="740" y2="520" stroke="#7e3128" stroke-width="10"/>
<line x1="780" y1="250" x2="800" y2="500" stroke="#7e3128" stroke-width="10"/>
<ellipse cx="845" cy="365" rx="122" ry="112" fill="#a4463a" stroke="#2a0c08" stroke-width="9"/>
<ellipse cx="850" cy="365" rx="98" ry="90" fill="#7e3128"/>
<circle cx="905.0" cy="365.0" r="20" fill="#5e241d"/>
<circle cx="884.3" cy="405.7" r="20" fill="#5e241d"/>
<circle cx="837.8" cy="415.7" r="20" fill="#5e241d"/>
<circle cx="800.4" cy="387.6" r="20" fill="#5e241d"/>
<circle cx="800.4" cy="342.4" r="20" fill="#5e241d"/>
<circle cx="837.8" cy="314.3" r="20" fill="#5e241d"/>
<circle cx="884.3" cy="324.3" r="20" fill="#5e241d"/>
<circle cx="850" cy="365" r="16" fill="#5e241d"/>
<polygon points="115,520 150,440 250,375 340,300 430,262 500,242 660,240 740,262 790,330 800,430 740,520 640,560 560,520 470,470 330,480 300,580 290,690 200,690 130,620" fill="#b24e40" stroke="#2a0c08" stroke-width="9"/>
<path d="M160 470 Q300 330 520 280 L700 270" fill="none" stroke="#dc6e5a" stroke-width="22"/>
<path d="M560 262 Q700 330 760 520" fill="none" stroke="#dc6e5a" stroke-width="16"/>
<path d="M125 560 Q200 650 290 680" fill="none" stroke="#7e3128" stroke-width="30"/>
</g>
</g>
<path d="M753.0 1135.0h25.0v4.0h-25.0zM748.0 1139.0h30.0v4.0h-30.0zM748.0 1143.0h10.0v4.0h-10.0zM748.0 1147.0h10.0v4.0h-10.0zM748.0 1151.0h25.0v4.0h-25.0zM753.0 1155.0h25.0v4.0h-25.0zM768.0 1159.0h10.0v4.0h-10.0zM768.0 1163.0h10.0v4.0h-10.0zM748.0 1167.0h30.0v4.0h-30.0zM748.0 1171.0h25.0v4.0h-25.0zM782.8 1135.0h10.0v4.0h-10.0zM802.8 1135.0h10.0v4.0h-10.0zM782.8 1139.0h10.0v4.0h-10.0zM802.8 1139.0h10.0v4.0h-10.0zM782.8 1143.0h10.0v4.0h-10.0zM802.8 1143.0h10.0v4.0h-10.0zM782.8 1147.0h30.0v4.0h-30.0zM787.8 1151.0h20.0v4.0h-20.0zM792.8 1155.0h10.0v4.0h-10.0zM792.8 1159.0h10.0v4.0h-10.0zM792.8 1163.0h10.0v4.0h-10.0zM792.8 1167.0h10.0v4.0h-10.0zM792.8 1171.0h10.0v4.0h-10.0zM822.6 1135.0h25.0v4.0h-25.0zM817.6 1139.0h30.0v4.0h-30.0zM817.6 1143.0h10.0v4.0h-10.0zM817.6 1147.0h10.0v4.0h-10.0zM817.6 1151.0h25.0v4.0h-25.0zM822.6 1155.0h25.0v4.0h-25.0zM837.6 1159.0h10.0v4.0h-10.0zM837.6 1163.0h10.0v4.0h-10.0zM817.6 1167.0h30.0v4.0h-30.0zM817.6 1171.0h25.0v4.0h-25.0zM852.4 1135.0h30.0v4.0h-30.0zM852.4 1139.0h30.0v4.0h-30.0zM862.4 1143.0h10.0v4.0h-10.0zM862.4 1147.0h10.0v4.0h-10.0zM862.4 1151.0h10.0v4.0h-10.0zM862.4 1155.0h10.0v4.0h-10.0zM862.4 1159.0h10.0v4.0h-10.0zM862.4 1163.0h10.0v4.0h-10.0zM862.4 1167.0h10.0v4.0h-10.0zM862.4 1171.0h10.0v4.0h-10.0zM887.2 1135.0h30.0v4.0h-30.0zM887.2 1139.0h30.0v4.0h-30.0zM887.2 1143.0h10.0v4.0h-10.0zM887.2 1147.0h10.0v4.0h-10.0zM887.2 1151.0h25.0v4.0h-25.0zM887.2 1155.0h25.0v4.0h-25.0zM887.2 1159.0h10.0v4.0h-10.0zM887.2 1163.0h10.0v4.0h-10.0zM887.2 1167.0h30.0v4.0h-30.0zM887.2 1171.0h30.0v4.0h-30.0zM922.0 1135.0h8.6v4.0h-8.6zM943.4 1135.0h8.6v4.0h-8.6zM922.0 1139.0h12.9v4.0h-12.9zM939.1 1139.0h12.9v4.0h-12.9zM922.0 1143.0h30.0v4.0h-30.0zM922.0 1147.0h8.6v4.0h-8.6zM934.9 1147.0h4.3v4.0h-4.3zM943.4 1147.0h8.6v4.0h-8.6zM922.0 1151.0h8.6v4.0h-8.6zM943.4 1151.0h8.6v4.0h-8.6zM922.0 1155.0h8.6v4.0h-8.6zM943.4 1155.0h8.6v4.0h-8.6zM922.0 1159.0h8.6v4.0h-8.6zM943.4 1159.0h8.6v4.0h-8.6zM922.0 1163.0h8.6v4.0h-8.6zM943.4 1163.0h8.6v4.0h-8.6zM922.0 1167.0h8.6v4.0h-8.6zM943.4 1167.0h8.6v4.0h-8.6zM922.0 1171.0h8.6v4.0h-8.6zM943.4 1171.0h8.6v4.0h-8.6zM996.6 1135.0h20.0v4.0h-20.0zM991.6 1139.0h30.0v4.0h-30.0zM991.6 1143.0h10.0v4.0h-10.0zM1011.6 1143.0h10.0v4.0h-10.0zM991.6 1147.0h10.0v4.0h-10.0zM1011.6 1147.0h10.0v4.0h-10.0zM991.6 1151.0h10.0v4.0h-10.0zM1011.6 1151.0h10.0v4.0h-10.0zM991.6 1155.0h10.0v4.0h-10.0zM1011.6 1155.0h10.0v4.0h-10.0zM991.6 1159.0h10.0v4.0h-10.0zM1011.6 1159.0h10.0v4.0h-10.0zM991.6 1163.0h10.0v4.0h-10.0zM1011.6 1163.0h10.0v4.0h-10.0zM991.6 1167.0h30.0v4.0h-30.0zM996.6 1171.0h20.0v4.0h-20.0zM1026.4 1135.0h30.0v4.0h-30.0zM1026.4 1139.0h30.0v4.0h-30.0zM1026.4 1143.0h10.0v4.0h-10.0zM1026.4 1147.0h10.0v4.0h-10.0zM1026.4 1151.0h25.0v4.0h-25.0zM1026.4 1155.0h25.0v4.0h-25.0zM1026.4 1159.0h10.0v4.0h-10.0zM1026.4 1163.0h10.0v4.0h-10.0zM1026.4 1167.0h10.0v4.0h-10.0zM1026.4 1171.0h10.0v4.0h-10.0zM1061.2 1135.0h30.0v4.0h-30.0zM1061.2 1139.0h30.0v4.0h-30.0zM1061.2 1143.0h10.0v4.0h-10.0zM1061.2 1147.0h10.0v4.0h-10.0zM1061.2 1151.0h25.0v4.0h-25.0zM1061.2 1155.0h25.0v4.0h-25.0zM1061.2 1159.0h10.0v4.0h-10.0zM1061.2 1163.0h10.0v4.0h-10.0zM1061.2 1167.0h10.0v4.0h-10.0zM1061.2 1171.0h10.0v4.0h-10.0zM1096.0 1135.0h10.0v4.0h-10.0zM1096.0 1139.0h10.0v4.0h-10.0zM1096.0 1143.0h10.0v4.0h-10.0zM1096.0 1147.0h10.0v4.0h-10.0zM1096.0 1151.0h10.0v4.0h-10.0zM1096.0 1155.0h10.0v4.0h-10.0zM1096.0 1159.0h10.0v4.0h-10.0zM1096.0 1163.0h10.0v4.0h-10.0zM1096.0 1167.0h30.0v4.0h-30.0zM1096.0 1171.0h30.0v4.0h-30.0zM1130.8 1135.0h30.0v4.0h-30.0zM1130.8 1139.0h30.0v4.0h-30.0zM1140.8 1143.0h10.0v4.0h-10.0zM1140.8 1147.0h10.0v4.0h-10.0zM1140.8 1151.0h10.0v4.0h-10.0zM1140.8 1155.0h10.0v4.0h-10.0zM1140.8 1159.0h10.0v4.0h-10.0zM1140.8 1163.0h10.0v4.0h-10.0zM1130.8 1167.0h30.0v4.0h-30.0zM1130.8 1171.0h30.0v4.0h-30.0zM1165.6 1135.0h10.0v4.0h-10.0zM1185.6 1135.0h10.0v4.0h-10.0zM1165.6 1139.0h10.0v4.0h-10.0zM1185.6 1139.0h10.0v4.0h-10.0zM1165.6 1143.0h15.0v4.0h-15.0zM1185.6 1143.0h10.0v4.0h-10.0zM1165.6 1147.0h15.0v4.0h-15.0zM1185.6 1147.0h10.0v4.0h-10.0zM1165.6 1151.0h30.0v4.0h-30.0zM1165.6 1155.0h10.0v4.0h-10.0zM1180.6 1155.0h15.0v4.0h-15.0zM1165.6 1159.0h10.0v4.0h-10.0zM1180.6 1159.0h15.0v4.0h-15.0zM1165.6 1163.0h10.0v4.0h-10.0zM1180.6 1163.0h15.0v4.0h-15.0zM1165.6 1167.0h10.0v4.0h-10.0zM1185.6 1167.0h10.0v4.0h-10.0zM1165.6 1171.0h10.0v4.0h-10.0zM1185.6 1171.0h10.0v4.0h-10.0zM1200.4 1135.0h30.0v4.0h-30.0zM1200.4 1139.0h30.0v4.0h-30.0zM1200.4 1143.0h10.0v4.0h-10.0zM1200.4 1147.0h10.0v4.0h-10.0zM1200.4 1151.0h25.0v4.0h-25.0zM1200.4 1155.0h25.0v4.0h-25.0zM1200.4 1159.0h10.0v4.0h-10.0zM1200.4 1163.0h10.0v4.0h-10.0zM1200.4 1167.0h30.0v4.0h-30.0zM1200.4 1171.0h30.0v4.0h-30.0z" fill="#2a0a08" stroke="#2a0a08" stroke-width="10.0" stroke-linejoin="miter"/>
<path d="M751.0 1133.0h25.0v4.0h-25.0zM746.0 1137.0h30.0v4.0h-30.0zM746.0 1141.0h10.0v4.0h-10.0zM746.0 1145.0h10.0v4.0h-10.0zM746.0 1149.0h25.0v4.0h-25.0zM751.0 1153.0h25.0v4.0h-25.0zM766.0 1157.0h10.0v4.0h-10.0zM766.0 1161.0h10.0v4.0h-10.0zM746.0 1165.0h30.0v4.0h-30.0zM746.0 1169.0h25.0v4.0h-25.0zM780.8 1133.0h10.0v4.0h-10.0zM800.8 1133.0h10.0v4.0h-10.0zM780.8 1137.0h10.0v4.0h-10.0zM800.8 1137.0h10.0v4.0h-10.0zM780.8 1141.0h10.0v4.0h-10.0zM800.8 1141.0h10.0v4.0h-10.0zM780.8 1145.0h30.0v4.0h-30.0zM785.8 1149.0h20.0v4.0h-20.0zM790.8 1153.0h10.0v4.0h-10.0zM790.8 1157.0h10.0v4.0h-10.0zM790.8 1161.0h10.0v4.0h-10.0zM790.8 1165.0h10.0v4.0h-10.0zM790.8 1169.0h10.0v4.0h-10.0zM820.6 1133.0h25.0v4.0h-25.0zM815.6 1137.0h30.0v4.0h-30.0zM815.6 1141.0h10.0v4.0h-10.0zM815.6 1145.0h10.0v4.0h-10.0zM815.6 1149.0h25.0v4.0h-25.0zM820.6 1153.0h25.0v4.0h-25.0zM835.6 1157.0h10.0v4.0h-10.0zM835.6 1161.0h10.0v4.0h-10.0zM815.6 1165.0h30.0v4.0h-30.0zM815.6 1169.0h25.0v4.0h-25.0zM850.4 1133.0h30.0v4.0h-30.0zM850.4 1137.0h30.0v4.0h-30.0zM860.4 1141.0h10.0v4.0h-10.0zM860.4 1145.0h10.0v4.0h-10.0zM860.4 1149.0h10.0v4.0h-10.0zM860.4 1153.0h10.0v4.0h-10.0zM860.4 1157.0h10.0v4.0h-10.0zM860.4 1161.0h10.0v4.0h-10.0zM860.4 1165.0h10.0v4.0h-10.0zM860.4 1169.0h10.0v4.0h-10.0zM885.2 1133.0h30.0v4.0h-30.0zM885.2 1137.0h30.0v4.0h-30.0zM885.2 1141.0h10.0v4.0h-10.0zM885.2 1145.0h10.0v4.0h-10.0zM885.2 1149.0h25.0v4.0h-25.0zM885.2 1153.0h25.0v4.0h-25.0zM885.2 1157.0h10.0v4.0h-10.0zM885.2 1161.0h10.0v4.0h-10.0zM885.2 1165.0h30.0v4.0h-30.0zM885.2 1169.0h30.0v4.0h-30.0zM920.0 1133.0h8.6v4.0h-8.6zM941.4 1133.0h8.6v4.0h-8.6zM920.0 1137.0h12.9v4.0h-12.9zM937.1 1137.0h12.9v4.0h-12.9zM920.0 1141.0h30.0v4.0h-30.0zM920.0 1145.0h8.6v4.0h-8.6zM932.9 1145.0h4.3v4.0h-4.3zM941.4 1145.0h8.6v4.0h-8.6zM920.0 1149.0h8.6v4.0h-8.6zM941.4 1149.0h8.6v4.0h-8.6zM920.0 1153.0h8.6v4.0h-8.6zM941.4 1153.0h8.6v4.0h-8.6zM920.0 1157.0h8.6v4.0h-8.6zM941.4 1157.0h8.6v4.0h-8.6zM920.0 1161.0h8.6v4.0h-8.6zM941.4 1161.0h8.6v4.0h-8.6zM920.0 1165.0h8.6v4.0h-8.6zM941.4 1165.0h8.6v4.0h-8.6zM920.0 1169.0h8.6v4.0h-8.6zM941.4 1169.0h8.6v4.0h-8.6zM994.6 1133.0h20.0v4.0h-20.0zM989.6 1137.0h30.0v4.0h-30.0zM989.6 1141.0h10.0v4.0h-10.0zM1009.6 1141.0h10.0v4.0h-10.0zM989.6 1145.0h10.0v4.0h-10.0zM1009.6 1145.0h10.0v4.0h-10.0zM989.6 1149.0h10.0v4.0h-10.0zM1009.6 1149.0h10.0v4.0h-10.0zM989.6 1153.0h10.0v4.0h-10.0zM1009.6 1153.0h10.0v4.0h-10.0zM989.6 1157.0h10.0v4.0h-10.0zM1009.6 1157.0h10.0v4.0h-10.0zM989.6 1161.0h10.0v4.0h-10.0zM1009.6 1161.0h10.0v4.0h-10.0zM989.6 1165.0h30.0v4.0h-30.0zM994.6 1169.0h20.0v4.0h-20.0zM1024.4 1133.0h30.0v4.0h-30.0zM1024.4 1137.0h30.0v4.0h-30.0zM1024.4 1141.0h10.0v4.0h-10.0zM1024.4 1145.0h10.0v4.0h-10.0zM1024.4 1149.0h25.0v4.0h-25.0zM1024.4 1153.0h25.0v4.0h-25.0zM1024.4 1157.0h10.0v4.0h-10.0zM1024.4 1161.0h10.0v4.0h-10.0zM1024.4 1165.0h10.0v4.0h-10.0zM1024.4 1169.0h10.0v4.0h-10.0zM1059.2 1133.0h30.0v4.0h-30.0zM1059.2 1137.0h30.0v4.0h-30.0zM1059.2 1141.0h10.0v4.0h-10.0zM1059.2 1145.0h10.0v4.0h-10.0zM1059.2 1149.0h25.0v4.0h-25.0zM1059.2 1153.0h25.0v4.0h-25.0zM1059.2 1157.0h10.0v4.0h-10.0zM1059.2 1161.0h10.0v4.0h-10.0zM1059.2 1165.0h10.0v4.0h-10.0zM1059.2 1169.0h10.0v4.0h-10.0zM1094.0 1133.0h10.0v4.0h-10.0zM1094.0 1137.0h10.0v4.0h-10.0zM1094.0 1141.0h10.0v4.0h-10.0zM1094.0 1145.0h10.0v4.0h-10.0zM1094.0 1149.0h10.0v4.0h-10.0zM1094.0 1153.0h10.0v4.0h-10.0zM1094.0 1157.0h10.0v4.0h-10.0zM1094.0 1161.0h10.0v4.0h-10.0zM1094.0 1165.0h30.0v4.0h-30.0zM1094.0 1169.0h30.0v4.0h-30.0zM1128.8 1133.0h30.0v4.0h-30.0zM1128.8 1137.0h30.0v4.0h-30.0zM1138.8 1141.0h10.0v4.0h-10.0zM1138.8 1145.0h10.0v4.0h-10.0zM1138.8 1149.0h10.0v4.0h-10.0zM1138.8 1153.0h10.0v4.0h-10.0zM1138.8 1157.0h10.0v4.0h-10.0zM1138.8 1161.0h10.0v4.0h-10.0zM1128.8 1165.0h30.0v4.0h-30.0zM1128.8 1169.0h30.0v4.0h-30.0zM1163.6 1133.0h10.0v4.0h-10.0zM1183.6 1133.0h10.0v4.0h-10.0zM1163.6 1137.0h10.0v4.0h-10.0zM1183.6 1137.0h10.0v4.0h-10.0zM1163.6 1141.0h15.0v4.0h-15.0zM1183.6 1141.0h10.0v4.0h-10.0zM1163.6 1145.0h15.0v4.0h-15.0zM1183.6 1145.0h10.0v4.0h-10.0zM1163.6 1149.0h30.0v4.0h-30.0zM1163.6 1153.0h10.0v4.0h-10.0zM1178.6 1153.0h15.0v4.0h-15.0zM1163.6 1157.0h10.0v4.0h-10.0zM1178.6 1157.0h15.0v4.0h-15.0zM1163.6 1161.0h10.0v4.0h-10.0zM1178.6 1161.0h15.0v4.0h-15.0zM1163.6 1165.0h10.0v4.0h-10.0zM1183.6 1165.0h10.0v4.0h-10.0zM1163.6 1169.0h10.0v4.0h-10.0zM1183.6 1169.0h10.0v4.0h-10.0zM1198.4 1133.0h30.0v4.0h-30.0zM1198.4 1137.0h30.0v4.0h-30.0zM1198.4 1141.0h10.0v4.0h-10.0zM1198.4 1145.0h10.0v4.0h-10.0zM1198.4 1149.0h25.0v4.0h-25.0zM1198.4 1153.0h25.0v4.0h-25.0zM1198.4 1157.0h10.0v4.0h-10.0zM1198.4 1161.0h10.0v4.0h-10.0zM1198.4 1165.0h30.0v4.0h-30.0zM1198.4 1169.0h30.0v4.0h-30.0z" fill="#e8302e" stroke="#2a0a08" stroke-width="10.0" stroke-linejoin="miter" paint-order="stroke"/>
<text x="987.0" y="1376.0" font-size="39.8" font-weight="bold" text-anchor="middle" textLength="202.0" lengthAdjust="spacingAndGlyphs" fill="#1c1610" stroke="#1c1610" stroke-width="2.0" stroke-linejoin="round" >Macro-Level</text>
<text x="986.0" y="1413.0" font-size="39.8" font-weight="bold" text-anchor="middle" textLength="300.0" lengthAdjust="spacingAndGlyphs" fill="#1c1610" stroke="#1c1610" stroke-width="2.0" stroke-linejoin="round" >Immune Response</text>
<rect x="22.0" y="1297.0" width="6.0" height="6.0" fill="#dba868" />
<rect x="22.0" y="1310.0" width="6.0" height="8.0" fill="#dba868" />
<rect x="22.0" y="1324.0" width="6.0" height="150.0" fill="#dba868" />
<rect x="33.0" y="1346.0" width="6.0" height="140.0" fill="#dba868" />
<rect x="22.0" y="1474.0" width="12.0" height="6.0" fill="#dba868" />
<rect x="20.5" y="1497.0" width="26.5" height="5.0" fill="#dba868" />
<rect x="20.5" y="1516.0" width="26.5" height="5.0" fill="#dba868" />
<rect x="20.5" y="1497.0" width="5.0" height="24.0" fill="#dba868" />
<rect x="42.0" y="1497.0" width="5.0" height="24.0" fill="#dba868" />
<rect x="30.0" y="1505.0" width="8.0" height="8.0" fill="#dba868" />
<rect x="55.0" y="1501.0" width="146.0" height="6.0" fill="#dba868" />
<rect x="76.0" y="1513.0" width="141.0" height="5.0" fill="#dba868" />
<rect x="224.0" y="1513.0" width="8.0" height="5.0" fill="#dba868" />
<rect x="238.0" y="1513.0" width="8.0" height="5.0" fill="#dba868" />
<rect x="1340.5" y="1297.0" width="6.0" height="6.0" fill="#dba868" />
<rect x="1340.5" y="1310.0" width="6.0" height="8.0" fill="#dba868" />
<rect x="1340.5" y="1324.0" width="6.0" height="150.0" fill="#dba868" />
<rect x="1329.5" y="1346.0" width="6.0" height="140.0" fill="#dba868" />
<rect x="1334.5" y="1474.0" width="12.0" height="6.0" fill="#dba868" />
<rect x="1321.5" y="1497.0" width="26.5" height="5.0" fill="#dba868" />
<rect x="1321.5" y="1516.0" width="26.5" height="5.0" fill="#dba868" />
<rect x="1343.0" y="1497.0" width="5.0" height="24.0" fill="#dba868" />
<rect x="1321.5" y="1497.0" width="5.0" height="24.0" fill="#dba868" />
<rect x="1330.5" y="1505.0" width="8.0" height="8.0" fill="#dba868" />
<rect x="1167.5" y="1501.0" width="146.0" height="6.0" fill="#dba868" />
<rect x="1151.5" y="1513.0" width="141.0" height="5.0" fill="#dba868" />
<rect x="1136.5" y="1513.0" width="8.0" height="5.0" fill="#dba868" />
<rect x="1122.5" y="1513.0" width="8.0" height="5.0" fill="#dba868" />
<polygon points="57.0,1398.0 136.0,1398.0 142.0,1404.0 142.0,1484.0 136.0,1490.0 57.0,1490.0 51.0,1484.0 51.0,1404.0" fill="#0c140e" />
<rect x="56.0" y="1403.0" width="81.0" height="82.0" fill="#5cb86a" />
<rect x="61.0" y="1408.0" width="71.0" height="72.0" fill="#050805" />
<circle cx="102.5" cy="1436.0" r="14" fill="none" stroke="#6ee070" stroke-width="6"/>
<line x1="92.5" y1="1447.0" x2="72.5" y2="1468.0" stroke="#6ee070" stroke-width="7"/>
<polygon points="1234.0,1398.0 1313.0,1398.0 1319.0,1404.0 1319.0,1484.0 1313.0,1490.0 1234.0,1490.0 1228.0,1484.0 1228.0,1404.0" fill="#0c140e" />
<rect x="1233.0" y="1403.0" width="81.0" height="82.0" fill="#5cb86a" />
<rect x="1238.0" y="1408.0" width="71.0" height="72.0" fill="#050805" />
<polygon points="1285.5,1414.0 1251.5,1448.0 1269.5,1448.0 1259.5,1474.0 1295.5,1438.0 1277.5,1438.0 1287.5,1414.0" fill="#62e85a" />
<g transform="translate(1680.0 213.0) scale(1.000)">
<line x1="0" y1="0" x2="4.3" y2="-48.8" stroke="#2e0a0e" stroke-width="15"/>
<rect x="-5.2" y="-57.3" width="19" height="17" fill="#2e0a0e"/>
<line x1="0" y1="0" x2="-27.6" y2="-38.0" stroke="#2e0a0e" stroke-width="15"/>
<rect x="-37.1" y="-46.5" width="19" height="17" fill="#2e0a0e"/>
<line x1="0" y1="0" x2="33.9" y2="-33.9" stroke="#2e0a0e" stroke-width="15"/>
<rect x="24.4" y="-42.4" width="19" height="17" fill="#2e0a0e"/>
<line x1="0" y1="0" x2="-45.8" y2="-4.0" stroke="#2e0a0e" stroke-width="15"/>
<rect x="-55.3" y="-12.5" width="19" height="17" fill="#2e0a0e"/>
<line x1="0" y1="0" x2="48.0" y2="0.0" stroke="#2e0a0e" stroke-width="15"/>
<rect x="38.5" y="-8.5" width="19" height="17" fill="#2e0a0e"/>
<line x1="0" y1="0" x2="-36.2" y2="28.3" stroke="#2e0a0e" stroke-width="15"/>
<rect x="-45.7" y="19.8" width="19" height="17" fill="#2e0a0e"/>
<line x1="0" y1="0" x2="32.5" y2="32.5" stroke="#2e0a0e" stroke-width="15"/>
<rect x="23.0" y="24.0" width="19" height="17" fill="#2e0a0e"/>
<line x1="0" y1="0" x2="-3.3" y2="46.9" stroke="#2e0a0e" stroke-width="15"/>
<rect x="-12.8" y="38.4" width="19" height="17" fill="#2e0a0e"/>
<circle cx="0" cy="0" r="39.5" fill="#2e0a0e"/>
<line x1="0" y1="0" x2="4.3" y2="-48.8" stroke="#d8434e" stroke-width="8"/>
<rect x="-2.2" y="-54.3" width="13" height="11" fill="#d8434e"/>
<line x1="0" y1="0" x2="-27.6" y2="-38.0" stroke="#d8434e" stroke-width="8"/>
<rect x="-34.1" y="-43.5" width="13" height="11" fill="#d8434e"/>
<line x1="0" y1="0" x2="33.9" y2="-33.9" stroke="#d8434e" stroke-width="8"/>
<rect x="27.4" y="-39.4" width="13" height="11" fill="#d8434e"/>
<line x1="0" y1="0" x2="-45.8" y2="-4.0" stroke="#d8434e" stroke-width="8"/>
<rect x="-52.3" y="-9.5" width="13" height="11" fill="#d8434e"/>
<line x1="0" y1="0" x2="48.0" y2="0.0" stroke="#d8434e" stroke-width="8"/>
<rect x="41.5" y="-5.5" width="13" height="11" fill="#d8434e"/>
<line x1="0" y1="0" x2="-36.2" y2="28.3" stroke="#bf3252" stroke-width="8"/>
<rect x="-42.7" y="22.8" width="13" height="11" fill="#bf3252"/>
<line x1="0" y1="0" x2="32.5" y2="32.5" stroke="#bf3252" stroke-width="8"/>
<rect x="26.0" y="27.0" width="13" height="11" fill="#bf3252"/>
<line x1="0" y1="0" x2="-3.3" y2="46.9" stroke="#bf3252" stroke-width="8"/>
<rect x="-9.8" y="41.4" width="13" height="11" fill="#bf3252"/>
<circle cx="0" cy="0" r="36" fill="url(#vir)"/>
<rect x="-14" y="-22" width="3" height="3" fill="#a8283a"/>
<rect x="-8" y="-21" width="3" height="3" fill="#a8283a"/>
<rect x="4" y="-22" width="3" height="3" fill="#a8283a"/>
<rect x="20" y="-14" width="3" height="3" fill="#a8283a"/>
<rect x="-24" y="4" width="3" height="3" fill="#a8283a"/>
<rect x="24" y="8" width="3" height="3" fill="#a8283a"/>
<rect x="14" y="24" width="3" height="3" fill="#a8283a"/>
<rect x="-16" y="22" width="3" height="3" fill="#a8283a"/>
<rect x="-2" y="28" width="3" height="3" fill="#a8283a"/>
<rect x="8" y="-28" width="3" height="3" fill="#a8283a"/>
<polygon points="-19,-15 -3,-4 -3,-1 -19,-1" fill="#5a1018"/>
<polygon points="21,-17 6,-4 6,-1 21,-1" fill="#5a1018"/>
<rect x="-16" y="-7" width="4" height="4" fill="#f7d8d0"/><rect x="11" y="-7" width="4" height="4" fill="#f7d8d0"/>
<rect x="-11" y="8" width="23" height="10" fill="#4a0c14"/><rect x="-8.5" y="10.5" width="18" height="5" fill="#f6e4ea"/>
</g>
<g transform="translate(2068.0 212.0) scale(1.000)">
<line x1="0" y1="0" x2="4.3" y2="-48.8" stroke="#2e0a0e" stroke-width="15"/>
<rect x="-5.2" y="-57.3" width="19" height="17" fill="#2e0a0e"/>
<line x1="0" y1="0" x2="-27.6" y2="-38.0" stroke="#2e0a0e" stroke-width="15"/>
<rect x="-37.1" y="-46.5" width="19" height="17" fill="#2e0a0e"/>
<line x1="0" y1="0" x2="33.9" y2="-33.9" stroke="#2e0a0e" stroke-width="15"/>
<rect x="24.4" y="-42.4" width="19" height="17" fill="#2e0a0e"/>
<line x1="0" y1="0" x2="-45.8" y2="-4.0" stroke="#2e0a0e" stroke-width="15"/>
<rect x="-55.3" y="-12.5" width="19" height="17" fill="#2e0a0e"/>
<line x1="0" y1="0" x2="48.0" y2="0.0" stroke="#2e0a0e" stroke-width="15"/>
<rect x="38.5" y="-8.5" width="19" height="17" fill="#2e0a0e"/>
<line x1="0" y1="0" x2="-36.2" y2="28.3" stroke="#2e0a0e" stroke-width="15"/>
<rect x="-45.7" y="19.8" width="19" height="17" fill="#2e0a0e"/>
<line x1="0" y1="0" x2="32.5" y2="32.5" stroke="#2e0a0e" stroke-width="15"/>
<rect x="23.0" y="24.0" width="19" height="17" fill="#2e0a0e"/>
<line x1="0" y1="0" x2="-3.3" y2="46.9" stroke="#2e0a0e" stroke-width="15"/>
<rect x="-12.8" y="38.4" width="19" height="17" fill="#2e0a0e"/>
<circle cx="0" cy="0" r="39.5" fill="#2e0a0e"/>
<line x1="0" y1="0" x2="4.3" y2="-48.8" stroke="#d8434e" stroke-width="8"/>
<rect x="-2.2" y="-54.3" width="13" height="11" fill="#d8434e"/>
<line x1="0" y1="0" x2="-27.6" y2="-38.0" stroke="#d8434e" stroke-width="8"/>
<rect x="-34.1" y="-43.5" width="13" height="11" fill="#d8434e"/>
<line x1="0" y1="0" x2="33.9" y2="-33.9" stroke="#d8434e" stroke-width="8"/>
<rect x="27.4" y="-39.4" width="13" height="11" fill="#d8434e"/>
<line x1="0" y1="0" x2="-45.8" y2="-4.0" stroke="#d8434e" stroke-width="8"/>
<rect x="-52.3" y="-9.5" width="13" height="11" fill="#d8434e"/>
<line x1="0" y1="0" x2="48.0" y2="0.0" stroke="#d8434e" stroke-width="8"/>
<rect x="41.5" y="-5.5" width="13" height="11" fill="#d8434e"/>
<line x1="0" y1="0" x2="-36.2" y2="28.3" stroke="#bf3252" stroke-width="8"/>
<rect x="-42.7" y="22.8" width="13" height="11" fill="#bf3252"/>
<line x1="0" y1="0" x2="32.5" y2="32.5" stroke="#bf3252" stroke-width="8"/>
<rect x="26.0" y="27.0" width="13" height="11" fill="#bf3252"/>
<line x1="0" y1="0" x2="-3.3" y2="46.9" stroke="#bf3252" stroke-width="8"/>
<rect x="-9.8" y="41.4" width="13" height="11" fill="#bf3252"/>
<circle cx="0" cy="0" r="36" fill="url(#vir)"/>
<rect x="-14" y="-22" width="3" height="3" fill="#a8283a"/>
<rect x="-8" y="-21" width="3" height="3" fill="#a8283a"/>
<rect x="4" y="-22" width="3" height="3" fill="#a8283a"/>
<rect x="20" y="-14" width="3" height="3" fill="#a8283a"/>
<rect x="-24" y="4" width="3" height="3" fill="#a8283a"/>
<rect x="24" y="8" width="3" height="3" fill="#a8283a"/>
<rect x="14" y="24" width="3" height="3" fill="#a8283a"/>
<rect x="-16" y="22" width="3" height="3" fill="#a8283a"/>
<rect x="-2" y="28" width="3" height="3" fill="#a8283a"/>
<rect x="8" y="-28" width="3" height="3" fill="#a8283a"/>
<polygon points="-19,-15 -3,-4 -3,-1 -19,-1" fill="#5a1018"/>
<polygon points="21,-17 6,-4 6,-1 21,-1" fill="#5a1018"/>
<rect x="-16" y="-7" width="4" height="4" fill="#f7d8d0"/><rect x="11" y="-7" width="4" height="4" fill="#f7d8d0"/>
<rect x="-11" y="8" width="23" height="10" fill="#4a0c14"/><rect x="-8.5" y="10.5" width="18" height="5" fill="#f6e4ea"/>
</g>
<g transform="translate(2455.0 212.0) scale(1.000)">
<line x1="0" y1="0" x2="4.3" y2="-48.8" stroke="#2e0a0e" stroke-width="15"/>
<rect x="-5.2" y="-57.3" width="19" height="17" fill="#2e0a0e"/>
<line x1="0" y1="0" x2="-27.6" y2="-38.0" stroke="#2e0a0e" stroke-width="15"/>
<rect x="-37.1" y="-46.5" width="19" height="17" fill="#2e0a0e"/>
<line x1="0" y1="0" x2="33.9" y2="-33.9" stroke="#2e0a0e" stroke-width="15"/>
<rect x="24.4" y="-42.4" width="19" height="17" fill="#2e0a0e"/>
<line x1="0" y1="0" x2="-45.8" y2="-4.0" stroke="#2e0a0e" stroke-width="15"/>
<rect x="-55.3" y="-12.5" width="19" height="17" fill="#2e0a0e"/>
<line x1="0" y1="0" x2="48.0" y2="0.0" stroke="#2e0a0e" stroke-width="15"/>
<rect x="38.5" y="-8.5" width="19" height="17" fill="#2e0a0e"/>
<line x1="0" y1="0" x2="-36.2" y2="28.3" stroke="#2e0a0e" stroke-width="15"/>
<rect x="-45.7" y="19.8" width="19" height="17" fill="#2e0a0e"/>
<line x1="0" y1="0" x2="32.5" y2="32.5" stroke="#2e0a0e" stroke-width="15"/>
<rect x="23.0" y="24.0" width="19" height="17" fill="#2e0a0e"/>
<line x1="0" y1="0" x2="-3.3" y2="46.9" stroke="#2e0a0e" stroke-width="15"/>
<rect x="-12.8" y="38.4" width="19" height="17" fill="#2e0a0e"/>
<circle cx="0" cy="0" r="39.5" fill="#2e0a0e"/>
<line x1="0" y1="0" x2="4.3" y2="-48.8" stroke="#d8434e" stroke-width="8"/>
<rect x="-2.2" y="-54.3" width="13" height="11" fill="#d8434e"/>
<line x1="0" y1="0" x2="-27.6" y2="-38.0" stroke="#d8434e" stroke-width="8"/>
<rect x="-34.1" y="-43.5" width="13" height="11" fill="#d8434e"/>
<line x1="0" y1="0" x2="33.9" y2="-33.9" stroke="#d8434e" stroke-width="8"/>
<rect x="27.4" y="-39.4" width="13" height="11" fill="#d8434e"/>
<line x1="0" y1="0" x2="-45.8" y2="-4.0" stroke="#d8434e" stroke-width="8"/>
<rect x="-52.3" y="-9.5" width="13" height="11" fill="#d8434e"/>
<line x1="0" y1="0" x2="48.0" y2="0.0" stroke="#d8434e" stroke-width="8"/>
<rect x="41.5" y="-5.5" width="13" height="11" fill="#d8434e"/>
<line x1="0" y1="0" x2="-36.2" y2="28.3" stroke="#bf3252" stroke-width="8"/>
<rect x="-42.7" y="22.8" width="13" height="11" fill="#bf3252"/>
<line x1="0" y1="0" x2="32.5" y2="32.5" stroke="#bf3252" stroke-width="8"/>
<rect x="26.0" y="27.0" width="13" height="11" fill="#bf3252"/>
<line x1="0" y1="0" x2="-3.3" y2="46.9" stroke="#bf3252" stroke-width="8"/>
<rect x="-9.8" y="41.4" width="13" height="11" fill="#bf3252"/>
<circle cx="0" cy="0" r="36" fill="url(#vir)"/>
<rect x="-14" y="-22" width="3" height="3" fill="#a8283a"/>
<rect x="-8" y="-21" width="3" height="3" fill="#a8283a"/>
<rect x="4" y="-22" width="3" height="3" fill="#a8283a"/>
<rect x="20" y="-14" width="3" height="3" fill="#a8283a"/>
<rect x="-24" y="4" width="3" height="3" fill="#a8283a"/>
<rect x="24" y="8" width="3" height="3" fill="#a8283a"/>
<rect x="14" y="24" width="3" height="3" fill="#a8283a"/>
<rect x="-16" y="22" width="3" height="3" fill="#a8283a"/>
<rect x="-2" y="28" width="3" height="3" fill="#a8283a"/>
<rect x="8" y="-28" width="3" height="3" fill="#a8283a"/>
<polygon points="-19,-15 -3,-4 -3,-1 -19,-1" fill="#5a1018"/>
<polygon points="21,-17 6,-4 6,-1 21,-1" fill="#5a1018"/>
<rect x="-16" y="-7" width="4" height="4" fill="#f7d8d0"/><rect x="11" y="-7" width="4" height="4" fill="#f7d8d0"/>
<rect x="-11" y="8" width="23" height="10" fill="#4a0c14"/><rect x="-8.5" y="10.5" width="18" height="5" fill="#f6e4ea"/>
</g>
<text x="1612.0" y="208.6" font-size="39.8" font-weight="bold" text-anchor="end" textLength="126.0" lengthAdjust="spacingAndGlyphs" fill="#1c1610" stroke="#1c1610" stroke-width="2.0" stroke-linejoin="round" >Antigen</text>
<text x="1612.0" y="247.0" font-size="39.8" font-weight="bold" text-anchor="end" textLength="82.0" lengthAdjust="spacingAndGlyphs" fill="#1c1610" stroke="#1c1610" stroke-width="2.0" stroke-linejoin="round" >Input</text>
<text x="2523.5" y="208.0" font-size="39.8" font-weight="bold" text-anchor="start" textLength="126.0" lengthAdjust="spacingAndGlyphs" fill="#1c1610" stroke="#1c1610" stroke-width="2.0" stroke-linejoin="round" >Antigen</text>
<text x="2523.5" y="247.0" font-size="39.8" font-weight="bold" text-anchor="start" textLength="83.0" lengthAdjust="spacingAndGlyphs" fill="#1c1610" stroke="#1c1610" stroke-width="2.0" stroke-linejoin="round" >Input</text>
<polyline points="1516.0,532.0 1465.0,532.0 1465.0,833.0" fill="none" stroke="#2a0d0a" stroke-width="15" stroke-linejoin="miter"/>
<polyline points="1516.0,532.0 1465.0,532.0 1465.0,833.0" fill="none" stroke="#e0383a" stroke-width="9" stroke-linejoin="miter"/>
<polygon points="1444.0,831.0 1486.0,831.0 1465.0,862.0" fill="#2a0d0a" />
<polygon points="1451.0,835.0 1479.0,835.0 1465.0,855.0" fill="#e0383a" />
<polygon points="1518.0,338.0 1842.0,338.0 1846.0,342.0 1846.0,723.0 1842.0,727.0 1518.0,727.0 1514.0,723.0 1514.0,342.0" fill="#2a1410" />
<rect x="1517.0" y="341.0" width="326.0" height="383.0" fill="#a9574a" />
<rect x="1517.0" y="718.0" width="326.0" height="6.0" fill="#7c3a30" />
<rect x="1527.0" y="351.0" width="306.0" height="363.0" fill="#7c3a30" />
<rect x="1529.0" y="353.0" width="302.0" height="359.0" fill="#3e5c3c" />
<circle cx="1541.0" cy="365.0" r="5" fill="#5a5a40" stroke="#4a2a20" stroke-width="2"/>
<circle cx="1819.0" cy="365.0" r="5" fill="#5a5a40" stroke="#4a2a20" stroke-width="2"/>
<circle cx="1541.0" cy="700.0" r="5" fill="#5a5a40" stroke="#4a2a20" stroke-width="2"/>
<circle cx="1819.0" cy="700.0" r="5" fill="#5a5a40" stroke="#4a2a20" stroke-width="2"/>
<polyline points="1582.5,376.0 1582.5,417.8 1636.5,430.0 1636.5,461.0" fill="none" stroke="#4a2a20" stroke-width="7.5" stroke-linejoin="round" stroke-linecap="round"/>
<polyline points="1582.5,376.0 1582.5,417.8 1636.5,430.0 1636.5,461.0" fill="none" stroke="#c9604c" stroke-width="4.0" stroke-linejoin="round" stroke-linecap="round"/>
<polyline points="1614.5,376.0 1614.5,414.6 1647.5,430.0 1647.5,461.0" fill="none" stroke="#4a2a20" stroke-width="7.5" stroke-linejoin="round" stroke-linecap="round"/>
<polyline points="1614.5,376.0 1614.5,414.6 1647.5,430.0 1647.5,461.0" fill="none" stroke="#c9604c" stroke-width="4.0" stroke-linejoin="round" stroke-linecap="round"/>
<polyline points="1646.5,376.0 1646.5,411.4 1658.5,430.0 1658.5,461.0" fill="none" stroke="#4a2a20" stroke-width="7.5" stroke-linejoin="round" stroke-linecap="round"/>
<polyline points="1646.5,376.0 1646.5,411.4 1658.5,430.0 1658.5,461.0" fill="none" stroke="#c9604c" stroke-width="4.0" stroke-linejoin="round" stroke-linecap="round"/>
<polyline points="1710.5,376.0 1710.5,411.0 1702.5,430.0 1702.5,461.0" fill="none" stroke="#4a2a20" stroke-width="7.5" stroke-linejoin="round" stroke-linecap="round"/>
<polyline points="1710.5,376.0 1710.5,411.0 1702.5,430.0 1702.5,461.0" fill="none" stroke="#c9604c" stroke-width="4.0" stroke-linejoin="round" stroke-linecap="round"/>
<polyline points="1742.5,376.0 1742.5,414.2 1713.5,430.0 1713.5,461.0" fill="none" stroke="#4a2a20" stroke-width="7.5" stroke-linejoin="round" stroke-linecap="round"/>
<polyline points="1742.5,376.0 1742.5,414.2 1713.5,430.0 1713.5,461.0" fill="none" stroke="#c9604c" stroke-width="4.0" stroke-linejoin="round" stroke-linecap="round"/>
<polyline points="1775.5,376.0 1775.5,417.5 1724.5,430.0 1724.5,461.0" fill="none" stroke="#4a2a20" stroke-width="7.5" stroke-linejoin="round" stroke-linecap="round"/>
<polyline points="1775.5,376.0 1775.5,417.5 1724.5,430.0 1724.5,461.0" fill="none" stroke="#c9604c" stroke-width="4.0" stroke-linejoin="round" stroke-linecap="round"/>
<polyline points="1680.5,378.0 1680.5,461.0" fill="none" stroke="#4a2a20" stroke-width="7.5" stroke-linejoin="round" stroke-linecap="round"/>
<polyline points="1680.5,378.0 1680.5,461.0" fill="none" stroke="#c9604c" stroke-width="4.0" stroke-linejoin="round" stroke-linecap="round"/>
<circle cx="1582.5" cy="372.0" r="7.0" fill="#c9604c" stroke="#4a2a20" stroke-width="2.5"/>
<circle cx="1582.5" cy="372.0" r="3.1" fill="#4a2a20"/>
<circle cx="1614.5" cy="372.0" r="7.0" fill="#c9604c" stroke="#4a2a20" stroke-width="2.5"/>
<circle cx="1614.5" cy="372.0" r="3.1" fill="#4a2a20"/>
<circle cx="1646.5" cy="372.0" r="7.0" fill="#c9604c" stroke="#4a2a20" stroke-width="2.5"/>
<circle cx="1646.5" cy="372.0" r="3.1" fill="#4a2a20"/>
<circle cx="1710.5" cy="372.0" r="7.0" fill="#c9604c" stroke="#4a2a20" stroke-width="2.5"/>
<circle cx="1710.5" cy="372.0" r="3.1" fill="#4a2a20"/>
<circle cx="1742.5" cy="372.0" r="7.0" fill="#c9604c" stroke="#4a2a20" stroke-width="2.5"/>
<circle cx="1742.5" cy="372.0" r="3.1" fill="#4a2a20"/>
<circle cx="1775.5" cy="372.0" r="7.0" fill="#c9604c" stroke="#4a2a20" stroke-width="2.5"/>
<circle cx="1775.5" cy="372.0" r="3.1" fill="#4a2a20"/>
<polyline points="1550.0,440.0 1564.0,440.0 1586.0,488.5 1605.0,488.5" fill="none" stroke="#4a2a20" stroke-width="7.5" stroke-linejoin="round" stroke-linecap="round"/>
<polyline points="1550.0,440.0 1564.0,440.0 1586.0,488.5 1605.0,488.5" fill="none" stroke="#c9604c" stroke-width="4.0" stroke-linejoin="round" stroke-linecap="round"/>
<polyline points="1810.0,440.0 1796.0,440.0 1775.0,488.5 1756.0,488.5" fill="none" stroke="#4a2a20" stroke-width="7.5" stroke-linejoin="round" stroke-linecap="round"/>
<polyline points="1810.0,440.0 1796.0,440.0 1775.0,488.5 1756.0,488.5" fill="none" stroke="#c9604c" stroke-width="4.0" stroke-linejoin="round" stroke-linecap="round"/>
<circle cx="1550.0" cy="440.0" r="7.0" fill="#c9604c" stroke="#4a2a20" stroke-width="2.5"/>
<circle cx="1550.0" cy="440.0" r="3.1" fill="#4a2a20"/>
<circle cx="1810.0" cy="440.0" r="7.0" fill="#c9604c" stroke="#4a2a20" stroke-width="2.5"/>
<circle cx="1810.0" cy="440.0" r="3.1" fill="#4a2a20"/>
<polyline points="1550.0,473.0 1564.0,473.0 1586.0,500.5 1605.0,500.5" fill="none" stroke="#4a2a20" stroke-width="7.5" stroke-linejoin="round" stroke-linecap="round"/>
<polyline points="1550.0,473.0 1564.0,473.0 1586.0,500.5 1605.0,500.5" fill="none" stroke="#c9604c" stroke-width="4.0" stroke-linejoin="round" stroke-linecap="round"/>
<polyline points="1810.0,473.0 1796.0,473.0 1775.0,500.5 1756.0,500.5" fill="none" stroke="#4a2a20" stroke-width="7.5" stroke-linejoin="round" stroke-linecap="round"/>
<polyline points="1810.0,473.0 1796.0,473.0 1775.0,500.5 1756.0,500.5" fill="none" stroke="#c9604c" stroke-width="4.0" stroke-linejoin="round" stroke-linecap="round"/>
<circle cx="1550.0" cy="473.0" r="7.0" fill="#c9604c" stroke="#4a2a20" stroke-width="2.5"/>
<circle cx="1550.0" cy="473.0" r="3.1" fill="#4a2a20"/>
<circle cx="1810.0" cy="473.0" r="7.0" fill="#c9604c" stroke="#4a2a20" stroke-width="2.5"/>
<circle cx="1810.0" cy="473.0" r="3.1" fill="#4a2a20"/>
<polyline points="1550.0,503.0 1564.0,503.0 1586.0,517.5 1605.0,517.5" fill="none" stroke="#4a2a20" stroke-width="7.5" stroke-linejoin="round" stroke-linecap="round"/>
<polyline points="1550.0,503.0 1564.0,503.0 1586.0,517.5 1605.0,517.5" fill="none" stroke="#c9604c" stroke-width="4.0" stroke-linejoin="round" stroke-linecap="round"/>
<polyline points="1810.0,503.0 1796.0,503.0 1775.0,517.5 1756.0,517.5" fill="none" stroke="#4a2a20" stroke-width="7.5" stroke-linejoin="round" stroke-linecap="round"/>
<polyline points="1810.0,503.0 1796.0,503.0 1775.0,517.5 1756.0,517.5" fill="none" stroke="#c9604c" stroke-width="4.0" stroke-linejoin="round" stroke-linecap="round"/>
<circle cx="1550.0" cy="503.0" r="7.0" fill="#c9604c" stroke="#4a2a20" stroke-width="2.5"/>
<circle cx="1550.0" cy="503.0" r="3.1" fill="#4a2a20"/>
<circle cx="1810.0" cy="503.0" r="7.0" fill="#c9604c" stroke="#4a2a20" stroke-width="2.5"/>
<circle cx="1810.0" cy="503.0" r="3.1" fill="#4a2a20"/>
<polyline points="1550.0,532.0 1564.0,532.0 1586.0,533.5 1605.0,533.5" fill="none" stroke="#4a2a20" stroke-width="7.5" stroke-linejoin="round" stroke-linecap="round"/>
<polyline points="1550.0,532.0 1564.0,532.0 1586.0,533.5 1605.0,533.5" fill="none" stroke="#c9604c" stroke-width="4.0" stroke-linejoin="round" stroke-linecap="round"/>
<polyline points="1810.0,532.0 1796.0,532.0 1775.0,533.5 1756.0,533.5" fill="none" stroke="#4a2a20" stroke-width="7.5" stroke-linejoin="round" stroke-linecap="round"/>
<polyline points="1810.0,532.0 1796.0,532.0 1775.0,533.5 1756.0,533.5" fill="none" stroke="#c9604c" stroke-width="4.0" stroke-linejoin="round" stroke-linecap="round"/>
<circle cx="1550.0" cy="532.0" r="7.0" fill="#c9604c" stroke="#4a2a20" stroke-width="2.5"/>
<circle cx="1550.0" cy="532.0" r="3.1" fill="#4a2a20"/>
<circle cx="1810.0" cy="532.0" r="7.0" fill="#c9604c" stroke="#4a2a20" stroke-width="2.5"/>
<circle cx="1810.0" cy="532.0" r="3.1" fill="#4a2a20"/>
<polyline points="1550.0,561.0 1564.0,561.0 1586.0,549.5 1605.0,549.5" fill="none" stroke="#4a2a20" stroke-width="7.5" stroke-linejoin="round" stroke-linecap="round"/>
<polyline points="1550.0,561.0 1564.0,561.0 1586.0,549.5 1605.0,549.5" fill="none" stroke="#c9604c" stroke-width="4.0" stroke-linejoin="round" stroke-linecap="round"/>
<polyline points="1810.0,561.0 1796.0,561.0 1775.0,549.5 1756.0,549.5" fill="none" stroke="#4a2a20" stroke-width="7.5" stroke-linejoin="round" stroke-linecap="round"/>
<polyline points="1810.0,561.0 1796.0,561.0 1775.0,549.5 1756.0,549.5" fill="none" stroke="#c9604c" stroke-width="4.0" stroke-linejoin="round" stroke-linecap="round"/>
<circle cx="1550.0" cy="561.0" r="7.0" fill="#c9604c" stroke="#4a2a20" stroke-width="2.5"/>
<circle cx="1550.0" cy="561.0" r="3.1" fill="#4a2a20"/>
<circle cx="1810.0" cy="561.0" r="7.0" fill="#c9604c" stroke="#4a2a20" stroke-width="2.5"/>
<circle cx="1810.0" cy="561.0" r="3.1" fill="#4a2a20"/>
<polyline points="1550.0,592.0 1564.0,592.0 1586.0,566.5 1605.0,566.5" fill="none" stroke="#4a2a20" stroke-width="7.5" stroke-linejoin="round" stroke-linecap="round"/>
<polyline points="1550.0,592.0 1564.0,592.0 1586.0,566.5 1605.0,566.5" fill="none" stroke="#c9604c" stroke-width="4.0" stroke-linejoin="round" stroke-linecap="round"/>
<polyline points="1810.0,592.0 1796.0,592.0 1775.0,566.5 1756.0,566.5" fill="none" stroke="#4a2a20" stroke-width="7.5" stroke-linejoin="round" stroke-linecap="round"/>
<polyline points="1810.0,592.0 1796.0,592.0 1775.0,566.5 1756.0,566.5" fill="none" stroke="#c9604c" stroke-width="4.0" stroke-linejoin="round" stroke-linecap="round"/>
<circle cx="1550.0" cy="592.0" r="7.0" fill="#c9604c" stroke="#4a2a20" stroke-width="2.5"/>
<circle cx="1550.0" cy="592.0" r="3.1" fill="#4a2a20"/>
<circle cx="1810.0" cy="592.0" r="7.0" fill="#c9604c" stroke="#4a2a20" stroke-width="2.5"/>
<circle cx="1810.0" cy="592.0" r="3.1" fill="#4a2a20"/>
<polyline points="1550.0,625.0 1564.0,625.0 1586.0,578.5 1605.0,578.5" fill="none" stroke="#4a2a20" stroke-width="7.5" stroke-linejoin="round" stroke-linecap="round"/>
<polyline points="1550.0,625.0 1564.0,625.0 1586.0,578.5 1605.0,578.5" fill="none" stroke="#c9604c" stroke-width="4.0" stroke-linejoin="round" stroke-linecap="round"/>
<polyline points="1810.0,625.0 1796.0,625.0 1775.0,578.5 1756.0,578.5" fill="none" stroke="#4a2a20" stroke-width="7.5" stroke-linejoin="round" stroke-linecap="round"/>
<polyline points="1810.0,625.0 1796.0,625.0 1775.0,578.5 1756.0,578.5" fill="none" stroke="#c9604c" stroke-width="4.0" stroke-linejoin="round" stroke-linecap="round"/>
<circle cx="1550.0" cy="625.0" r="7.0" fill="#c9604c" stroke="#4a2a20" stroke-width="2.5"/>
<circle cx="1550.0" cy="625.0" r="3.1" fill="#4a2a20"/>
<circle cx="1810.0" cy="625.0" r="7.0" fill="#c9604c" stroke="#4a2a20" stroke-width="2.5"/>
<circle cx="1810.0" cy="625.0" r="3.1" fill="#4a2a20"/>
<rect x="1631.5" y="460.0" width="9.0" height="10.0" fill="#16241a" />
<rect x="1632.5" y="461.0" width="7.0" height="8.0" fill="#e07a68" />
<rect x="1631.5" y="597.0" width="9.0" height="10.0" fill="#16241a" />
<rect x="1632.5" y="598.0" width="7.0" height="8.0" fill="#e07a68" />
<rect x="1642.6" y="460.0" width="9.0" height="10.0" fill="#16241a" />
<rect x="1643.6" y="461.0" width="7.0" height="8.0" fill="#e07a68" />
<rect x="1642.6" y="597.0" width="9.0" height="10.0" fill="#16241a" />
<rect x="1643.6" y="598.0" width="7.0" height="8.0" fill="#e07a68" />
<rect x="1653.8" y="460.0" width="9.0" height="10.0" fill="#16241a" />
<rect x="1654.8" y="461.0" width="7.0" height="8.0" fill="#e07a68" />
<rect x="1653.8" y="597.0" width="9.0" height="10.0" fill="#16241a" />
<rect x="1654.8" y="598.0" width="7.0" height="8.0" fill="#e07a68" />
<rect x="1664.9" y="460.0" width="9.0" height="10.0" fill="#16241a" />
<rect x="1665.9" y="461.0" width="7.0" height="8.0" fill="#e07a68" />
<rect x="1664.9" y="597.0" width="9.0" height="10.0" fill="#16241a" />
<rect x="1665.9" y="598.0" width="7.0" height="8.0" fill="#e07a68" />
<rect x="1676.0" y="460.0" width="9.0" height="10.0" fill="#16241a" />
<rect x="1677.0" y="461.0" width="7.0" height="8.0" fill="#e07a68" />
<rect x="1676.0" y="597.0" width="9.0" height="10.0" fill="#16241a" />
<rect x="1677.0" y="598.0" width="7.0" height="8.0" fill="#e07a68" />
<rect x="1687.1" y="460.0" width="9.0" height="10.0" fill="#16241a" />
<rect x="1688.1" y="461.0" width="7.0" height="8.0" fill="#e07a68" />
<rect x="1687.1" y="597.0" width="9.0" height="10.0" fill="#16241a" />
<rect x="1688.1" y="598.0" width="7.0" height="8.0" fill="#e07a68" />
<rect x="1698.2" y="460.0" width="9.0" height="10.0" fill="#16241a" />
<rect x="1699.2" y="461.0" width="7.0" height="8.0" fill="#e07a68" />
<rect x="1698.2" y="597.0" width="9.0" height="10.0" fill="#16241a" />
<rect x="1699.2" y="598.0" width="7.0" height="8.0" fill="#e07a68" />
<rect x="1709.4" y="460.0" width="9.0" height="10.0" fill="#16241a" />
<rect x="1710.4" y="461.0" width="7.0" height="8.0" fill="#e07a68" />
<rect x="1709.4" y="597.0" width="9.0" height="10.0" fill="#16241a" />
<rect x="1710.4" y="598.0" width="7.0" height="8.0" fill="#e07a68" />
<rect x="1720.5" y="460.0" width="9.0" height="10.0" fill="#16241a" />
<rect x="1721.5" y="461.0" width="7.0" height="8.0" fill="#e07a68" />
<rect x="1720.5" y="597.0" width="9.0" height="10.0" fill="#16241a" />
<rect x="1721.5" y="598.0" width="7.0" height="8.0" fill="#e07a68" />
<rect x="1604.0" y="485.5" width="10.0" height="9.0" fill="#16241a" />
<rect x="1605.0" y="486.5" width="8.0" height="7.0" fill="#e07a68" />
<rect x="1747.0" y="485.5" width="10.0" height="9.0" fill="#16241a" />
<rect x="1748.0" y="486.5" width="8.0" height="7.0" fill="#e07a68" />
<rect x="1604.0" y="496.4" width="10.0" height="9.0" fill="#16241a" />
<rect x="1605.0" y="497.4" width="8.0" height="7.0" fill="#e07a68" />
<rect x="1747.0" y="496.4" width="10.0" height="9.0" fill="#16241a" />
<rect x="1748.0" y="497.4" width="8.0" height="7.0" fill="#e07a68" />
<rect x="1604.0" y="507.2" width="10.0" height="9.0" fill="#16241a" />
<rect x="1605.0" y="508.2" width="8.0" height="7.0" fill="#e07a68" />
<rect x="1747.0" y="507.2" width="10.0" height="9.0" fill="#16241a" />
<rect x="1748.0" y="508.2" width="8.0" height="7.0" fill="#e07a68" />
<rect x="1604.0" y="518.1" width="10.0" height="9.0" fill="#16241a" />
<rect x="1605.0" y="519.1" width="8.0" height="7.0" fill="#e07a68" />
<rect x="1747.0" y="518.1" width="10.0" height="9.0" fill="#16241a" />
<rect x="1748.0" y="519.1" width="8.0" height="7.0" fill="#e07a68" />
<rect x="1604.0" y="529.0" width="10.0" height="9.0" fill="#16241a" />
<rect x="1605.0" y="530.0" width="8.0" height="7.0" fill="#e07a68" />
<rect x="1747.0" y="529.0" width="10.0" height="9.0" fill="#16241a" />
<rect x="1748.0" y="530.0" width="8.0" height="7.0" fill="#e07a68" />
<rect x="1604.0" y="539.9" width="10.0" height="9.0" fill="#16241a" />
<rect x="1605.0" y="540.9" width="8.0" height="7.0" fill="#e07a68" />
<rect x="1747.0" y="539.9" width="10.0" height="9.0" fill="#16241a" />
<rect x="1748.0" y="540.9" width="8.0" height="7.0" fill="#e07a68" />
<rect x="1604.0" y="550.8" width="10.0" height="9.0" fill="#16241a" />
<rect x="1605.0" y="551.8" width="8.0" height="7.0" fill="#e07a68" />
<rect x="1747.0" y="550.8" width="10.0" height="9.0" fill="#16241a" />
<rect x="1748.0" y="551.8" width="8.0" height="7.0" fill="#e07a68" />
<rect x="1604.0" y="561.6" width="10.0" height="9.0" fill="#16241a" />
<rect x="1605.0" y="562.6" width="8.0" height="7.0" fill="#e07a68" />
<rect x="1747.0" y="561.6" width="10.0" height="9.0" fill="#16241a" />
<rect x="1748.0" y="562.6" width="8.0" height="7.0" fill="#e07a68" />
<rect x="1604.0" y="572.5" width="10.0" height="9.0" fill="#16241a" />
<rect x="1605.0" y="573.5" width="8.0" height="7.0" fill="#e07a68" />
<rect x="1747.0" y="572.5" width="10.0" height="9.0" fill="#16241a" />
<rect x="1748.0" y="573.5" width="8.0" height="7.0" fill="#e07a68" />
<polygon points="1618.0,470.0 1743.0,470.0 1747.0,474.0 1747.0,593.0 1743.0,597.0 1618.0,597.0 1614.0,593.0 1614.0,474.0" fill="#141c16" />
<rect x="1618.0" y="474.0" width="125.0" height="119.0" fill="#5e4038" />
<rect x="1618.0" y="583.0" width="125.0" height="10.0" fill="#4a302a" />
<rect x="1629.3" y="485.3" width="102.4" height="96.4" fill="#2a3a30" />
<rect x="1631.3" y="487.3" width="98.4" height="92.4" fill="#5db86a" />
<rect x="1631.3" y="487.3" width="98.4" height="5.0" fill="#78cf7f" />
<path d="M1645.6 518.5h13.8v4.4h-13.8zM1641.0 522.9h4.6v4.4h-4.6zM1659.4 522.9h4.6v4.4h-4.6zM1641.0 527.3h4.6v4.4h-4.6zM1641.0 531.7h4.6v4.4h-4.6zM1641.0 536.1h4.6v4.4h-4.6zM1641.0 540.5h4.6v4.4h-4.6zM1659.4 540.5h4.6v4.4h-4.6zM1645.6 544.9h13.8v4.4h-13.8zM1668.5 518.5h18.4v4.4h-18.4zM1668.5 522.9h4.6v4.4h-4.6zM1686.9 522.9h4.6v4.4h-4.6zM1668.5 527.3h4.6v4.4h-4.6zM1686.9 527.3h4.6v4.4h-4.6zM1668.5 531.7h18.4v4.4h-18.4zM1668.5 536.1h4.6v4.4h-4.6zM1668.5 540.5h4.6v4.4h-4.6zM1668.5 544.9h4.6v4.4h-4.6zM1696.0 518.5h4.6v4.4h-4.6zM1714.4 518.5h4.6v4.4h-4.6zM1696.0 522.9h4.6v4.4h-4.6zM1714.4 522.9h4.6v4.4h-4.6zM1696.0 527.3h4.6v4.4h-4.6zM1714.4 527.3h4.6v4.4h-4.6zM1696.0 531.7h4.6v4.4h-4.6zM1714.4 531.7h4.6v4.4h-4.6zM1696.0 536.1h4.6v4.4h-4.6zM1714.4 536.1h4.6v4.4h-4.6zM1696.0 540.5h4.6v4.4h-4.6zM1714.4 540.5h4.6v4.4h-4.6zM1700.6 544.9h13.8v4.4h-13.8z" fill="#14261a" stroke="#14261a" stroke-width="2.5" stroke-linejoin="miter" paint-order="stroke"/>
<polygon points="1906.0,338.0 2230.0,338.0 2234.0,342.0 2234.0,722.0 2230.0,726.0 1906.0,726.0 1902.0,722.0 1902.0,342.0" fill="#10261a" />
<rect x="1905.0" y="341.0" width="326.0" height="382.0" fill="#55c266" />
<rect x="1905.0" y="717.0" width="326.0" height="6.0" fill="#2b8646" />
<rect x="1915.0" y="351.0" width="306.0" height="362.0" fill="#2b8646" />
<rect x="1917.0" y="353.0" width="302.0" height="358.0" fill="#1f6e4a" />
<circle cx="1929.0" cy="365.0" r="5" fill="#2c7a4c" stroke="#16492e" stroke-width="2"/>
<circle cx="2207.0" cy="365.0" r="5" fill="#2c7a4c" stroke="#16492e" stroke-width="2"/>
<circle cx="1929.0" cy="699.0" r="5" fill="#2c7a4c" stroke="#16492e" stroke-width="2"/>
<circle cx="2207.0" cy="699.0" r="5" fill="#2c7a4c" stroke="#16492e" stroke-width="2"/>
<polyline points="1968.5,376.0 1968.5,417.8 2022.5,425.0 2022.5,456.0" fill="none" stroke="#16492e" stroke-width="7.5" stroke-linejoin="round" stroke-linecap="round"/>
<polyline points="1968.5,376.0 1968.5,417.8 2022.5,425.0 2022.5,456.0" fill="none" stroke="#58de62" stroke-width="4.0" stroke-linejoin="round" stroke-linecap="round"/>
<polyline points="2000.5,376.0 2000.5,414.6 2033.5,425.0 2033.5,456.0" fill="none" stroke="#16492e" stroke-width="7.5" stroke-linejoin="round" stroke-linecap="round"/>
<polyline points="2000.5,376.0 2000.5,414.6 2033.5,425.0 2033.5,456.0" fill="none" stroke="#58de62" stroke-width="4.0" stroke-linejoin="round" stroke-linecap="round"/>
<polyline points="2032.5,376.0 2032.5,411.4 2044.5,425.0 2044.5,456.0" fill="none" stroke="#16492e" stroke-width="7.5" stroke-linejoin="round" stroke-linecap="round"/>
<polyline points="2032.5,376.0 2032.5,411.4 2044.5,425.0 2044.5,456.0" fill="none" stroke="#58de62" stroke-width="4.0" stroke-linejoin="round" stroke-linecap="round"/>
<polyline points="2096.5,376.0 2096.5,411.0 2088.5,425.0 2088.5,456.0" fill="none" stroke="#16492e" stroke-width="7.5" stroke-linejoin="round" stroke-linecap="round"/>
<polyline points="2096.5,376.0 2096.5,411.0 2088.5,425.0 2088.5,456.0" fill="none" stroke="#58de62" stroke-width="4.0" stroke-linejoin="round" stroke-linecap="round"/>
<polyline points="2128.5,376.0 2128.5,414.2 2099.5,425.0 2099.5,456.0" fill="none" stroke="#16492e" stroke-width="7.5" stroke-linejoin="round" stroke-linecap="round"/>
<polyline points="2128.5,376.0 2128.5,414.2 2099.5,425.0 2099.5,456.0" fill="none" stroke="#58de62" stroke-width="4.0" stroke-linejoin="round" stroke-linecap="round"/>
<polyline points="2161.5,376.0 2161.5,417.5 2110.5,425.0 2110.5,456.0" fill="none" stroke="#16492e" stroke-width="7.5" stroke-linejoin="round" stroke-linecap="round"/>
<polyline points="2161.5,376.0 2161.5,417.5 2110.5,425.0 2110.5,456.0" fill="none" stroke="#58de62" stroke-width="4.0" stroke-linejoin="round" stroke-linecap="round"/>
<polyline points="2066.5,378.0 2066.5,456.0" fill="none" stroke="#16492e" stroke-width="7.5" stroke-linejoin="round" stroke-linecap="round"/>
<polyline points="2066.5,378.0 2066.5,456.0" fill="none" stroke="#58de62" stroke-width="4.0" stroke-linejoin="round" stroke-linecap="round"/>
<circle cx="1968.5" cy="372.0" r="7.0" fill="#58de62" stroke="#16492e" stroke-width="2.5"/>
<circle cx="1968.5" cy="372.0" r="3.1" fill="#16492e"/>
<circle cx="2000.5" cy="372.0" r="7.0" fill="#58de62" stroke="#16492e" stroke-width="2.5"/>
<circle cx="2000.5" cy="372.0" r="3.1" fill="#16492e"/>
<circle cx="2032.5" cy="372.0" r="7.0" fill="#58de62" stroke="#16492e" stroke-width="2.5"/>
<circle cx="2032.5" cy="372.0" r="3.1" fill="#16492e"/>
<circle cx="2096.5" cy="372.0" r="7.0" fill="#58de62" stroke="#16492e" stroke-width="2.5"/>
<circle cx="2096.5" cy="372.0" r="3.1" fill="#16492e"/>
<circle cx="2128.5" cy="372.0" r="7.0" fill="#58de62" stroke="#16492e" stroke-width="2.5"/>
<circle cx="2128.5" cy="372.0" r="3.1" fill="#16492e"/>
<circle cx="2161.5" cy="372.0" r="7.0" fill="#58de62" stroke="#16492e" stroke-width="2.5"/>
<circle cx="2161.5" cy="372.0" r="3.1" fill="#16492e"/>
<polyline points="1938.0,440.0 1952.0,440.0 1970.0,487.5 1989.0,487.5" fill="none" stroke="#16492e" stroke-width="7.5" stroke-linejoin="round" stroke-linecap="round"/>
<polyline points="1938.0,440.0 1952.0,440.0 1970.0,487.5 1989.0,487.5" fill="none" stroke="#58de62" stroke-width="4.0" stroke-linejoin="round" stroke-linecap="round"/>
<polyline points="2198.0,440.0 2184.0,440.0 2163.0,487.5 2144.0,487.5" fill="none" stroke="#16492e" stroke-width="7.5" stroke-linejoin="round" stroke-linecap="round"/>
<polyline points="2198.0,440.0 2184.0,440.0 2163.0,487.5 2144.0,487.5" fill="none" stroke="#58de62" stroke-width="4.0" stroke-linejoin="round" stroke-linecap="round"/>
<circle cx="1938.0" cy="440.0" r="7.0" fill="#58de62" stroke="#16492e" stroke-width="2.5"/>
<circle cx="1938.0" cy="440.0" r="3.1" fill="#16492e"/>
<circle cx="2198.0" cy="440.0" r="7.0" fill="#58de62" stroke="#16492e" stroke-width="2.5"/>
<circle cx="2198.0" cy="440.0" r="3.1" fill="#16492e"/>
<polyline points="1938.0,473.0 1952.0,473.0 1970.0,499.5 1989.0,499.5" fill="none" stroke="#16492e" stroke-width="7.5" stroke-linejoin="round" stroke-linecap="round"/>
<polyline points="1938.0,473.0 1952.0,473.0 1970.0,499.5 1989.0,499.5" fill="none" stroke="#58de62" stroke-width="4.0" stroke-linejoin="round" stroke-linecap="round"/>
<polyline points="2198.0,473.0 2184.0,473.0 2163.0,499.5 2144.0,499.5" fill="none" stroke="#16492e" stroke-width="7.5" stroke-linejoin="round" stroke-linecap="round"/>
<polyline points="2198.0,473.0 2184.0,473.0 2163.0,499.5 2144.0,499.5" fill="none" stroke="#58de62" stroke-width="4.0" stroke-linejoin="round" stroke-linecap="round"/>
<circle cx="1938.0" cy="473.0" r="7.0" fill="#58de62" stroke="#16492e" stroke-width="2.5"/>
<circle cx="1938.0" cy="473.0" r="3.1" fill="#16492e"/>
<circle cx="2198.0" cy="473.0" r="7.0" fill="#58de62" stroke="#16492e" stroke-width="2.5"/>
<circle cx="2198.0" cy="473.0" r="3.1" fill="#16492e"/>
<polyline points="1938.0,503.0 1952.0,503.0 1970.0,516.5 1989.0,516.5" fill="none" stroke="#16492e" stroke-width="7.5" stroke-linejoin="round" stroke-linecap="round"/>
<polyline points="1938.0,503.0 1952.0,503.0 1970.0,516.5 1989.0,516.5" fill="none" stroke="#58de62" stroke-width="4.0" stroke-linejoin="round" stroke-linecap="round"/>
<polyline points="2198.0,503.0 2184.0,503.0 2163.0,516.5 2144.0,516.5" fill="none" stroke="#16492e" stroke-width="7.5" stroke-linejoin="round" stroke-linecap="round"/>
<polyline points="2198.0,503.0 2184.0,503.0 2163.0,516.5 2144.0,516.5" fill="none" stroke="#58de62" stroke-width="4.0" stroke-linejoin="round" stroke-linecap="round"/>
<circle cx="1938.0" cy="503.0" r="7.0" fill="#58de62" stroke="#16492e" stroke-width="2.5"/>
<circle cx="1938.0" cy="503.0" r="3.1" fill="#16492e"/>
<circle cx="2198.0" cy="503.0" r="7.0" fill="#58de62" stroke="#16492e" stroke-width="2.5"/>
<circle cx="2198.0" cy="503.0" r="3.1" fill="#16492e"/>
<polyline points="1938.0,532.0 1952.0,532.0 1970.0,532.5 1989.0,532.5" fill="none" stroke="#16492e" stroke-width="7.5" stroke-linejoin="round" stroke-linecap="round"/>
<polyline points="1938.0,532.0 1952.0,532.0 1970.0,532.5 1989.0,532.5" fill="none" stroke="#58de62" stroke-width="4.0" stroke-linejoin="round" stroke-linecap="round"/>
<polyline points="2198.0,532.0 2184.0,532.0 2163.0,532.5 2144.0,532.5" fill="none" stroke="#16492e" stroke-width="7.5" stroke-linejoin="round" stroke-linecap="round"/>
<polyline points="2198.0,532.0 2184.0,532.0 2163.0,532.5 2144.0,532.5" fill="none" stroke="#58de62" stroke-width="4.0" stroke-linejoin="round" stroke-linecap="round"/>
<circle cx="1938.0" cy="532.0" r="7.0" fill="#58de62" stroke="#16492e" stroke-width="2.5"/>
<circle cx="1938.0" cy="532.0" r="3.1" fill="#16492e"/>
<circle cx="2198.0" cy="532.0" r="7.0" fill="#58de62" stroke="#16492e" stroke-width="2.5"/>
<circle cx="2198.0" cy="532.0" r="3.1" fill="#16492e"/>
<polyline points="1938.0,561.0 1952.0,561.0 1970.0,548.5 1989.0,548.5" fill="none" stroke="#16492e" stroke-width="7.5" stroke-linejoin="round" stroke-linecap="round"/>
<polyline points="1938.0,561.0 1952.0,561.0 1970.0,548.5 1989.0,548.5" fill="none" stroke="#58de62" stroke-width="4.0" stroke-linejoin="round" stroke-linecap="round"/>
<polyline points="2198.0,561.0 2184.0,561.0 2163.0,548.5 2144.0,548.5" fill="none" stroke="#16492e" stroke-width="7.5" stroke-linejoin="round" stroke-linecap="round"/>
<polyline points="2198.0,561.0 2184.0,561.0 2163.0,548.5 2144.0,548.5" fill="none" stroke="#58de62" stroke-width="4.0" stroke-linejoin="round" stroke-linecap="round"/>
<circle cx="1938.0" cy="561.0" r="7.0" fill="#58de62" stroke="#16492e" stroke-width="2.5"/>
<circle cx="1938.0" cy="561.0" r="3.1" fill="#16492e"/>
<circle cx="2198.0" cy="561.0" r="7.0" fill="#58de62" stroke="#16492e" stroke-width="2.5"/>
<circle cx="2198.0" cy="561.0" r="3.1" fill="#16492e"/>
<polyline points="1938.0,592.0 1952.0,592.0 1970.0,565.5 1989.0,565.5" fill="none" stroke="#16492e" stroke-width="7.5" stroke-linejoin="round" stroke-linecap="round"/>
<polyline points="1938.0,592.0 1952.0,592.0 1970.0,565.5 1989.0,565.5" fill="none" stroke="#58de62" stroke-width="4.0" stroke-linejoin="round" stroke-linecap="round"/>
<polyline points="2198.0,592.0 2184.0,592.0 2163.0,565.5 2144.0,565.5" fill="none" stroke="#16492e" stroke-width="7.5" stroke-linejoin="round" stroke-linecap="round"/>
<polyline points="2198.0,592.0 2184.0,592.0 2163.0,565.5 2144.0,565.5" fill="none" stroke="#58de62" stroke-width="4.0" stroke-linejoin="round" stroke-linecap="round"/>
<circle cx="1938.0" cy="592.0" r="7.0" fill="#58de62" stroke="#16492e" stroke-width="2.5"/>
<circle cx="1938.0" cy="592.0" r="3.1" fill="#16492e"/>
<circle cx="2198.0" cy="592.0" r="7.0" fill="#58de62" stroke="#16492e" stroke-width="2.5"/>
<circle cx="2198.0" cy="592.0" r="3.1" fill="#16492e"/>
<polyline points="1938.0,625.0 1952.0,625.0 1970.0,577.5 1989.0,577.5" fill="none" stroke="#16492e" stroke-width="7.5" stroke-linejoin="round" stroke-linecap="round"/>
<polyline points="1938.0,625.0 1952.0,625.0 1970.0,577.5 1989.0,577.5" fill="none" stroke="#58de62" stroke-width="4.0" stroke-linejoin="round" stroke-linecap="round"/>
<polyline points="2198.0,625.0 2184.0,625.0 2163.0,577.5 2144.0,577.5" fill="none" stroke="#16492e" stroke-width="7.5" stroke-linejoin="round" stroke-linecap="round"/>
<polyline points="2198.0,625.0 2184.0,625.0 2163.0,577.5 2144.0,577.5" fill="none" stroke="#58de62" stroke-width="4.0" stroke-linejoin="round" stroke-linecap="round"/>
<circle cx="1938.0" cy="625.0" r="7.0" fill="#58de62" stroke="#16492e" stroke-width="2.5"/>
<circle cx="1938.0" cy="625.0" r="3.1" fill="#16492e"/>
<circle cx="2198.0" cy="625.0" r="7.0" fill="#58de62" stroke="#16492e" stroke-width="2.5"/>
<circle cx="2198.0" cy="625.0" r="3.1" fill="#16492e"/>
<rect x="2015.5" y="455.0" width="9.0" height="10.0" fill="#16241a" />
<rect x="2016.5" y="456.0" width="7.0" height="8.0" fill="#e8eadc" />
<rect x="2015.5" y="600.0" width="9.0" height="10.0" fill="#16241a" />
<rect x="2016.5" y="601.0" width="7.0" height="8.0" fill="#e8eadc" />
<rect x="2027.1" y="455.0" width="9.0" height="10.0" fill="#16241a" />
<rect x="2028.1" y="456.0" width="7.0" height="8.0" fill="#e8eadc" />
<rect x="2027.1" y="600.0" width="9.0" height="10.0" fill="#16241a" />
<rect x="2028.1" y="601.0" width="7.0" height="8.0" fill="#e8eadc" />
<rect x="2038.8" y="455.0" width="9.0" height="10.0" fill="#16241a" />
<rect x="2039.8" y="456.0" width="7.0" height="8.0" fill="#e8eadc" />
<rect x="2038.8" y="600.0" width="9.0" height="10.0" fill="#16241a" />
<rect x="2039.8" y="601.0" width="7.0" height="8.0" fill="#e8eadc" />
<rect x="2050.4" y="455.0" width="9.0" height="10.0" fill="#16241a" />
<rect x="2051.4" y="456.0" width="7.0" height="8.0" fill="#e8eadc" />
<rect x="2050.4" y="600.0" width="9.0" height="10.0" fill="#16241a" />
<rect x="2051.4" y="601.0" width="7.0" height="8.0" fill="#e8eadc" />
<rect x="2062.0" y="455.0" width="9.0" height="10.0" fill="#16241a" />
<rect x="2063.0" y="456.0" width="7.0" height="8.0" fill="#e8eadc" />
<rect x="2062.0" y="600.0" width="9.0" height="10.0" fill="#16241a" />
<rect x="2063.0" y="601.0" width="7.0" height="8.0" fill="#e8eadc" />
<rect x="2073.6" y="455.0" width="9.0" height="10.0" fill="#16241a" />
<rect x="2074.6" y="456.0" width="7.0" height="8.0" fill="#e8eadc" />
<rect x="2073.6" y="600.0" width="9.0" height="10.0" fill="#16241a" />
<rect x="2074.6" y="601.0" width="7.0" height="8.0" fill="#e8eadc" />
<rect x="2085.2" y="455.0" width="9.0" height="10.0" fill="#16241a" />
<rect x="2086.2" y="456.0" width="7.0" height="8.0" fill="#e8eadc" />
<rect x="2085.2" y="600.0" width="9.0" height="10.0" fill="#16241a" />
<rect x="2086.2" y="601.0" width="7.0" height="8.0" fill="#e8eadc" />
<rect x="2096.9" y="455.0" width="9.0" height="10.0" fill="#16241a" />
<rect x="2097.9" y="456.0" width="7.0" height="8.0" fill="#e8eadc" />
<rect x="2096.9" y="600.0" width="9.0" height="10.0" fill="#16241a" />
<rect x="2097.9" y="601.0" width="7.0" height="8.0" fill="#e8eadc" />
<rect x="2108.5" y="455.0" width="9.0" height="10.0" fill="#16241a" />
<rect x="2109.5" y="456.0" width="7.0" height="8.0" fill="#e8eadc" />
<rect x="2108.5" y="600.0" width="9.0" height="10.0" fill="#16241a" />
<rect x="2109.5" y="601.0" width="7.0" height="8.0" fill="#e8eadc" />
<rect x="1988.0" y="480.5" width="10.0" height="9.0" fill="#16241a" />
<rect x="1989.0" y="481.5" width="8.0" height="7.0" fill="#e8eadc" />
<rect x="2135.0" y="480.5" width="10.0" height="9.0" fill="#16241a" />
<rect x="2136.0" y="481.5" width="8.0" height="7.0" fill="#e8eadc" />
<rect x="1988.0" y="492.4" width="10.0" height="9.0" fill="#16241a" />
<rect x="1989.0" y="493.4" width="8.0" height="7.0" fill="#e8eadc" />
<rect x="2135.0" y="492.4" width="10.0" height="9.0" fill="#16241a" />
<rect x="2136.0" y="493.4" width="8.0" height="7.0" fill="#e8eadc" />
<rect x="1988.0" y="504.2" width="10.0" height="9.0" fill="#16241a" />
<rect x="1989.0" y="505.2" width="8.0" height="7.0" fill="#e8eadc" />
<rect x="2135.0" y="504.2" width="10.0" height="9.0" fill="#16241a" />
<rect x="2136.0" y="505.2" width="8.0" height="7.0" fill="#e8eadc" />
<rect x="1988.0" y="516.1" width="10.0" height="9.0" fill="#16241a" />
<rect x="1989.0" y="517.1" width="8.0" height="7.0" fill="#e8eadc" />
<rect x="2135.0" y="516.1" width="10.0" height="9.0" fill="#16241a" />
<rect x="2136.0" y="517.1" width="8.0" height="7.0" fill="#e8eadc" />
<rect x="1988.0" y="528.0" width="10.0" height="9.0" fill="#16241a" />
<rect x="1989.0" y="529.0" width="8.0" height="7.0" fill="#e8eadc" />
<rect x="2135.0" y="528.0" width="10.0" height="9.0" fill="#16241a" />
<rect x="2136.0" y="529.0" width="8.0" height="7.0" fill="#e8eadc" />
<rect x="1988.0" y="539.9" width="10.0" height="9.0" fill="#16241a" />
<rect x="1989.0" y="540.9" width="8.0" height="7.0" fill="#e8eadc" />
<rect x="2135.0" y="539.9" width="10.0" height="9.0" fill="#16241a" />
<rect x="2136.0" y="540.9" width="8.0" height="7.0" fill="#e8eadc" />
<rect x="1988.0" y="551.8" width="10.0" height="9.0" fill="#16241a" />
<rect x="1989.0" y="552.8" width="8.0" height="7.0" fill="#e8eadc" />
<rect x="2135.0" y="551.8" width="10.0" height="9.0" fill="#16241a" />
<rect x="2136.0" y="552.8" width="8.0" height="7.0" fill="#e8eadc" />
<rect x="1988.0" y="563.6" width="10.0" height="9.0" fill="#16241a" />
<rect x="1989.0" y="564.6" width="8.0" height="7.0" fill="#e8eadc" />
<rect x="2135.0" y="563.6" width="10.0" height="9.0" fill="#16241a" />
<rect x="2136.0" y="564.6" width="8.0" height="7.0" fill="#e8eadc" />
<rect x="1988.0" y="575.5" width="10.0" height="9.0" fill="#16241a" />
<rect x="1989.0" y="576.5" width="8.0" height="7.0" fill="#e8eadc" />
<rect x="2135.0" y="575.5" width="10.0" height="9.0" fill="#16241a" />
<rect x="2136.0" y="576.5" width="8.0" height="7.0" fill="#e8eadc" />
<polygon points="2002.0,465.0 2131.0,465.0 2135.0,469.0 2135.0,596.0 2131.0,600.0 2002.0,600.0 1998.0,596.0 1998.0,469.0" fill="#141c16" />
<rect x="2002.0" y="469.0" width="129.0" height="127.0" fill="#56695c" />
<rect x="2002.0" y="586.0" width="129.0" height="10.0" fill="#425246" />
<rect x="2013.8" y="480.8" width="105.4" height="103.4" fill="#2a3a30" />
<rect x="2015.8" y="482.8" width="101.4" height="99.4" fill="#5db86a" />
<rect x="2015.8" y="482.8" width="101.4" height="5.0" fill="#78cf7f" />
<path d="M2031.6 517.5h13.8v4.4h-13.8zM2027.0 521.9h4.6v4.4h-4.6zM2045.4 521.9h4.6v4.4h-4.6zM2027.0 526.3h4.6v4.4h-4.6zM2027.0 530.7h4.6v4.4h-4.6zM2027.0 535.1h4.6v4.4h-4.6zM2027.0 539.5h4.6v4.4h-4.6zM2045.4 539.5h4.6v4.4h-4.6zM2031.6 543.9h13.8v4.4h-13.8zM2054.5 517.5h18.4v4.4h-18.4zM2054.5 521.9h4.6v4.4h-4.6zM2072.9 521.9h4.6v4.4h-4.6zM2054.5 526.3h4.6v4.4h-4.6zM2072.9 526.3h4.6v4.4h-4.6zM2054.5 530.7h18.4v4.4h-18.4zM2054.5 535.1h4.6v4.4h-4.6zM2054.5 539.5h4.6v4.4h-4.6zM2054.5 543.9h4.6v4.4h-4.6zM2082.0 517.5h4.6v4.4h-4.6zM2100.4 517.5h4.6v4.4h-4.6zM2082.0 521.9h4.6v4.4h-4.6zM2100.4 521.9h4.6v4.4h-4.6zM2082.0 526.3h4.6v4.4h-4.6zM2100.4 526.3h4.6v4.4h-4.6zM2082.0 530.7h4.6v4.4h-4.6zM2100.4 530.7h4.6v4.4h-4.6zM2082.0 535.1h4.6v4.4h-4.6zM2100.4 535.1h4.6v4.4h-4.6zM2082.0 539.5h4.6v4.4h-4.6zM2100.4 539.5h4.6v4.4h-4.6zM2086.6 543.9h13.8v4.4h-13.8z" fill="#14261a" stroke="#14261a" stroke-width="2.5" stroke-linejoin="miter" paint-order="stroke"/>
<polygon points="2293.0,338.0 2615.0,338.0 2619.0,342.0 2619.0,722.0 2615.0,726.0 2293.0,726.0 2289.0,722.0 2289.0,342.0" fill="#10261a" />
<rect x="2292.0" y="341.0" width="324.0" height="382.0" fill="#55c266" />
<rect x="2292.0" y="717.0" width="324.0" height="6.0" fill="#2b8646" />
<rect x="2302.0" y="351.0" width="304.0" height="362.0" fill="#2b8646" />
<rect x="2304.0" y="353.0" width="300.0" height="358.0" fill="#1f6e4a" />
<circle cx="2316.0" cy="365.0" r="5" fill="#2c7a4c" stroke="#16492e" stroke-width="2"/>
<circle cx="2592.0" cy="365.0" r="5" fill="#2c7a4c" stroke="#16492e" stroke-width="2"/>
<circle cx="2316.0" cy="699.0" r="5" fill="#2c7a4c" stroke="#16492e" stroke-width="2"/>
<circle cx="2592.0" cy="699.0" r="5" fill="#2c7a4c" stroke="#16492e" stroke-width="2"/>
<polyline points="2356.0,376.0 2356.0,417.8 2410.0,425.0 2410.0,456.0" fill="none" stroke="#16492e" stroke-width="7.5" stroke-linejoin="round" stroke-linecap="round"/>
<polyline points="2356.0,376.0 2356.0,417.8 2410.0,425.0 2410.0,456.0" fill="none" stroke="#58de62" stroke-width="4.0" stroke-linejoin="round" stroke-linecap="round"/>
<polyline points="2388.0,376.0 2388.0,414.6 2421.0,425.0 2421.0,456.0" fill="none" stroke="#16492e" stroke-width="7.5" stroke-linejoin="round" stroke-linecap="round"/>
<polyline points="2388.0,376.0 2388.0,414.6 2421.0,425.0 2421.0,456.0" fill="none" stroke="#58de62" stroke-width="4.0" stroke-linejoin="round" stroke-linecap="round"/>
<polyline points="2420.0,376.0 2420.0,411.4 2432.0,425.0 2432.0,456.0" fill="none" stroke="#16492e" stroke-width="7.5" stroke-linejoin="round" stroke-linecap="round"/>
<polyline points="2420.0,376.0 2420.0,411.4 2432.0,425.0 2432.0,456.0" fill="none" stroke="#58de62" stroke-width="4.0" stroke-linejoin="round" stroke-linecap="round"/>
<polyline points="2484.0,376.0 2484.0,411.0 2476.0,425.0 2476.0,456.0" fill="none" stroke="#16492e" stroke-width="7.5" stroke-linejoin="round" stroke-linecap="round"/>
<polyline points="2484.0,376.0 2484.0,411.0 2476.0,425.0 2476.0,456.0" fill="none" stroke="#58de62" stroke-width="4.0" stroke-linejoin="round" stroke-linecap="round"/>
<polyline points="2516.0,376.0 2516.0,414.2 2487.0,425.0 2487.0,456.0" fill="none" stroke="#16492e" stroke-width="7.5" stroke-linejoin="round" stroke-linecap="round"/>
<polyline points="2516.0,376.0 2516.0,414.2 2487.0,425.0 2487.0,456.0" fill="none" stroke="#58de62" stroke-width="4.0" stroke-linejoin="round" stroke-linecap="round"/>
<polyline points="2549.0,376.0 2549.0,417.5 2498.0,425.0 2498.0,456.0" fill="none" stroke="#16492e" stroke-width="7.5" stroke-linejoin="round" stroke-linecap="round"/>
<polyline points="2549.0,376.0 2549.0,417.5 2498.0,425.0 2498.0,456.0" fill="none" stroke="#58de62" stroke-width="4.0" stroke-linejoin="round" stroke-linecap="round"/>
<polyline points="2454.0,378.0 2454.0,456.0" fill="none" stroke="#16492e" stroke-width="7.5" stroke-linejoin="round" stroke-linecap="round"/>
<polyline points="2454.0,378.0 2454.0,456.0" fill="none" stroke="#58de62" stroke-width="4.0" stroke-linejoin="round" stroke-linecap="round"/>
<circle cx="2356.0" cy="372.0" r="7.0" fill="#58de62" stroke="#16492e" stroke-width="2.5"/>
<circle cx="2356.0" cy="372.0" r="3.1" fill="#16492e"/>
<circle cx="2388.0" cy="372.0" r="7.0" fill="#58de62" stroke="#16492e" stroke-width="2.5"/>
<circle cx="2388.0" cy="372.0" r="3.1" fill="#16492e"/>
<circle cx="2420.0" cy="372.0" r="7.0" fill="#58de62" stroke="#16492e" stroke-width="2.5"/>
<circle cx="2420.0" cy="372.0" r="3.1" fill="#16492e"/>
<circle cx="2484.0" cy="372.0" r="7.0" fill="#58de62" stroke="#16492e" stroke-width="2.5"/>
<circle cx="2484.0" cy="372.0" r="3.1" fill="#16492e"/>
<circle cx="2516.0" cy="372.0" r="7.0" fill="#58de62" stroke="#16492e" stroke-width="2.5"/>
<circle cx="2516.0" cy="372.0" r="3.1" fill="#16492e"/>
<circle cx="2549.0" cy="372.0" r="7.0" fill="#58de62" stroke="#16492e" stroke-width="2.5"/>
<circle cx="2549.0" cy="372.0" r="3.1" fill="#16492e"/>
<polyline points="2325.0,440.0 2339.0,440.0 2358.0,487.5 2377.0,487.5" fill="none" stroke="#16492e" stroke-width="7.5" stroke-linejoin="round" stroke-linecap="round"/>
<polyline points="2325.0,440.0 2339.0,440.0 2358.0,487.5 2377.0,487.5" fill="none" stroke="#58de62" stroke-width="4.0" stroke-linejoin="round" stroke-linecap="round"/>
<polyline points="2583.0,440.0 2569.0,440.0 2550.0,487.5 2531.0,487.5" fill="none" stroke="#16492e" stroke-width="7.5" stroke-linejoin="round" stroke-linecap="round"/>
<polyline points="2583.0,440.0 2569.0,440.0 2550.0,487.5 2531.0,487.5" fill="none" stroke="#58de62" stroke-width="4.0" stroke-linejoin="round" stroke-linecap="round"/>
<circle cx="2325.0" cy="440.0" r="7.0" fill="#58de62" stroke="#16492e" stroke-width="2.5"/>
<circle cx="2325.0" cy="440.0" r="3.1" fill="#16492e"/>
<circle cx="2583.0" cy="440.0" r="7.0" fill="#58de62" stroke="#16492e" stroke-width="2.5"/>
<circle cx="2583.0" cy="440.0" r="3.1" fill="#16492e"/>
<polyline points="2325.0,473.0 2339.0,473.0 2358.0,499.5 2377.0,499.5" fill="none" stroke="#16492e" stroke-width="7.5" stroke-linejoin="round" stroke-linecap="round"/>
<polyline points="2325.0,473.0 2339.0,473.0 2358.0,499.5 2377.0,499.5" fill="none" stroke="#58de62" stroke-width="4.0" stroke-linejoin="round" stroke-linecap="round"/>
<polyline points="2583.0,473.0 2569.0,473.0 2550.0,499.5 2531.0,499.5" fill="none" stroke="#16492e" stroke-width="7.5" stroke-linejoin="round" stroke-linecap="round"/>
<polyline points="2583.0,473.0 2569.0,473.0 2550.0,499.5 2531.0,499.5" fill="none" stroke="#58de62" stroke-width="4.0" stroke-linejoin="round" stroke-linecap="round"/>
<circle cx="2325.0" cy="473.0" r="7.0" fill="#58de62" stroke="#16492e" stroke-width="2.5"/>
<circle cx="2325.0" cy="473.0" r="3.1" fill="#16492e"/>
<circle cx="2583.0" cy="473.0" r="7.0" fill="#58de62" stroke="#16492e" stroke-width="2.5"/>
<circle cx="2583.0" cy="473.0" r="3.1" fill="#16492e"/>
<polyline points="2325.0,503.0 2339.0,503.0 2358.0,516.5 2377.0,516.5" fill="none" stroke="#16492e" stroke-width="7.5" stroke-linejoin="round" stroke-linecap="round"/>
<polyline points="2325.0,503.0 2339.0,503.0 2358.0,516.5 2377.0,516.5" fill="none" stroke="#58de62" stroke-width="4.0" stroke-linejoin="round" stroke-linecap="round"/>
<polyline points="2583.0,503.0 2569.0,503.0 2550.0,516.5 2531.0,516.5" fill="none" stroke="#16492e" stroke-width="7.5" stroke-linejoin="round" stroke-linecap="round"/>
<polyline points="2583.0,503.0 2569.0,503.0 2550.0,516.5 2531.0,516.5" fill="none" stroke="#58de62" stroke-width="4.0" stroke-linejoin="round" stroke-linecap="round"/>
<circle cx="2325.0" cy="503.0" r="7.0" fill="#58de62" stroke="#16492e" stroke-width="2.5"/>
<circle cx="2325.0" cy="503.0" r="3.1" fill="#16492e"/>
<circle cx="2583.0" cy="503.0" r="7.0" fill="#58de62" stroke="#16492e" stroke-width="2.5"/>
<circle cx="2583.0" cy="503.0" r="3.1" fill="#16492e"/>
<polyline points="2325.0,532.0 2339.0,532.0 2358.0,532.5 2377.0,532.5" fill="none" stroke="#16492e" stroke-width="7.5" stroke-linejoin="round" stroke-linecap="round"/>
<polyline points="2325.0,532.0 2339.0,532.0 2358.0,532.5 2377.0,532.5" fill="none" stroke="#58de62" stroke-width="4.0" stroke-linejoin="round" stroke-linecap="round"/>
<polyline points="2583.0,532.0 2569.0,532.0 2550.0,532.5 2531.0,532.5" fill="none" stroke="#16492e" stroke-width="7.5" stroke-linejoin="round" stroke-linecap="round"/>
<polyline points="2583.0,532.0 2569.0,532.0 2550.0,532.5 2531.0,532.5" fill="none" stroke="#58de62" stroke-width="4.0" stroke-linejoin="round" stroke-linecap="round"/>
<circle cx="2325.0" cy="532.0" r="7.0" fill="#58de62" stroke="#16492e" stroke-width="2.5"/>
<circle cx="2325.0" cy="532.0" r="3.1" fill="#16492e"/>
<circle cx="2583.0" cy="532.0" r="7.0" fill="#58de62" stroke="#16492e" stroke-width="2.5"/>
<circle cx="2583.0" cy="532.0" r="3.1" fill="#16492e"/>
<polyline points="2325.0,561.0 2339.0,561.0 2358.0,548.5 2377.0,548.5" fill="none" stroke="#16492e" stroke-width="7.5" stroke-linejoin="round" stroke-linecap="round"/>
<polyline points="2325.0,561.0 2339.0,561.0 2358.0,548.5 2377.0,548.5" fill="none" stroke="#58de62" stroke-width="4.0" stroke-linejoin="round" stroke-linecap="round"/>
<polyline points="2583.0,561.0 2569.0,561.0 2550.0,548.5 2531.0,548.5" fill="none" stroke="#16492e" stroke-width="7.5" stroke-linejoin="round" stroke-linecap="round"/>
<polyline points="2583.0,561.0 2569.0,561.0 2550.0,548.5 2531.0,548.5" fill="none" stroke="#58de62" stroke-width="4.0" stroke-linejoin="round" stroke-linecap="round"/>
<circle cx="2325.0" cy="561.0" r="7.0" fill="#58de62" stroke="#16492e" stroke-width="2.5"/>
<circle cx="2325.0" cy="561.0" r="3.1" fill="#16492e"/>
<circle cx="2583.0" cy="561.0" r="7.0" fill="#58de62" stroke="#16492e" stroke-width="2.5"/>
<circle cx="2583.0" cy="561.0" r="3.1" fill="#16492e"/>
<polyline points="2325.0,592.0 2339.0,592.0 2358.0,565.5 2377.0,565.5" fill="none" stroke="#16492e" stroke-width="7.5" stroke-linejoin="round" stroke-linecap="round"/>
<polyline points="2325.0,592.0 2339.0,592.0 2358.0,565.5 2377.0,565.5" fill="none" stroke="#58de62" stroke-width="4.0" stroke-linejoin="round" stroke-linecap="round"/>
<polyline points="2583.0,592.0 2569.0,592.0 2550.0,565.5 2531.0,565.5" fill="none" stroke="#16492e" stroke-width="7.5" stroke-linejoin="round" stroke-linecap="round"/>
<polyline points="2583.0,592.0 2569.0,592.0 2550.0,565.5 2531.0,565.5" fill="none" stroke="#58de62" stroke-width="4.0" stroke-linejoin="round" stroke-linecap="round"/>
<circle cx="2325.0" cy="592.0" r="7.0" fill="#58de62" stroke="#16492e" stroke-width="2.5"/>
<circle cx="2325.0" cy="592.0" r="3.1" fill="#16492e"/>
<circle cx="2583.0" cy="592.0" r="7.0" fill="#58de62" stroke="#16492e" stroke-width="2.5"/>
<circle cx="2583.0" cy="592.0" r="3.1" fill="#16492e"/>
<polyline points="2325.0,625.0 2339.0,625.0 2358.0,577.5 2377.0,577.5" fill="none" stroke="#16492e" stroke-width="7.5" stroke-linejoin="round" stroke-linecap="round"/>
<polyline points="2325.0,625.0 2339.0,625.0 2358.0,577.5 2377.0,577.5" fill="none" stroke="#58de62" stroke-width="4.0" stroke-linejoin="round" stroke-linecap="round"/>
<polyline points="2583.0,625.0 2569.0,625.0 2550.0,577.5 2531.0,577.5" fill="none" stroke="#16492e" stroke-width="7.5" stroke-linejoin="round" stroke-linecap="round"/>
<polyline points="2583.0,625.0 2569.0,625.0 2550.0,577.5 2531.0,577.5" fill="none" stroke="#58de62" stroke-width="4.0" stroke-linejoin="round" stroke-linecap="round"/>
<circle cx="2325.0" cy="625.0" r="7.0" fill="#58de62" stroke="#16492e" stroke-width="2.5"/>
<circle cx="2325.0" cy="625.0" r="3.1" fill="#16492e"/>
<circle cx="2583.0" cy="625.0" r="7.0" fill="#58de62" stroke="#16492e" stroke-width="2.5"/>
<circle cx="2583.0" cy="625.0" r="3.1" fill="#16492e"/>
<rect x="2403.5" y="455.0" width="9.0" height="10.0" fill="#16241a" />
<rect x="2404.5" y="456.0" width="7.0" height="8.0" fill="#e8eadc" />
<rect x="2403.5" y="600.0" width="9.0" height="10.0" fill="#16241a" />
<rect x="2404.5" y="601.0" width="7.0" height="8.0" fill="#e8eadc" />
<rect x="2415.0" y="455.0" width="9.0" height="10.0" fill="#16241a" />
<rect x="2416.0" y="456.0" width="7.0" height="8.0" fill="#e8eadc" />
<rect x="2415.0" y="600.0" width="9.0" height="10.0" fill="#16241a" />
<rect x="2416.0" y="601.0" width="7.0" height="8.0" fill="#e8eadc" />
<rect x="2426.5" y="455.0" width="9.0" height="10.0" fill="#16241a" />
<rect x="2427.5" y="456.0" width="7.0" height="8.0" fill="#e8eadc" />
<rect x="2426.5" y="600.0" width="9.0" height="10.0" fill="#16241a" />
<rect x="2427.5" y="601.0" width="7.0" height="8.0" fill="#e8eadc" />
<rect x="2438.0" y="455.0" width="9.0" height="10.0" fill="#16241a" />
<rect x="2439.0" y="456.0" width="7.0" height="8.0" fill="#e8eadc" />
<rect x="2438.0" y="600.0" width="9.0" height="10.0" fill="#16241a" />
<rect x="2439.0" y="601.0" width="7.0" height="8.0" fill="#e8eadc" />
<rect x="2449.5" y="455.0" width="9.0" height="10.0" fill="#16241a" />
<rect x="2450.5" y="456.0" width="7.0" height="8.0" fill="#e8eadc" />
<rect x="2449.5" y="600.0" width="9.0" height="10.0" fill="#16241a" />
<rect x="2450.5" y="601.0" width="7.0" height="8.0" fill="#e8eadc" />
<rect x="2461.0" y="455.0" width="9.0" height="10.0" fill="#16241a" />
<rect x="2462.0" y="456.0" width="7.0" height="8.0" fill="#e8eadc" />
<rect x="2461.0" y="600.0" width="9.0" height="10.0" fill="#16241a" />
<rect x="2462.0" y="601.0" width="7.0" height="8.0" fill="#e8eadc" />
<rect x="2472.5" y="455.0" width="9.0" height="10.0" fill="#16241a" />
<rect x="2473.5" y="456.0" width="7.0" height="8.0" fill="#e8eadc" />
<rect x="2472.5" y="600.0" width="9.0" height="10.0" fill="#16241a" />
<rect x="2473.5" y="601.0" width="7.0" height="8.0" fill="#e8eadc" />
<rect x="2484.0" y="455.0" width="9.0" height="10.0" fill="#16241a" />
<rect x="2485.0" y="456.0" width="7.0" height="8.0" fill="#e8eadc" />
<rect x="2484.0" y="600.0" width="9.0" height="10.0" fill="#16241a" />
<rect x="2485.0" y="601.0" width="7.0" height="8.0" fill="#e8eadc" />
<rect x="2495.5" y="455.0" width="9.0" height="10.0" fill="#16241a" />
<rect x="2496.5" y="456.0" width="7.0" height="8.0" fill="#e8eadc" />
<rect x="2495.5" y="600.0" width="9.0" height="10.0" fill="#16241a" />
<rect x="2496.5" y="601.0" width="7.0" height="8.0" fill="#e8eadc" />
<rect x="2376.0" y="480.5" width="10.0" height="9.0" fill="#16241a" />
<rect x="2377.0" y="481.5" width="8.0" height="7.0" fill="#e8eadc" />
<rect x="2522.0" y="480.5" width="10.0" height="9.0" fill="#16241a" />
<rect x="2523.0" y="481.5" width="8.0" height="7.0" fill="#e8eadc" />
<rect x="2376.0" y="492.4" width="10.0" height="9.0" fill="#16241a" />
<rect x="2377.0" y="493.4" width="8.0" height="7.0" fill="#e8eadc" />
<rect x="2522.0" y="492.4" width="10.0" height="9.0" fill="#16241a" />
<rect x="2523.0" y="493.4" width="8.0" height="7.0" fill="#e8eadc" />
<rect x="2376.0" y="504.2" width="10.0" height="9.0" fill="#16241a" />
<rect x="2377.0" y="505.2" width="8.0" height="7.0" fill="#e8eadc" />
<rect x="2522.0" y="504.2" width="10.0" height="9.0" fill="#16241a" />
<rect x="2523.0" y="505.2" width="8.0" height="7.0" fill="#e8eadc" />
<rect x="2376.0" y="516.1" width="10.0" height="9.0" fill="#16241a" />
<rect x="2377.0" y="517.1" width="8.0" height="7.0" fill="#e8eadc" />
<rect x="2522.0" y="516.1" width="10.0" height="9.0" fill="#16241a" />
<rect x="2523.0" y="517.1" width="8.0" height="7.0" fill="#e8eadc" />
<rect x="2376.0" y="528.0" width="10.0" height="9.0" fill="#16241a" />
<rect x="2377.0" y="529.0" width="8.0" height="7.0" fill="#e8eadc" />
<rect x="2522.0" y="528.0" width="10.0" height="9.0" fill="#16241a" />
<rect x="2523.0" y="529.0" width="8.0" height="7.0" fill="#e8eadc" />
<rect x="2376.0" y="539.9" width="10.0" height="9.0" fill="#16241a" />
<rect x="2377.0" y="540.9" width="8.0" height="7.0" fill="#e8eadc" />
<rect x="2522.0" y="539.9" width="10.0" height="9.0" fill="#16241a" />
<rect x="2523.0" y="540.9" width="8.0" height="7.0" fill="#e8eadc" />
<rect x="2376.0" y="551.8" width="10.0" height="9.0" fill="#16241a" />
<rect x="2377.0" y="552.8" width="8.0" height="7.0" fill="#e8eadc" />
<rect x="2522.0" y="551.8" width="10.0" height="9.0" fill="#16241a" />
<rect x="2523.0" y="552.8" width="8.0" height="7.0" fill="#e8eadc" />
<rect x="2376.0" y="563.6" width="10.0" height="9.0" fill="#16241a" />
<rect x="2377.0" y="564.6" width="8.0" height="7.0" fill="#e8eadc" />
<rect x="2522.0" y="563.6" width="10.0" height="9.0" fill="#16241a" />
<rect x="2523.0" y="564.6" width="8.0" height="7.0" fill="#e8eadc" />
<rect x="2376.0" y="575.5" width="10.0" height="9.0" fill="#16241a" />
<rect x="2377.0" y="576.5" width="8.0" height="7.0" fill="#e8eadc" />
<rect x="2522.0" y="575.5" width="10.0" height="9.0" fill="#16241a" />
<rect x="2523.0" y="576.5" width="8.0" height="7.0" fill="#e8eadc" />
<polygon points="2390.0,465.0 2518.0,465.0 2522.0,469.0 2522.0,596.0 2518.0,600.0 2390.0,600.0 2386.0,596.0 2386.0,469.0" fill="#141c16" />
<rect x="2390.0" y="469.0" width="128.0" height="127.0" fill="#56695c" />
<rect x="2390.0" y="586.0" width="128.0" height="10.0" fill="#425246" />
<rect x="2401.7" y="480.7" width="104.6" height="103.6" fill="#2a3a30" />
<rect x="2403.7" y="482.7" width="100.6" height="99.6" fill="#5db86a" />
<rect x="2403.7" y="482.7" width="100.6" height="5.0" fill="#78cf7f" />
<path d="M2419.1 517.5h13.8v4.4h-13.8zM2414.5 521.9h4.6v4.4h-4.6zM2432.9 521.9h4.6v4.4h-4.6zM2414.5 526.3h4.6v4.4h-4.6zM2414.5 530.7h4.6v4.4h-4.6zM2414.5 535.1h4.6v4.4h-4.6zM2414.5 539.5h4.6v4.4h-4.6zM2432.9 539.5h4.6v4.4h-4.6zM2419.1 543.9h13.8v4.4h-13.8zM2442.0 517.5h18.4v4.4h-18.4zM2442.0 521.9h4.6v4.4h-4.6zM2460.4 521.9h4.6v4.4h-4.6zM2442.0 526.3h4.6v4.4h-4.6zM2460.4 526.3h4.6v4.4h-4.6zM2442.0 530.7h18.4v4.4h-18.4zM2442.0 535.1h4.6v4.4h-4.6zM2442.0 539.5h4.6v4.4h-4.6zM2442.0 543.9h4.6v4.4h-4.6zM2469.5 517.5h4.6v4.4h-4.6zM2487.9 517.5h4.6v4.4h-4.6zM2469.5 521.9h4.6v4.4h-4.6zM2487.9 521.9h4.6v4.4h-4.6zM2469.5 526.3h4.6v4.4h-4.6zM2487.9 526.3h4.6v4.4h-4.6zM2469.5 530.7h4.6v4.4h-4.6zM2487.9 530.7h4.6v4.4h-4.6zM2469.5 535.1h4.6v4.4h-4.6zM2487.9 535.1h4.6v4.4h-4.6zM2469.5 539.5h4.6v4.4h-4.6zM2487.9 539.5h4.6v4.4h-4.6zM2474.1 543.9h13.8v4.4h-13.8z" fill="#14261a" stroke="#14261a" stroke-width="2.5" stroke-linejoin="miter" paint-order="stroke"/>
<path d="M1680 277 L1680 334" fill="none" stroke="#2a0f0b" stroke-width="48.0" stroke-linejoin="round" stroke-linecap="butt"/>
<path d="M1680 277 L1680 334" fill="none" stroke="#8e3a2f" stroke-width="42.0" stroke-linejoin="round" stroke-linecap="butt"/>
<path d="M1680 277 L1680 334" fill="none" stroke="#dd4e40" stroke-width="26.4" stroke-linejoin="round" stroke-linecap="butt"/>
<path d="M1680 277 L1680 334" fill="none" stroke="#f3755f" stroke-width="9.6" stroke-linejoin="round" stroke-linecap="butt"/>
<polygon points="1640.0,332.0 1720.0,332.0 1680.0,377.0" fill="#2a0f0b" />
<polygon points="1647.0,336.0 1713.0,336.0 1680.0,368.0" fill="#8e3a2f" />
<polygon points="1658.0,338.0 1702.0,338.0 1680.0,361.0" fill="#dd4e40" />
<polygon points="1676.0,332.0 1684.0,332.0 1684.0,351.0 1676.0,351.0" fill="#f3755f" />
<path d="M2068 277 L2068 334" fill="none" stroke="#10261a" stroke-width="48.0" stroke-linejoin="round" stroke-linecap="butt"/>
<path d="M2068 277 L2068 334" fill="none" stroke="#2c7a44" stroke-width="42.0" stroke-linejoin="round" stroke-linecap="butt"/>
<path d="M2068 277 L2068 334" fill="none" stroke="#4fd457" stroke-width="26.4" stroke-linejoin="round" stroke-linecap="butt"/>
<path d="M2068 277 L2068 334" fill="none" stroke="#a4f59a" stroke-width="9.6" stroke-linejoin="round" stroke-linecap="butt"/>
<polygon points="2028.0,332.0 2108.0,332.0 2068.0,379.0" fill="#10261a" />
<polygon points="2035.0,336.0 2101.0,336.0 2068.0,370.0" fill="#2c7a44" />
<polygon points="2046.0,338.0 2090.0,338.0 2068.0,363.0" fill="#4fd457" />
<polygon points="2064.0,332.0 2072.0,332.0 2072.0,353.0 2064.0,353.0" fill="#a4f59a" />
<path d="M2454 277 L2454 334" fill="none" stroke="#10261a" stroke-width="48.0" stroke-linejoin="round" stroke-linecap="butt"/>
<path d="M2454 277 L2454 334" fill="none" stroke="#2c7a44" stroke-width="42.0" stroke-linejoin="round" stroke-linecap="butt"/>
<path d="M2454 277 L2454 334" fill="none" stroke="#4fd457" stroke-width="26.4" stroke-linejoin="round" stroke-linecap="butt"/>
<path d="M2454 277 L2454 334" fill="none" stroke="#a4f59a" stroke-width="9.6" stroke-linejoin="round" stroke-linecap="butt"/>
<polygon points="2414.0,332.0 2494.0,332.0 2454.0,379.0" fill="#10261a" />
<polygon points="2421.0,336.0 2487.0,336.0 2454.0,370.0" fill="#2c7a44" />
<polygon points="2432.0,338.0 2476.0,338.0 2454.0,363.0" fill="#4fd457" />
<polygon points="2450.0,332.0 2458.0,332.0 2458.0,353.0 2450.0,353.0" fill="#a4f59a" />
<text x="1786.5" y="327.7" font-size="42.0" font-weight="bold" text-anchor="middle" textLength="99.0" lengthAdjust="spacingAndGlyphs" fill="#1c1610" stroke="#1c1610" stroke-width="2.0" stroke-linejoin="round" >Path 1</text>
<text x="2177.0" y="328.4" font-size="42.0" font-weight="bold" text-anchor="middle" textLength="104.0" lengthAdjust="spacingAndGlyphs" fill="#1c1610" stroke="#1c1610" stroke-width="2.0" stroke-linejoin="round" >Path 2</text>
<text x="2562.5" y="328.4" font-size="42.0" font-weight="bold" text-anchor="middle" textLength="103.0" lengthAdjust="spacingAndGlyphs" fill="#1c1610" stroke="#1c1610" stroke-width="2.0" stroke-linejoin="round" >Path 3</text>
<path d="M1681 600 L1681 770 Q1681 800 1711 800 L1959 800 Q1989 800 1989 830 L1989 882" fill="none" stroke="#2a0f0b" stroke-width="52.0" stroke-linejoin="round" stroke-linecap="butt"/>
<path d="M1681 600 L1681 770 Q1681 800 1711 800 L1959 800 Q1989 800 1989 830 L1989 882" fill="none" stroke="#8e3a2f" stroke-width="46.0" stroke-linejoin="round" stroke-linecap="butt"/>
<path d="M1681 600 L1681 770 Q1681 800 1711 800 L1959 800 Q1989 800 1989 830 L1989 882" fill="none" stroke="#dd4e40" stroke-width="28.6" stroke-linejoin="round" stroke-linecap="butt"/>
<path d="M1681 600 L1681 770 Q1681 800 1711 800 L1959 800 Q1989 800 1989 830 L1989 882" fill="none" stroke="#f3755f" stroke-width="10.4" stroke-linejoin="round" stroke-linecap="butt"/>
<polygon points="1949.0,879.0 2029.0,879.0 1989.0,924.0" fill="#2a0f0b" />
<polygon points="1956.0,883.0 2022.0,883.0 1989.0,915.0" fill="#8e3a2f" />
<polygon points="1967.0,885.0 2011.0,885.0 1989.0,908.0" fill="#dd4e40" />
<polygon points="1985.0,879.0 1993.0,879.0 1993.0,898.0 1985.0,898.0" fill="#f3755f" />
<path d="M2068 600 L2068 854" fill="none" stroke="#10261a" stroke-width="52.0" stroke-linejoin="round" stroke-linecap="butt"/>
<path d="M2068 600 L2068 854" fill="none" stroke="#2c7a44" stroke-width="46.0" stroke-linejoin="round" stroke-linecap="butt"/>
<path d="M2068 600 L2068 854" fill="none" stroke="#4fd457" stroke-width="28.6" stroke-linejoin="round" stroke-linecap="butt"/>
<path d="M2068 600 L2068 854" fill="none" stroke="#a4f59a" stroke-width="10.4" stroke-linejoin="round" stroke-linecap="butt"/>
<polygon points="2028.0,851.0 2108.0,851.0 2068.0,898.0" fill="#10261a" />
<polygon points="2035.0,855.0 2101.0,855.0 2068.0,889.0" fill="#2c7a44" />
<polygon points="2046.0,857.0 2090.0,857.0 2068.0,882.0" fill="#4fd457" />
<polygon points="2064.0,851.0 2072.0,851.0 2072.0,872.0 2064.0,872.0" fill="#a4f59a" />
<path d="M2454 600 L2454 768 Q2454 798 2424 798 L2177 798 Q2147 798 2147 828 L2147 862" fill="none" stroke="#10261a" stroke-width="52.0" stroke-linejoin="round" stroke-linecap="butt"/>
<path d="M2454 600 L2454 768 Q2454 798 2424 798 L2177 798 Q2147 798 2147 828 L2147 862" fill="none" stroke="#2c7a44" stroke-width="46.0" stroke-linejoin="round" stroke-linecap="butt"/>
<path d="M2454 600 L2454 768 Q2454 798 2424 798 L2177 798 Q2147 798 2147 828 L2147 862" fill="none" stroke="#4fd457" stroke-width="28.6" stroke-linejoin="round" stroke-linecap="butt"/>
<path d="M2454 600 L2454 768 Q2454 798 2424 798 L2177 798 Q2147 798 2147 828 L2147 862" fill="none" stroke="#a4f59a" stroke-width="10.4" stroke-linejoin="round" stroke-linecap="butt"/>
<polygon points="2107.0,860.0 2187.0,860.0 2147.0,913.0" fill="#10261a" />
<polygon points="2114.0,864.0 2180.0,864.0 2147.0,904.0" fill="#2c7a44" />
<polygon points="2125.0,866.0 2169.0,866.0 2147.0,897.0" fill="#4fd457" />
<polygon points="2143.0,860.0 2151.0,860.0 2151.0,887.0 2143.0,887.0" fill="#a4f59a" />
<text x="1680.5" y="652.0" font-size="42.5" font-weight="bold" text-anchor="middle" textLength="101.0" lengthAdjust="spacingAndGlyphs" fill="#2a0f0b" stroke="#2a0f0b" stroke-width="8.0" stroke-linejoin="round">Signal</text>
<text x="1680.5" y="652.0" font-size="42.5" font-weight="bold" text-anchor="middle" textLength="101.0" lengthAdjust="spacingAndGlyphs" fill="#ec6a5a" stroke="#ec6a5a" stroke-width="2.0" stroke-linejoin="round" >Signal</text>
<text x="1682.0" y="690.6" font-size="42.5" font-weight="bold" text-anchor="middle" textLength="219.0" lengthAdjust="spacingAndGlyphs" fill="#2a0f0b" stroke="#2a0f0b" stroke-width="8.0" stroke-linejoin="round">Transducer A</text>
<text x="1682.0" y="690.6" font-size="42.5" font-weight="bold" text-anchor="middle" textLength="219.0" lengthAdjust="spacingAndGlyphs" fill="#ec6a5a" stroke="#ec6a5a" stroke-width="2.0" stroke-linejoin="round" >Transducer A</text>
<text x="2068.6" y="653.8" font-size="42.5" font-weight="bold" text-anchor="middle" textLength="101.0" lengthAdjust="spacingAndGlyphs" fill="#0f2a18" stroke="#0f2a18" stroke-width="8.0" stroke-linejoin="round">Signal</text>
<text x="2068.6" y="653.8" font-size="42.5" font-weight="bold" text-anchor="middle" textLength="101.0" lengthAdjust="spacingAndGlyphs" fill="#8fe28a" stroke="#8fe28a" stroke-width="2.0" stroke-linejoin="round" >Signal</text>
<text x="2067.5" y="689.0" font-size="42.5" font-weight="bold" text-anchor="middle" textLength="215.0" lengthAdjust="spacingAndGlyphs" fill="#0f2a18" stroke="#0f2a18" stroke-width="8.0" stroke-linejoin="round">Transducer B</text>
<text x="2067.5" y="689.0" font-size="42.5" font-weight="bold" text-anchor="middle" textLength="215.0" lengthAdjust="spacingAndGlyphs" fill="#8fe28a" stroke="#8fe28a" stroke-width="2.0" stroke-linejoin="round" >Transducer B</text>
<text x="2455.0" y="653.8" font-size="42.5" font-weight="bold" text-anchor="middle" textLength="101.0" lengthAdjust="spacingAndGlyphs" fill="#0f2a18" stroke="#0f2a18" stroke-width="8.0" stroke-linejoin="round">Signal</text>
<text x="2455.0" y="653.8" font-size="42.5" font-weight="bold" text-anchor="middle" textLength="101.0" lengthAdjust="spacingAndGlyphs" fill="#8fe28a" stroke="#8fe28a" stroke-width="2.0" stroke-linejoin="round" >Signal</text>
<text x="2455.0" y="689.0" font-size="42.5" font-weight="bold" text-anchor="middle" textLength="215.0" lengthAdjust="spacingAndGlyphs" fill="#0f2a18" stroke="#0f2a18" stroke-width="8.0" stroke-linejoin="round">Transducer C</text>
<text x="2455.0" y="689.0" font-size="42.5" font-weight="bold" text-anchor="middle" textLength="215.0" lengthAdjust="spacingAndGlyphs" fill="#8fe28a" stroke="#8fe28a" stroke-width="2.0" stroke-linejoin="round" >Transducer C</text>
<rect x="1458.0" y="883.0" width="371.0" height="370.0" fill="#2a0d0a" />
<rect x="1461.0" y="886.0" width="365.0" height="364.0" fill="#d8433a" />
<rect x="1469.0" y="894.0" width="349.0" height="348.0" fill="#1a120e" />
<rect x="1471.0" y="896.0" width="345.0" height="344.0" fill="#1e6b45" />
<polyline points="1573.5,973.0 1573.5,948.0 1533.5,918.0 1533.5,897.0" fill="none" stroke="#3a2218" stroke-width="7.5" stroke-linejoin="round" stroke-linecap="round"/>
<polyline points="1573.5,973.0 1573.5,948.0 1533.5,918.0 1533.5,897.0" fill="none" stroke="#b0583f" stroke-width="4.0" stroke-linejoin="round" stroke-linecap="round"/>
<polyline points="1573.5,1163.0 1573.5,1188.0 1533.5,1218.0 1533.5,1239.0" fill="none" stroke="#3a2218" stroke-width="7.5" stroke-linejoin="round" stroke-linecap="round"/>
<polyline points="1573.5,1163.0 1573.5,1188.0 1533.5,1218.0 1533.5,1239.0" fill="none" stroke="#b0583f" stroke-width="4.0" stroke-linejoin="round" stroke-linecap="round"/>
<polyline points="1548.5,998.0 1523.5,998.0 1493.5,958.0 1472.0,958.0" fill="none" stroke="#3a2218" stroke-width="7.5" stroke-linejoin="round" stroke-linecap="round"/>
<polyline points="1548.5,998.0 1523.5,998.0 1493.5,958.0 1472.0,958.0" fill="none" stroke="#b0583f" stroke-width="4.0" stroke-linejoin="round" stroke-linecap="round"/>
<polyline points="1738.5,998.0 1763.5,998.0 1793.5,958.0 1815.0,958.0" fill="none" stroke="#3a2218" stroke-width="7.5" stroke-linejoin="round" stroke-linecap="round"/>
<polyline points="1738.5,998.0 1763.5,998.0 1793.5,958.0 1815.0,958.0" fill="none" stroke="#b0583f" stroke-width="4.0" stroke-linejoin="round" stroke-linecap="round"/>
<polyline points="1591.0,973.0 1591.0,948.0 1561.0,918.0 1561.0,897.0" fill="none" stroke="#3a2218" stroke-width="7.5" stroke-linejoin="round" stroke-linecap="round"/>
<polyline points="1591.0,973.0 1591.0,948.0 1561.0,918.0 1561.0,897.0" fill="none" stroke="#b0583f" stroke-width="4.0" stroke-linejoin="round" stroke-linecap="round"/>
<polyline points="1591.0,1163.0 1591.0,1188.0 1561.0,1218.0 1561.0,1239.0" fill="none" stroke="#3a2218" stroke-width="7.5" stroke-linejoin="round" stroke-linecap="round"/>
<polyline points="1591.0,1163.0 1591.0,1188.0 1561.0,1218.0 1561.0,1239.0" fill="none" stroke="#b0583f" stroke-width="4.0" stroke-linejoin="round" stroke-linecap="round"/>
<polyline points="1548.5,1015.5 1523.5,1015.5 1493.5,985.5 1472.0,985.5" fill="none" stroke="#3a2218" stroke-width="7.5" stroke-linejoin="round" stroke-linecap="round"/>
<polyline points="1548.5,1015.5 1523.5,1015.5 1493.5,985.5 1472.0,985.5" fill="none" stroke="#b0583f" stroke-width="4.0" stroke-linejoin="round" stroke-linecap="round"/>
<polyline points="1738.5,1015.5 1763.5,1015.5 1793.5,985.5 1815.0,985.5" fill="none" stroke="#3a2218" stroke-width="7.5" stroke-linejoin="round" stroke-linecap="round"/>
<polyline points="1738.5,1015.5 1763.5,1015.5 1793.5,985.5 1815.0,985.5" fill="none" stroke="#b0583f" stroke-width="4.0" stroke-linejoin="round" stroke-linecap="round"/>
<polyline points="1608.5,973.0 1608.5,948.0 1588.5,918.0 1588.5,897.0" fill="none" stroke="#3a2218" stroke-width="7.5" stroke-linejoin="round" stroke-linecap="round"/>
<polyline points="1608.5,973.0 1608.5,948.0 1588.5,918.0 1588.5,897.0" fill="none" stroke="#b0583f" stroke-width="4.0" stroke-linejoin="round" stroke-linecap="round"/>
<polyline points="1608.5,1163.0 1608.5,1188.0 1588.5,1218.0 1588.5,1239.0" fill="none" stroke="#3a2218" stroke-width="7.5" stroke-linejoin="round" stroke-linecap="round"/>
<polyline points="1608.5,1163.0 1608.5,1188.0 1588.5,1218.0 1588.5,1239.0" fill="none" stroke="#b0583f" stroke-width="4.0" stroke-linejoin="round" stroke-linecap="round"/>
<polyline points="1548.5,1033.0 1523.5,1033.0 1493.5,1013.0 1472.0,1013.0" fill="none" stroke="#3a2218" stroke-width="7.5" stroke-linejoin="round" stroke-linecap="round"/>
<polyline points="1548.5,1033.0 1523.5,1033.0 1493.5,1013.0 1472.0,1013.0" fill="none" stroke="#b0583f" stroke-width="4.0" stroke-linejoin="round" stroke-linecap="round"/>
<polyline points="1738.5,1033.0 1763.5,1033.0 1793.5,1013.0 1815.0,1013.0" fill="none" stroke="#3a2218" stroke-width="7.5" stroke-linejoin="round" stroke-linecap="round"/>
<polyline points="1738.5,1033.0 1763.5,1033.0 1793.5,1013.0 1815.0,1013.0" fill="none" stroke="#b0583f" stroke-width="4.0" stroke-linejoin="round" stroke-linecap="round"/>
<polyline points="1626.0,973.0 1626.0,948.0 1616.0,918.0 1616.0,897.0" fill="none" stroke="#3a2218" stroke-width="7.5" stroke-linejoin="round" stroke-linecap="round"/>
<polyline points="1626.0,973.0 1626.0,948.0 1616.0,918.0 1616.0,897.0" fill="none" stroke="#b0583f" stroke-width="4.0" stroke-linejoin="round" stroke-linecap="round"/>
<polyline points="1626.0,1163.0 1626.0,1188.0 1616.0,1218.0 1616.0,1239.0" fill="none" stroke="#3a2218" stroke-width="7.5" stroke-linejoin="round" stroke-linecap="round"/>
<polyline points="1626.0,1163.0 1626.0,1188.0 1616.0,1218.0 1616.0,1239.0" fill="none" stroke="#b0583f" stroke-width="4.0" stroke-linejoin="round" stroke-linecap="round"/>
<polyline points="1548.5,1050.5 1523.5,1050.5 1493.5,1040.5 1472.0,1040.5" fill="none" stroke="#3a2218" stroke-width="7.5" stroke-linejoin="round" stroke-linecap="round"/>
<polyline points="1548.5,1050.5 1523.5,1050.5 1493.5,1040.5 1472.0,1040.5" fill="none" stroke="#b0583f" stroke-width="4.0" stroke-linejoin="round" stroke-linecap="round"/>
<polyline points="1738.5,1050.5 1763.5,1050.5 1793.5,1040.5 1815.0,1040.5" fill="none" stroke="#3a2218" stroke-width="7.5" stroke-linejoin="round" stroke-linecap="round"/>
<polyline points="1738.5,1050.5 1763.5,1050.5 1793.5,1040.5 1815.0,1040.5" fill="none" stroke="#b0583f" stroke-width="4.0" stroke-linejoin="round" stroke-linecap="round"/>
<polyline points="1643.5,973.0 1643.5,948.0 1643.5,918.0 1643.5,897.0" fill="none" stroke="#3a2218" stroke-width="7.5" stroke-linejoin="round" stroke-linecap="round"/>
<polyline points="1643.5,973.0 1643.5,948.0 1643.5,918.0 1643.5,897.0" fill="none" stroke="#b0583f" stroke-width="4.0" stroke-linejoin="round" stroke-linecap="round"/>
<polyline points="1643.5,1163.0 1643.5,1188.0 1643.5,1218.0 1643.5,1239.0" fill="none" stroke="#3a2218" stroke-width="7.5" stroke-linejoin="round" stroke-linecap="round"/>
<polyline points="1643.5,1163.0 1643.5,1188.0 1643.5,1218.0 1643.5,1239.0" fill="none" stroke="#b0583f" stroke-width="4.0" stroke-linejoin="round" stroke-linecap="round"/>
<polyline points="1548.5,1068.0 1523.5,1068.0 1493.5,1068.0 1472.0,1068.0" fill="none" stroke="#3a2218" stroke-width="7.5" stroke-linejoin="round" stroke-linecap="round"/>
<polyline points="1548.5,1068.0 1523.5,1068.0 1493.5,1068.0 1472.0,1068.0" fill="none" stroke="#b0583f" stroke-width="4.0" stroke-linejoin="round" stroke-linecap="round"/>
<polyline points="1738.5,1068.0 1763.5,1068.0 1793.5,1068.0 1815.0,1068.0" fill="none" stroke="#3a2218" stroke-width="7.5" stroke-linejoin="round" stroke-linecap="round"/>
<polyline points="1738.5,1068.0 1763.5,1068.0 1793.5,1068.0 1815.0,1068.0" fill="none" stroke="#b0583f" stroke-width="4.0" stroke-linejoin="round" stroke-linecap="round"/>
<polyline points="1661.0,973.0 1661.0,948.0 1671.0,918.0 1671.0,897.0" fill="none" stroke="#3a2218" stroke-width="7.5" stroke-linejoin="round" stroke-linecap="round"/>
<polyline points="1661.0,973.0 1661.0,948.0 1671.0,918.0 1671.0,897.0" fill="none" stroke="#b0583f" stroke-width="4.0" stroke-linejoin="round" stroke-linecap="round"/>
<polyline points="1661.0,1163.0 1661.0,1188.0 1671.0,1218.0 1671.0,1239.0" fill="none" stroke="#3a2218" stroke-width="7.5" stroke-linejoin="round" stroke-linecap="round"/>
<polyline points="1661.0,1163.0 1661.0,1188.0 1671.0,1218.0 1671.0,1239.0" fill="none" stroke="#b0583f" stroke-width="4.0" stroke-linejoin="round" stroke-linecap="round"/>
<polyline points="1548.5,1085.5 1523.5,1085.5 1493.5,1095.5 1472.0,1095.5" fill="none" stroke="#3a2218" stroke-width="7.5" stroke-linejoin="round" stroke-linecap="round"/>
<polyline points="1548.5,1085.5 1523.5,1085.5 1493.5,1095.5 1472.0,1095.5" fill="none" stroke="#b0583f" stroke-width="4.0" stroke-linejoin="round" stroke-linecap="round"/>
<polyline points="1738.5,1085.5 1763.5,1085.5 1793.5,1095.5 1815.0,1095.5" fill="none" stroke="#3a2218" stroke-width="7.5" stroke-linejoin="round" stroke-linecap="round"/>
<polyline points="1738.5,1085.5 1763.5,1085.5 1793.5,1095.5 1815.0,1095.5" fill="none" stroke="#b0583f" stroke-width="4.0" stroke-linejoin="round" stroke-linecap="round"/>
<polyline points="1678.5,973.0 1678.5,948.0 1698.5,918.0 1698.5,897.0" fill="none" stroke="#3a2218" stroke-width="7.5" stroke-linejoin="round" stroke-linecap="round"/>
<polyline points="1678.5,973.0 1678.5,948.0 1698.5,918.0 1698.5,897.0" fill="none" stroke="#b0583f" stroke-width="4.0" stroke-linejoin="round" stroke-linecap="round"/>
<polyline points="1678.5,1163.0 1678.5,1188.0 1698.5,1218.0 1698.5,1239.0" fill="none" stroke="#3a2218" stroke-width="7.5" stroke-linejoin="round" stroke-linecap="round"/>
<polyline points="1678.5,1163.0 1678.5,1188.0 1698.5,1218.0 1698.5,1239.0" fill="none" stroke="#b0583f" stroke-width="4.0" stroke-linejoin="round" stroke-linecap="round"/>
<polyline points="1548.5,1103.0 1523.5,1103.0 1493.5,1123.0 1472.0,1123.0" fill="none" stroke="#3a2218" stroke-width="7.5" stroke-linejoin="round" stroke-linecap="round"/>
<polyline points="1548.5,1103.0 1523.5,1103.0 1493.5,1123.0 1472.0,1123.0" fill="none" stroke="#b0583f" stroke-width="4.0" stroke-linejoin="round" stroke-linecap="round"/>
<polyline points="1738.5,1103.0 1763.5,1103.0 1793.5,1123.0 1815.0,1123.0" fill="none" stroke="#3a2218" stroke-width="7.5" stroke-linejoin="round" stroke-linecap="round"/>
<polyline points="1738.5,1103.0 1763.5,1103.0 1793.5,1123.0 1815.0,1123.0" fill="none" stroke="#b0583f" stroke-width="4.0" stroke-linejoin="round" stroke-linecap="round"/>
<polyline points="1696.0,973.0 1696.0,948.0 1726.0,918.0 1726.0,897.0" fill="none" stroke="#3a2218" stroke-width="7.5" stroke-linejoin="round" stroke-linecap="round"/>
<polyline points="1696.0,973.0 1696.0,948.0 1726.0,918.0 1726.0,897.0" fill="none" stroke="#b0583f" stroke-width="4.0" stroke-linejoin="round" stroke-linecap="round"/>
<polyline points="1696.0,1163.0 1696.0,1188.0 1726.0,1218.0 1726.0,1239.0" fill="none" stroke="#3a2218" stroke-width="7.5" stroke-linejoin="round" stroke-linecap="round"/>
<polyline points="1696.0,1163.0 1696.0,1188.0 1726.0,1218.0 1726.0,1239.0" fill="none" stroke="#b0583f" stroke-width="4.0" stroke-linejoin="round" stroke-linecap="round"/>
<polyline points="1548.5,1120.5 1523.5,1120.5 1493.5,1150.5 1472.0,1150.5" fill="none" stroke="#3a2218" stroke-width="7.5" stroke-linejoin="round" stroke-linecap="round"/>
<polyline points="1548.5,1120.5 1523.5,1120.5 1493.5,1150.5 1472.0,1150.5" fill="none" stroke="#b0583f" stroke-width="4.0" stroke-linejoin="round" stroke-linecap="round"/>
<polyline points="1738.5,1120.5 1763.5,1120.5 1793.5,1150.5 1815.0,1150.5" fill="none" stroke="#3a2218" stroke-width="7.5" stroke-linejoin="round" stroke-linecap="round"/>
<polyline points="1738.5,1120.5 1763.5,1120.5 1793.5,1150.5 1815.0,1150.5" fill="none" stroke="#b0583f" stroke-width="4.0" stroke-linejoin="round" stroke-linecap="round"/>
<polyline points="1713.5,973.0 1713.5,948.0 1753.5,918.0 1753.5,897.0" fill="none" stroke="#3a2218" stroke-width="7.5" stroke-linejoin="round" stroke-linecap="round"/>
<polyline points="1713.5,973.0 1713.5,948.0 1753.5,918.0 1753.5,897.0" fill="none" stroke="#b0583f" stroke-width="4.0" stroke-linejoin="round" stroke-linecap="round"/>
<polyline points="1713.5,1163.0 1713.5,1188.0 1753.5,1218.0 1753.5,1239.0" fill="none" stroke="#3a2218" stroke-width="7.5" stroke-linejoin="round" stroke-linecap="round"/>
<polyline points="1713.5,1163.0 1713.5,1188.0 1753.5,1218.0 1753.5,1239.0" fill="none" stroke="#b0583f" stroke-width="4.0" stroke-linejoin="round" stroke-linecap="round"/>
<polyline points="1548.5,1138.0 1523.5,1138.0 1493.5,1178.0 1472.0,1178.0" fill="none" stroke="#3a2218" stroke-width="7.5" stroke-linejoin="round" stroke-linecap="round"/>
<polyline points="1548.5,1138.0 1523.5,1138.0 1493.5,1178.0 1472.0,1178.0" fill="none" stroke="#b0583f" stroke-width="4.0" stroke-linejoin="round" stroke-linecap="round"/>
<polyline points="1738.5,1138.0 1763.5,1138.0 1793.5,1178.0 1815.0,1178.0" fill="none" stroke="#3a2218" stroke-width="7.5" stroke-linejoin="round" stroke-linecap="round"/>
<polyline points="1738.5,1138.0 1763.5,1138.0 1793.5,1178.0 1815.0,1178.0" fill="none" stroke="#b0583f" stroke-width="4.0" stroke-linejoin="round" stroke-linecap="round"/>
<rect x="1557.0" y="959.5" width="8.0" height="9.0" fill="#f0e8d0" />
<rect x="1557.0" y="1167.5" width="8.0" height="9.0" fill="#f0e8d0" />
<rect x="1535.0" y="981.5" width="9.0" height="8.0" fill="#f0e8d0" />
<rect x="1743.0" y="981.5" width="9.0" height="8.0" fill="#f0e8d0" />
<rect x="1580.6" y="959.5" width="8.0" height="9.0" fill="#f0e8d0" />
<rect x="1580.6" y="1167.5" width="8.0" height="9.0" fill="#f0e8d0" />
<rect x="1535.0" y="1005.1" width="9.0" height="8.0" fill="#f0e8d0" />
<rect x="1743.0" y="1005.1" width="9.0" height="8.0" fill="#f0e8d0" />
<rect x="1604.2" y="959.5" width="8.0" height="9.0" fill="#f0e8d0" />
<rect x="1604.2" y="1167.5" width="8.0" height="9.0" fill="#f0e8d0" />
<rect x="1535.0" y="1028.7" width="9.0" height="8.0" fill="#f0e8d0" />
<rect x="1743.0" y="1028.7" width="9.0" height="8.0" fill="#f0e8d0" />
<rect x="1627.7" y="959.5" width="8.0" height="9.0" fill="#f0e8d0" />
<rect x="1627.7" y="1167.5" width="8.0" height="9.0" fill="#f0e8d0" />
<rect x="1535.0" y="1052.2" width="9.0" height="8.0" fill="#f0e8d0" />
<rect x="1743.0" y="1052.2" width="9.0" height="8.0" fill="#f0e8d0" />
<rect x="1651.3" y="959.5" width="8.0" height="9.0" fill="#f0e8d0" />
<rect x="1651.3" y="1167.5" width="8.0" height="9.0" fill="#f0e8d0" />
<rect x="1535.0" y="1075.8" width="9.0" height="8.0" fill="#f0e8d0" />
<rect x="1743.0" y="1075.8" width="9.0" height="8.0" fill="#f0e8d0" />
<rect x="1674.8" y="959.5" width="8.0" height="9.0" fill="#f0e8d0" />
<rect x="1674.8" y="1167.5" width="8.0" height="9.0" fill="#f0e8d0" />
<rect x="1535.0" y="1099.3" width="9.0" height="8.0" fill="#f0e8d0" />
<rect x="1743.0" y="1099.3" width="9.0" height="8.0" fill="#f0e8d0" />
<rect x="1698.4" y="959.5" width="8.0" height="9.0" fill="#f0e8d0" />
<rect x="1698.4" y="1167.5" width="8.0" height="9.0" fill="#f0e8d0" />
<rect x="1535.0" y="1122.9" width="9.0" height="8.0" fill="#f0e8d0" />
<rect x="1743.0" y="1122.9" width="9.0" height="8.0" fill="#f0e8d0" />
<rect x="1722.0" y="959.5" width="8.0" height="9.0" fill="#f0e8d0" />
<rect x="1722.0" y="1167.5" width="8.0" height="9.0" fill="#f0e8d0" />
<rect x="1535.0" y="1146.5" width="9.0" height="8.0" fill="#f0e8d0" />
<rect x="1743.0" y="1146.5" width="9.0" height="8.0" fill="#f0e8d0" />
<rect x="1547.0" y="971.5" width="192.9" height="192.9" fill="#2a0f0b" />
<rect x="1550.0" y="974.5" width="186.9" height="186.9" fill="#8a3a30" />
<rect x="1568.3" y="992.8" width="150.5" height="150.5" fill="#b0564a" />
<polygon points="1568.3,992.8 1718.7,992.8 1701.4,1010.1 1585.6,1010.1" fill="#9a4436" />
<polygon points="1568.3,1143.2 1718.7,1143.2 1701.4,1125.9 1585.6,1125.9" fill="#7e3229" />
<rect x="1585.6" y="1010.1" width="115.8" height="115.8" fill="#c06a5a" />
<polyline points="1633.5,975.5 1639.5,1018.0 1631.5,1038.0 1643.5,1058.0" fill="none" stroke="#2a0f0b" stroke-width="3"/>
<polyline points="1663.5,1073.0 1683.5,1088.0 1703.5,1078.0 1723.5,1088.0" fill="none" stroke="#2a0f0b" stroke-width="3"/>
<polyline points="1648.5,1108.0 1638.5,1138.0 1633.5,1158.0" fill="none" stroke="#2a0f0b" stroke-width="3"/>
<line x1="1541.5" y1="966.0" x2="1745.5" y2="1170.0" stroke="#1a0806" stroke-width="34" stroke-linecap="round"/>
<line x1="1745.5" y1="966.0" x2="1541.5" y2="1170.0" stroke="#1a0806" stroke-width="34" stroke-linecap="round"/>
<line x1="1541.5" y1="966.0" x2="1745.5" y2="1170.0" stroke="#e82d2d" stroke-width="27" stroke-linecap="round"/>
<line x1="1745.5" y1="966.0" x2="1541.5" y2="1170.0" stroke="#e82d2d" stroke-width="27" stroke-linecap="round"/>
<line x1="1451.8" y1="923.2" x2="1413.0" y2="962.0" stroke="#1a2028" stroke-width="16" stroke-linecap="square"/>
<line x1="1451.8" y1="923.2" x2="1413.0" y2="962.0" stroke="#6a7a8c" stroke-width="9" stroke-linecap="square"/>
<circle cx="1471.0" cy="904.0" r="35.0" fill="#1a2028"/>
<circle cx="1471.0" cy="904.0" r="32.0" fill="#8c9cb0"/>
<circle cx="1471.0" cy="904.0" r="23.0" fill="#5a6c84" stroke="#2a3440" stroke-width="2"/>
<rect x="1472.6" y="889.6" width="8.0" height="6.4" fill="#e8f0f8"/>
<text x="1643.3" y="1294.5" font-size="45.8" font-weight="bold" text-anchor="middle" textLength="311.0" lengthAdjust="spacingAndGlyphs" fill="#3a0c08" stroke="#3a0c08" stroke-width="9.0" stroke-linejoin="round">Component Failure</text>
<text x="1643.3" y="1294.5" font-size="45.8" font-weight="bold" text-anchor="middle" textLength="311.0" lengthAdjust="spacingAndGlyphs" fill="#e0463c" stroke="#e0463c" stroke-width="2.0" stroke-linejoin="round" >Component Failure</text>
<g transform="translate(1901.0 807.4) scale(0.2990)" stroke-linejoin="round">
<polygon points="55,905 235,790 890,790 1055,905 1055,1175 880,1290 640,1400 500,1400 270,1290 55,1175" fill="#327a4d" stroke="#16241a" stroke-width="9"/>
<polygon points="60,905 235,795 890,795 1050,905 640,1130 500,1130" fill="#5ab56a" stroke="#16241a" stroke-width="9"/>
<polyline points="70,910 500,1125 640,1125 1040,910" fill="none" stroke="#7bd67e" stroke-width="10"/>
<polygon points="500,1130 640,1130 640,1400 500,1400" fill="#3f8f58" stroke="#16241a" stroke-width="9"/>
<rect x="540" y="1200" width="45" height="10" fill="#25573e"/>
<rect x="540" y="1250" width="45" height="10" fill="#25573e"/>
<rect x="540" y="1300" width="45" height="10" fill="#25573e"/>
<rect x="540" y="1350" width="45" height="10" fill="#25573e"/>
<polygon points="90,1085 210,1035 370,1120 265,1170" fill="#5ab56a" stroke="#16241a" stroke-width="9"/>
<polygon points="90,1085 265,1170 265,1300 90,1215" fill="#3f8f58" stroke="#16241a" stroke-width="9"/>
<polygon points="265,1170 370,1120 370,1345 265,1300" fill="#327a4d" stroke="#16241a" stroke-width="9"/>
<polyline points="95,1180 265,1265 370,1215" fill="none" stroke="#16241a" stroke-width="8"/>
<polygon points="760,1120 930,1030 1045,1085 880,1170" fill="#5ab56a" stroke="#16241a" stroke-width="9"/>
<polygon points="760,1120 880,1170 880,1340 760,1290" fill="#3f8f58" stroke="#16241a" stroke-width="9"/>
<polygon points="880,1170 1045,1085 1045,1240 880,1340" fill="#327a4d" stroke="#16241a" stroke-width="9"/>
<polyline points="765,1215 880,1265 1040,1180" fill="none" stroke="#16241a" stroke-width="8"/>
<ellipse cx="560" cy="965" rx="330" ry="112" fill="#3f8f58" stroke="#16241a" stroke-width="9"/>
<ellipse cx="560" cy="925" rx="322" ry="100" fill="#5ab56a" stroke="#16241a" stroke-width="9"/>
<ellipse cx="560" cy="915" rx="270" ry="78" fill="#3f8f58" stroke="#16241a" stroke-width="6"/>
<g transform="translate(0 930) scale(1 0.900) translate(0 -930)">
<polygon points="600,560 800,545 850,650 870,850 820,900 650,935" fill="#25573e" stroke="#16241a" stroke-width="9"/>
<polygon points="290,500 330,480 470,470 560,520 640,620 650,935 560,950 420,935 300,900 285,700" fill="#4a9e60" stroke="#16241a" stroke-width="9"/>
<path d="M480 490 Q600 560 620 900" fill="none" stroke="#7bd67e" stroke-width="26"/>
<ellipse cx="405" cy="640" rx="55" ry="85" fill="#3f8f58" stroke="#16241a" stroke-width="8"/>
<polygon points="640,330 1077,270 1115,300 1125,484 746,568 640,560" fill="#3f8c57" stroke="#16241a" stroke-width="9"/>
<line x1="640" y1="371" x2="1086" y2="309" stroke="#7bd67e" stroke-width="14"/>
<line x1="640" y1="413" x2="1094" y2="347" stroke="#25573e" stroke-width="14"/>
<line x1="640" y1="456" x2="1103" y2="388" stroke="#7bd67e" stroke-width="14"/>
<line x1="640" y1="502" x2="1113" y2="430" stroke="#25573e" stroke-width="14"/>
<line x1="771" y1="312" x2="672" y2="562" stroke="#16241a" stroke-width="9"/>
<line x1="911" y1="293" x2="706" y2="565" stroke="#16241a" stroke-width="9"/>
<line x1="1033" y1="276" x2="735" y2="567" stroke="#16241a" stroke-width="9"/>
<polygon points="115,520 150,440 250,375 340,300 430,262 500,242 660,240 740,262 790,330 800,430 740,520 640,560 560,520 470,470 330,480 300,580 290,690 200,690 130,620" fill="#4fa463" stroke="#16241a" stroke-width="9"/>
<path d="M160 470 Q300 330 520 280 L700 270" fill="none" stroke="#7bd67e" stroke-width="22"/>
<path d="M560 262 Q700 330 760 520" fill="none" stroke="#7bd67e" stroke-width="16"/>
<path d="M125 560 Q200 650 290 680" fill="none" stroke="#327a4d" stroke-width="30"/>
</g>
</g>
<polygon points="2224.1,939.9 2235.3,934.2 2223.1,928.6 2236.5,927.8 2219.4,912.9 2240.0,922.3 2236.7,911.8 2245.4,918.6 2244.2,897.2 2251.8,916.0 2259.8,892.0 2259.6,915.1 2287.7,879.1 2267.5,918.1 2298.6,902.0 2273.3,924.8 2314.5,920.7 2275.2,933.7 2308.6,944.5 2272.6,942.2 2302.8,967.0 2266.6,948.2 2283.8,980.3 2259.1,950.5 2259.6,969.7 2252.2,950.7 2244.9,972.3 2245.8,949.5 2236.1,958.5 2240.3,946.0 2218.6,957.0 2236.6,940.6" fill="#3fd24a" />
<polygon points="2231.9,938.3 2240.0,934.2 2231.2,930.1 2240.8,929.5 2228.6,918.8 2243.4,925.6 2241.0,918.0 2247.2,922.9 2246.4,907.5 2251.8,921.0 2257.6,903.8 2257.4,920.4 2277.7,894.5 2263.2,922.5 2285.5,911.0 2267.3,927.4 2297.0,924.4 2268.7,933.8 2292.8,941.6 2266.9,939.9 2288.6,957.8 2262.5,944.2 2274.9,967.3 2257.1,945.9 2257.5,959.7 2252.2,946.0 2246.9,961.5 2247.5,945.2 2240.5,951.6 2243.6,942.6 2227.9,950.5 2240.9,938.8" fill="#74ec70" />
<circle cx="2252.0" cy="934.0" r="35.2" fill="url(#flash)"/>
<g transform="translate(2414.0 883.5) rotate(-12) scale(1.00)">
<rect x="-48" y="-6" width="5.0" height="5.0" fill="#5fd862"/>
<rect x="-56" y="1" width="5.0" height="5.0" fill="#5fd862"/>
<rect x="-62" y="-3" width="4.0" height="4.0" fill="#5fd862"/>
<rect x="-52" y="7" width="5.0" height="5.0" fill="#5fd862"/>
<rect x="-68" y="4" width="4.0" height="4.0" fill="#5fd862"/>
<rect x="-44" y="-9" width="4.0" height="4.0" fill="#5fd862"/>
<rect x="-72" y="-1" width="3.0" height="3.0" fill="#5fd862"/>
<rect x="-60" y="8" width="4.0" height="4.0" fill="#5fd862"/>
<polygon points="0,-11 -24,-9 -44,-6 -52,0 -44,7 -22,10 0,11" fill="#2cb53e"/>
<polygon points="0,-7 -22,-5 -40,0 -22,6 0,7" fill="#5cdc5c"/>
<ellipse cx="0" cy="0" rx="13" ry="11" fill="#22a836"/>
<ellipse cx="0" cy="0" rx="10" ry="8" fill="#62e062"/>
<ellipse cx="2" cy="-1" rx="6" ry="5" fill="#efffea"/>
</g>
<g transform="translate(2395.6 915.0) rotate(-12) scale(1.00)">
<rect x="-48" y="-6" width="5.0" height="5.0" fill="#5fd862"/>
<rect x="-56" y="1" width="5.0" height="5.0" fill="#5fd862"/>
<rect x="-62" y="-3" width="4.0" height="4.0" fill="#5fd862"/>
<rect x="-52" y="7" width="5.0" height="5.0" fill="#5fd862"/>
<rect x="-68" y="4" width="4.0" height="4.0" fill="#5fd862"/>
<rect x="-44" y="-9" width="4.0" height="4.0" fill="#5fd862"/>
<rect x="-72" y="-1" width="3.0" height="3.0" fill="#5fd862"/>
<rect x="-60" y="8" width="4.0" height="4.0" fill="#5fd862"/>
<polygon points="0,-11 -24,-9 -44,-6 -52,0 -44,7 -22,10 0,11" fill="#2cb53e"/>
<polygon points="0,-7 -22,-5 -40,0 -22,6 0,7" fill="#5cdc5c"/>
<ellipse cx="0" cy="0" rx="13" ry="11" fill="#22a836"/>
<ellipse cx="0" cy="0" rx="10" ry="8" fill="#62e062"/>
<ellipse cx="2" cy="-1" rx="6" ry="5" fill="#efffea"/>
</g>
<g transform="translate(2461.0 922.0) rotate(-12) scale(1.00)">
<rect x="-48" y="-6" width="5.0" height="5.0" fill="#5fd862"/>
<rect x="-56" y="1" width="5.0" height="5.0" fill="#5fd862"/>
<rect x="-62" y="-3" width="4.0" height="4.0" fill="#5fd862"/>
<rect x="-52" y="7" width="5.0" height="5.0" fill="#5fd862"/>
<rect x="-68" y="4" width="4.0" height="4.0" fill="#5fd862"/>
<rect x="-44" y="-9" width="4.0" height="4.0" fill="#5fd862"/>
<rect x="-72" y="-1" width="3.0" height="3.0" fill="#5fd862"/>
<rect x="-60" y="8" width="4.0" height="4.0" fill="#5fd862"/>
<polygon points="0,-11 -24,-9 -44,-6 -52,0 -44,7 -22,10 0,11" fill="#2cb53e"/>
<polygon points="0,-7 -22,-5 -40,0 -22,6 0,7" fill="#5cdc5c"/>
<ellipse cx="0" cy="0" rx="13" ry="11" fill="#22a836"/>
<ellipse cx="0" cy="0" rx="10" ry="8" fill="#62e062"/>
<ellipse cx="2" cy="-1" rx="6" ry="5" fill="#efffea"/>
</g>
<g transform="translate(2525.4 862.5) rotate(-12) scale(1.00)">
<rect x="-48" y="-6" width="5.0" height="5.0" fill="#5fd862"/>
<rect x="-56" y="1" width="5.0" height="5.0" fill="#5fd862"/>
<rect x="-62" y="-3" width="4.0" height="4.0" fill="#5fd862"/>
<rect x="-52" y="7" width="5.0" height="5.0" fill="#5fd862"/>
<rect x="-68" y="4" width="4.0" height="4.0" fill="#5fd862"/>
<rect x="-44" y="-9" width="4.0" height="4.0" fill="#5fd862"/>
<rect x="-72" y="-1" width="3.0" height="3.0" fill="#5fd862"/>
<rect x="-60" y="8" width="4.0" height="4.0" fill="#5fd862"/>
<polygon points="0,-11 -24,-9 -44,-6 -52,0 -44,7 -22,10 0,11" fill="#2cb53e"/>
<polygon points="0,-7 -22,-5 -40,0 -22,6 0,7" fill="#5cdc5c"/>
<ellipse cx="0" cy="0" rx="13" ry="11" fill="#22a836"/>
<ellipse cx="0" cy="0" rx="10" ry="8" fill="#62e062"/>
<ellipse cx="2" cy="-1" rx="6" ry="5" fill="#efffea"/>
</g>
<g transform="translate(2579.0 899.0) rotate(-12) scale(1.00)">
<rect x="-48" y="-6" width="5.0" height="5.0" fill="#5fd862"/>
<rect x="-56" y="1" width="5.0" height="5.0" fill="#5fd862"/>
<rect x="-62" y="-3" width="4.0" height="4.0" fill="#5fd862"/>
<rect x="-52" y="7" width="5.0" height="5.0" fill="#5fd862"/>
<rect x="-68" y="4" width="4.0" height="4.0" fill="#5fd862"/>
<rect x="-44" y="-9" width="4.0" height="4.0" fill="#5fd862"/>
<rect x="-72" y="-1" width="3.0" height="3.0" fill="#5fd862"/>
<rect x="-60" y="8" width="4.0" height="4.0" fill="#5fd862"/>
<polygon points="0,-11 -24,-9 -44,-6 -52,0 -44,7 -22,10 0,11" fill="#2cb53e"/>
<polygon points="0,-7 -22,-5 -40,0 -22,6 0,7" fill="#5cdc5c"/>
<ellipse cx="0" cy="0" rx="13" ry="11" fill="#22a836"/>
<ellipse cx="0" cy="0" rx="10" ry="8" fill="#62e062"/>
<ellipse cx="2" cy="-1" rx="6" ry="5" fill="#efffea"/>
</g>
<g transform="translate(2606.0 866.0) rotate(-12) scale(1.00)">
<rect x="-48" y="-6" width="5.0" height="5.0" fill="#5fd862"/>
<rect x="-56" y="1" width="5.0" height="5.0" fill="#5fd862"/>
<rect x="-62" y="-3" width="4.0" height="4.0" fill="#5fd862"/>
<rect x="-52" y="7" width="5.0" height="5.0" fill="#5fd862"/>
<rect x="-68" y="4" width="4.0" height="4.0" fill="#5fd862"/>
<rect x="-44" y="-9" width="4.0" height="4.0" fill="#5fd862"/>
<rect x="-72" y="-1" width="3.0" height="3.0" fill="#5fd862"/>
<rect x="-60" y="8" width="4.0" height="4.0" fill="#5fd862"/>
<polygon points="0,-11 -24,-9 -44,-6 -52,0 -44,7 -22,10 0,11" fill="#2cb53e"/>
<polygon points="0,-7 -22,-5 -40,0 -22,6 0,7" fill="#5cdc5c"/>
<ellipse cx="0" cy="0" rx="13" ry="11" fill="#22a836"/>
<ellipse cx="0" cy="0" rx="10" ry="8" fill="#62e062"/>
<ellipse cx="2" cy="-1" rx="6" ry="5" fill="#efffea"/>
</g>
<g transform="translate(2693.0 850.0) rotate(-12) scale(1.00)">
<rect x="-48" y="-6" width="5.0" height="5.0" fill="#5fd862"/>
<rect x="-56" y="1" width="5.0" height="5.0" fill="#5fd862"/>
<rect x="-62" y="-3" width="4.0" height="4.0" fill="#5fd862"/>
<rect x="-52" y="7" width="5.0" height="5.0" fill="#5fd862"/>
<rect x="-68" y="4" width="4.0" height="4.0" fill="#5fd862"/>
<rect x="-44" y="-9" width="4.0" height="4.0" fill="#5fd862"/>
<rect x="-72" y="-1" width="3.0" height="3.0" fill="#5fd862"/>
<rect x="-60" y="8" width="4.0" height="4.0" fill="#5fd862"/>
<polygon points="0,-11 -24,-9 -44,-6 -52,0 -44,7 -22,10 0,11" fill="#2cb53e"/>
<polygon points="0,-7 -22,-5 -40,0 -22,6 0,7" fill="#5cdc5c"/>
<ellipse cx="0" cy="0" rx="13" ry="11" fill="#22a836"/>
<ellipse cx="0" cy="0" rx="10" ry="8" fill="#62e062"/>
<ellipse cx="2" cy="-1" rx="6" ry="5" fill="#efffea"/>
</g>
<g transform="translate(2752.0 815.0) rotate(-12) scale(1.00)">
<rect x="-48" y="-6" width="5.0" height="5.0" fill="#5fd862"/>
<rect x="-56" y="1" width="5.0" height="5.0" fill="#5fd862"/>
<rect x="-62" y="-3" width="4.0" height="4.0" fill="#5fd862"/>
<rect x="-52" y="7" width="5.0" height="5.0" fill="#5fd862"/>
<rect x="-68" y="4" width="4.0" height="4.0" fill="#5fd862"/>
<rect x="-44" y="-9" width="4.0" height="4.0" fill="#5fd862"/>
<rect x="-72" y="-1" width="3.0" height="3.0" fill="#5fd862"/>
<rect x="-60" y="8" width="4.0" height="4.0" fill="#5fd862"/>
<polygon points="0,-11 -24,-9 -44,-6 -52,0 -44,7 -22,10 0,11" fill="#2cb53e"/>
<polygon points="0,-7 -22,-5 -40,0 -22,6 0,7" fill="#5cdc5c"/>
<ellipse cx="0" cy="0" rx="13" ry="11" fill="#22a836"/>
<ellipse cx="0" cy="0" rx="10" ry="8" fill="#62e062"/>
<ellipse cx="2" cy="-1" rx="6" ry="5" fill="#efffea"/>
</g>
<g transform="translate(2752.0 868.0) rotate(-12) scale(1.00)">
<rect x="-48" y="-6" width="5.0" height="5.0" fill="#5fd862"/>
<rect x="-56" y="1" width="5.0" height="5.0" fill="#5fd862"/>
<rect x="-62" y="-3" width="4.0" height="4.0" fill="#5fd862"/>
<rect x="-52" y="7" width="5.0" height="5.0" fill="#5fd862"/>
<rect x="-68" y="4" width="4.0" height="4.0" fill="#5fd862"/>
<rect x="-44" y="-9" width="4.0" height="4.0" fill="#5fd862"/>
<rect x="-72" y="-1" width="3.0" height="3.0" fill="#5fd862"/>
<rect x="-60" y="8" width="4.0" height="4.0" fill="#5fd862"/>
<polygon points="0,-11 -24,-9 -44,-6 -52,0 -44,7 -22,10 0,11" fill="#2cb53e"/>
<polygon points="0,-7 -22,-5 -40,0 -22,6 0,7" fill="#5cdc5c"/>
<ellipse cx="0" cy="0" rx="13" ry="11" fill="#22a836"/>
<ellipse cx="0" cy="0" rx="10" ry="8" fill="#62e062"/>
<ellipse cx="2" cy="-1" rx="6" ry="5" fill="#efffea"/>
</g>
<path d="M1854.0 1052.0h24.8v4.3h-24.8zM1849.0 1056.3h29.7v4.3h-29.7zM1849.0 1060.6h9.9v4.3h-9.9zM1849.0 1064.9h9.9v4.3h-9.9zM1849.0 1069.2h24.8v4.3h-24.8zM1854.0 1073.5h24.8v4.3h-24.8zM1868.8 1077.8h9.9v4.3h-9.9zM1868.8 1082.1h9.9v4.3h-9.9zM1849.0 1086.4h29.7v4.3h-29.7zM1849.0 1090.7h24.8v4.3h-24.8zM1883.6 1052.0h9.9v4.3h-9.9zM1903.4 1052.0h9.9v4.3h-9.9zM1883.6 1056.3h9.9v4.3h-9.9zM1903.4 1056.3h9.9v4.3h-9.9zM1883.6 1060.6h9.9v4.3h-9.9zM1903.4 1060.6h9.9v4.3h-9.9zM1883.6 1064.9h29.7v4.3h-29.7zM1888.5 1069.2h19.8v4.3h-19.8zM1893.5 1073.5h9.9v4.3h-9.9zM1893.5 1077.8h9.9v4.3h-9.9zM1893.5 1082.1h9.9v4.3h-9.9zM1893.5 1086.4h9.9v4.3h-9.9zM1893.5 1090.7h9.9v4.3h-9.9zM1923.1 1052.0h24.8v4.3h-24.8zM1918.2 1056.3h29.7v4.3h-29.7zM1918.2 1060.6h9.9v4.3h-9.9zM1918.2 1064.9h9.9v4.3h-9.9zM1918.2 1069.2h24.8v4.3h-24.8zM1923.1 1073.5h24.8v4.3h-24.8zM1938.0 1077.8h9.9v4.3h-9.9zM1938.0 1082.1h9.9v4.3h-9.9zM1918.2 1086.4h29.7v4.3h-29.7zM1918.2 1090.7h24.8v4.3h-24.8zM1952.8 1052.0h29.7v4.3h-29.7zM1952.8 1056.3h29.7v4.3h-29.7zM1962.7 1060.6h9.9v4.3h-9.9zM1962.7 1064.9h9.9v4.3h-9.9zM1962.7 1069.2h9.9v4.3h-9.9zM1962.7 1073.5h9.9v4.3h-9.9zM1962.7 1077.8h9.9v4.3h-9.9zM1962.7 1082.1h9.9v4.3h-9.9zM1962.7 1086.4h9.9v4.3h-9.9zM1962.7 1090.7h9.9v4.3h-9.9zM1987.4 1052.0h29.7v4.3h-29.7zM1987.4 1056.3h29.7v4.3h-29.7zM1987.4 1060.6h9.9v4.3h-9.9zM1987.4 1064.9h9.9v4.3h-9.9zM1987.4 1069.2h24.8v4.3h-24.8zM1987.4 1073.5h24.8v4.3h-24.8zM1987.4 1077.8h9.9v4.3h-9.9zM1987.4 1082.1h9.9v4.3h-9.9zM1987.4 1086.4h29.7v4.3h-29.7zM1987.4 1090.7h29.7v4.3h-29.7zM2022.0 1052.0h8.5v4.3h-8.5zM2043.2 1052.0h8.5v4.3h-8.5zM2022.0 1056.3h12.7v4.3h-12.7zM2039.0 1056.3h12.7v4.3h-12.7zM2022.0 1060.6h29.7v4.3h-29.7zM2022.0 1064.9h8.5v4.3h-8.5zM2034.7 1064.9h4.2v4.3h-4.2zM2043.2 1064.9h8.5v4.3h-8.5zM2022.0 1069.2h8.5v4.3h-8.5zM2043.2 1069.2h8.5v4.3h-8.5zM2022.0 1073.5h8.5v4.3h-8.5zM2043.2 1073.5h8.5v4.3h-8.5zM2022.0 1077.8h8.5v4.3h-8.5zM2043.2 1077.8h8.5v4.3h-8.5zM2022.0 1082.1h8.5v4.3h-8.5zM2043.2 1082.1h8.5v4.3h-8.5zM2022.0 1086.4h8.5v4.3h-8.5zM2043.2 1086.4h8.5v4.3h-8.5zM2022.0 1090.7h8.5v4.3h-8.5zM2043.2 1090.7h8.5v4.3h-8.5zM2096.1 1052.0h19.8v4.3h-19.8zM2091.2 1056.3h29.7v4.3h-29.7zM2091.2 1060.6h9.9v4.3h-9.9zM2111.0 1060.6h9.9v4.3h-9.9zM2091.2 1064.9h9.9v4.3h-9.9zM2111.0 1064.9h9.9v4.3h-9.9zM2091.2 1069.2h9.9v4.3h-9.9zM2111.0 1069.2h9.9v4.3h-9.9zM2091.2 1073.5h9.9v4.3h-9.9zM2111.0 1073.5h9.9v4.3h-9.9zM2091.2 1077.8h9.9v4.3h-9.9zM2111.0 1077.8h9.9v4.3h-9.9zM2091.2 1082.1h9.9v4.3h-9.9zM2111.0 1082.1h9.9v4.3h-9.9zM2091.2 1086.4h29.7v4.3h-29.7zM2096.1 1090.7h19.8v4.3h-19.8zM2125.8 1052.0h9.9v4.3h-9.9zM2145.6 1052.0h9.9v4.3h-9.9zM2125.8 1056.3h9.9v4.3h-9.9zM2145.6 1056.3h9.9v4.3h-9.9zM2125.8 1060.6h14.9v4.3h-14.9zM2145.6 1060.6h9.9v4.3h-9.9zM2125.8 1064.9h14.9v4.3h-14.9zM2145.6 1064.9h9.9v4.3h-9.9zM2125.8 1069.2h29.7v4.3h-29.7zM2125.8 1073.5h9.9v4.3h-9.9zM2140.6 1073.5h14.9v4.3h-14.9zM2125.8 1077.8h9.9v4.3h-9.9zM2140.6 1077.8h14.9v4.3h-14.9zM2125.8 1082.1h9.9v4.3h-9.9zM2140.6 1082.1h14.9v4.3h-14.9zM2125.8 1086.4h9.9v4.3h-9.9zM2145.6 1086.4h9.9v4.3h-9.9zM2125.8 1090.7h9.9v4.3h-9.9zM2145.6 1090.7h9.9v4.3h-9.9zM2160.4 1052.0h9.9v4.3h-9.9zM2160.4 1056.3h9.9v4.3h-9.9zM2160.4 1060.6h9.9v4.3h-9.9zM2160.4 1064.9h9.9v4.3h-9.9zM2160.4 1069.2h9.9v4.3h-9.9zM2160.4 1073.5h9.9v4.3h-9.9zM2160.4 1077.8h9.9v4.3h-9.9zM2160.4 1082.1h9.9v4.3h-9.9zM2160.4 1086.4h29.7v4.3h-29.7zM2160.4 1090.7h29.7v4.3h-29.7zM2195.0 1052.0h29.7v4.3h-29.7zM2195.0 1056.3h29.7v4.3h-29.7zM2204.9 1060.6h9.9v4.3h-9.9zM2204.9 1064.9h9.9v4.3h-9.9zM2204.9 1069.2h9.9v4.3h-9.9zM2204.9 1073.5h9.9v4.3h-9.9zM2204.9 1077.8h9.9v4.3h-9.9zM2204.9 1082.1h9.9v4.3h-9.9zM2195.0 1086.4h29.7v4.3h-29.7zM2195.0 1090.7h29.7v4.3h-29.7zM2229.6 1052.0h9.9v4.3h-9.9zM2249.4 1052.0h9.9v4.3h-9.9zM2229.6 1056.3h9.9v4.3h-9.9zM2249.4 1056.3h9.9v4.3h-9.9zM2229.6 1060.6h14.9v4.3h-14.9zM2249.4 1060.6h9.9v4.3h-9.9zM2229.6 1064.9h14.9v4.3h-14.9zM2249.4 1064.9h9.9v4.3h-9.9zM2229.6 1069.2h29.7v4.3h-29.7zM2229.6 1073.5h9.9v4.3h-9.9zM2244.4 1073.5h14.9v4.3h-14.9zM2229.6 1077.8h9.9v4.3h-9.9zM2244.4 1077.8h14.9v4.3h-14.9zM2229.6 1082.1h9.9v4.3h-9.9zM2244.4 1082.1h14.9v4.3h-14.9zM2229.6 1086.4h9.9v4.3h-9.9zM2249.4 1086.4h9.9v4.3h-9.9zM2229.6 1090.7h9.9v4.3h-9.9zM2249.4 1090.7h9.9v4.3h-9.9zM2264.2 1052.0h29.7v4.3h-29.7zM2264.2 1056.3h29.7v4.3h-29.7zM2264.2 1060.6h9.9v4.3h-9.9zM2264.2 1064.9h9.9v4.3h-9.9zM2264.2 1069.2h24.8v4.3h-24.8zM2264.2 1073.5h24.8v4.3h-24.8zM2264.2 1077.8h9.9v4.3h-9.9zM2264.2 1082.1h9.9v4.3h-9.9zM2264.2 1086.4h29.7v4.3h-29.7zM2264.2 1090.7h29.7v4.3h-29.7z" fill="#0d1a10" stroke="#0d1a10" stroke-width="10.0" stroke-linejoin="miter"/>
<path d="M1852.0 1050.0h24.8v4.3h-24.8zM1847.0 1054.3h29.7v4.3h-29.7zM1847.0 1058.6h9.9v4.3h-9.9zM1847.0 1062.9h9.9v4.3h-9.9zM1847.0 1067.2h24.8v4.3h-24.8zM1852.0 1071.5h24.8v4.3h-24.8zM1866.8 1075.8h9.9v4.3h-9.9zM1866.8 1080.1h9.9v4.3h-9.9zM1847.0 1084.4h29.7v4.3h-29.7zM1847.0 1088.7h24.8v4.3h-24.8zM1881.6 1050.0h9.9v4.3h-9.9zM1901.4 1050.0h9.9v4.3h-9.9zM1881.6 1054.3h9.9v4.3h-9.9zM1901.4 1054.3h9.9v4.3h-9.9zM1881.6 1058.6h9.9v4.3h-9.9zM1901.4 1058.6h9.9v4.3h-9.9zM1881.6 1062.9h29.7v4.3h-29.7zM1886.5 1067.2h19.8v4.3h-19.8zM1891.5 1071.5h9.9v4.3h-9.9zM1891.5 1075.8h9.9v4.3h-9.9zM1891.5 1080.1h9.9v4.3h-9.9zM1891.5 1084.4h9.9v4.3h-9.9zM1891.5 1088.7h9.9v4.3h-9.9zM1921.1 1050.0h24.8v4.3h-24.8zM1916.2 1054.3h29.7v4.3h-29.7zM1916.2 1058.6h9.9v4.3h-9.9zM1916.2 1062.9h9.9v4.3h-9.9zM1916.2 1067.2h24.8v4.3h-24.8zM1921.1 1071.5h24.8v4.3h-24.8zM1936.0 1075.8h9.9v4.3h-9.9zM1936.0 1080.1h9.9v4.3h-9.9zM1916.2 1084.4h29.7v4.3h-29.7zM1916.2 1088.7h24.8v4.3h-24.8zM1950.8 1050.0h29.7v4.3h-29.7zM1950.8 1054.3h29.7v4.3h-29.7zM1960.7 1058.6h9.9v4.3h-9.9zM1960.7 1062.9h9.9v4.3h-9.9zM1960.7 1067.2h9.9v4.3h-9.9zM1960.7 1071.5h9.9v4.3h-9.9zM1960.7 1075.8h9.9v4.3h-9.9zM1960.7 1080.1h9.9v4.3h-9.9zM1960.7 1084.4h9.9v4.3h-9.9zM1960.7 1088.7h9.9v4.3h-9.9zM1985.4 1050.0h29.7v4.3h-29.7zM1985.4 1054.3h29.7v4.3h-29.7zM1985.4 1058.6h9.9v4.3h-9.9zM1985.4 1062.9h9.9v4.3h-9.9zM1985.4 1067.2h24.8v4.3h-24.8zM1985.4 1071.5h24.8v4.3h-24.8zM1985.4 1075.8h9.9v4.3h-9.9zM1985.4 1080.1h9.9v4.3h-9.9zM1985.4 1084.4h29.7v4.3h-29.7zM1985.4 1088.7h29.7v4.3h-29.7zM2020.0 1050.0h8.5v4.3h-8.5zM2041.2 1050.0h8.5v4.3h-8.5zM2020.0 1054.3h12.7v4.3h-12.7zM2037.0 1054.3h12.7v4.3h-12.7zM2020.0 1058.6h29.7v4.3h-29.7zM2020.0 1062.9h8.5v4.3h-8.5zM2032.7 1062.9h4.2v4.3h-4.2zM2041.2 1062.9h8.5v4.3h-8.5zM2020.0 1067.2h8.5v4.3h-8.5zM2041.2 1067.2h8.5v4.3h-8.5zM2020.0 1071.5h8.5v4.3h-8.5zM2041.2 1071.5h8.5v4.3h-8.5zM2020.0 1075.8h8.5v4.3h-8.5zM2041.2 1075.8h8.5v4.3h-8.5zM2020.0 1080.1h8.5v4.3h-8.5zM2041.2 1080.1h8.5v4.3h-8.5zM2020.0 1084.4h8.5v4.3h-8.5zM2041.2 1084.4h8.5v4.3h-8.5zM2020.0 1088.7h8.5v4.3h-8.5zM2041.2 1088.7h8.5v4.3h-8.5zM2094.1 1050.0h19.8v4.3h-19.8zM2089.2 1054.3h29.7v4.3h-29.7zM2089.2 1058.6h9.9v4.3h-9.9zM2109.0 1058.6h9.9v4.3h-9.9zM2089.2 1062.9h9.9v4.3h-9.9zM2109.0 1062.9h9.9v4.3h-9.9zM2089.2 1067.2h9.9v4.3h-9.9zM2109.0 1067.2h9.9v4.3h-9.9zM2089.2 1071.5h9.9v4.3h-9.9zM2109.0 1071.5h9.9v4.3h-9.9zM2089.2 1075.8h9.9v4.3h-9.9zM2109.0 1075.8h9.9v4.3h-9.9zM2089.2 1080.1h9.9v4.3h-9.9zM2109.0 1080.1h9.9v4.3h-9.9zM2089.2 1084.4h29.7v4.3h-29.7zM2094.1 1088.7h19.8v4.3h-19.8zM2123.8 1050.0h9.9v4.3h-9.9zM2143.6 1050.0h9.9v4.3h-9.9zM2123.8 1054.3h9.9v4.3h-9.9zM2143.6 1054.3h9.9v4.3h-9.9zM2123.8 1058.6h14.9v4.3h-14.9zM2143.6 1058.6h9.9v4.3h-9.9zM2123.8 1062.9h14.9v4.3h-14.9zM2143.6 1062.9h9.9v4.3h-9.9zM2123.8 1067.2h29.7v4.3h-29.7zM2123.8 1071.5h9.9v4.3h-9.9zM2138.6 1071.5h14.9v4.3h-14.9zM2123.8 1075.8h9.9v4.3h-9.9zM2138.6 1075.8h14.9v4.3h-14.9zM2123.8 1080.1h9.9v4.3h-9.9zM2138.6 1080.1h14.9v4.3h-14.9zM2123.8 1084.4h9.9v4.3h-9.9zM2143.6 1084.4h9.9v4.3h-9.9zM2123.8 1088.7h9.9v4.3h-9.9zM2143.6 1088.7h9.9v4.3h-9.9zM2158.4 1050.0h9.9v4.3h-9.9zM2158.4 1054.3h9.9v4.3h-9.9zM2158.4 1058.6h9.9v4.3h-9.9zM2158.4 1062.9h9.9v4.3h-9.9zM2158.4 1067.2h9.9v4.3h-9.9zM2158.4 1071.5h9.9v4.3h-9.9zM2158.4 1075.8h9.9v4.3h-9.9zM2158.4 1080.1h9.9v4.3h-9.9zM2158.4 1084.4h29.7v4.3h-29.7zM2158.4 1088.7h29.7v4.3h-29.7zM2193.0 1050.0h29.7v4.3h-29.7zM2193.0 1054.3h29.7v4.3h-29.7zM2202.9 1058.6h9.9v4.3h-9.9zM2202.9 1062.9h9.9v4.3h-9.9zM2202.9 1067.2h9.9v4.3h-9.9zM2202.9 1071.5h9.9v4.3h-9.9zM2202.9 1075.8h9.9v4.3h-9.9zM2202.9 1080.1h9.9v4.3h-9.9zM2193.0 1084.4h29.7v4.3h-29.7zM2193.0 1088.7h29.7v4.3h-29.7zM2227.6 1050.0h9.9v4.3h-9.9zM2247.4 1050.0h9.9v4.3h-9.9zM2227.6 1054.3h9.9v4.3h-9.9zM2247.4 1054.3h9.9v4.3h-9.9zM2227.6 1058.6h14.9v4.3h-14.9zM2247.4 1058.6h9.9v4.3h-9.9zM2227.6 1062.9h14.9v4.3h-14.9zM2247.4 1062.9h9.9v4.3h-9.9zM2227.6 1067.2h29.7v4.3h-29.7zM2227.6 1071.5h9.9v4.3h-9.9zM2242.4 1071.5h14.9v4.3h-14.9zM2227.6 1075.8h9.9v4.3h-9.9zM2242.4 1075.8h14.9v4.3h-14.9zM2227.6 1080.1h9.9v4.3h-9.9zM2242.4 1080.1h14.9v4.3h-14.9zM2227.6 1084.4h9.9v4.3h-9.9zM2247.4 1084.4h9.9v4.3h-9.9zM2227.6 1088.7h9.9v4.3h-9.9zM2247.4 1088.7h9.9v4.3h-9.9zM2262.2 1050.0h29.7v4.3h-29.7zM2262.2 1054.3h29.7v4.3h-29.7zM2262.2 1058.6h9.9v4.3h-9.9zM2262.2 1062.9h9.9v4.3h-9.9zM2262.2 1067.2h24.8v4.3h-24.8zM2262.2 1071.5h24.8v4.3h-24.8zM2262.2 1075.8h9.9v4.3h-9.9zM2262.2 1080.1h9.9v4.3h-9.9zM2262.2 1084.4h29.7v4.3h-29.7zM2262.2 1088.7h29.7v4.3h-29.7z" fill="#5fe35d" stroke="#0d1a10" stroke-width="10.0" stroke-linejoin="miter" paint-order="stroke"/>
<text x="2068.5" y="1266.0" font-size="39.8" font-weight="bold" text-anchor="middle" textLength="203.0" lengthAdjust="spacingAndGlyphs" fill="#1c1610" stroke="#1c1610" stroke-width="2.0" stroke-linejoin="round" >Macro-Level</text>
<text x="2069.5" y="1303.0" font-size="39.8" font-weight="bold" text-anchor="middle" textLength="297.0" lengthAdjust="spacingAndGlyphs" fill="#1c1610" stroke="#1c1610" stroke-width="2.0" stroke-linejoin="round" >Immune Response</text>
<defs><radialGradient id="boxg" cx="0.5" cy="0.5" r="0.7">
<stop offset="0" stop-color="#244a33"/><stop offset="1" stop-color="#1a3525"/></radialGradient></defs>
<polygon points="1776.0,1330.0 2304.0,1330.0 2310.0,1336.0 2310.0,1513.0 2304.0,1519.0 1776.0,1519.0 1770.0,1513.0 1770.0,1336.0" fill="#0c150f" />
<rect x="1775.0" y="1335.0" width="530.0" height="179.0" fill="#5aad68" />
<rect x="1784.0" y="1344.0" width="512.0" height="161.0" fill="#0e1a12" />
<rect x="1787.0" y="1347.0" width="506.0" height="155.0" fill="url(#boxg)"/>
<text x="1986.5" y="1383.0" font-size="41.4" font-weight="bold" text-anchor="middle" textLength="323.0" lengthAdjust="spacingAndGlyphs" fill="#f2f2ec" stroke="#f2f2ec" stroke-width="2.0" stroke-linejoin="round" >System Robustness</text>
<rect x="1796.0" y="1395.0" width="392.0" height="61.0" fill="#e8ece0" />
<rect x="1800.0" y="1399.0" width="384.0" height="53.0" fill="#0e1a12" />
<rect x="1805.0" y="1404.0" width="374.0" height="43.0" fill="url(#barTop)" />
<rect x="1849.8" y="1404.0" width="4.0" height="43.0" fill="#2f8a45" />
<rect x="1896.5" y="1404.0" width="4.0" height="43.0" fill="#2f8a45" />
<rect x="1943.2" y="1404.0" width="4.0" height="43.0" fill="#2f8a45" />
<rect x="1990.0" y="1404.0" width="4.0" height="43.0" fill="#2f8a45" />
<rect x="2036.8" y="1404.0" width="4.0" height="43.0" fill="#2f8a45" />
<rect x="2083.5" y="1404.0" width="4.0" height="43.0" fill="#2f8a45" />
<rect x="2130.2" y="1404.0" width="4.0" height="43.0" fill="#2f8a45" />
<text x="2241.0" y="1439.5" font-size="43.6" font-weight="bold" text-anchor="middle" textLength="84.0" lengthAdjust="spacingAndGlyphs" fill="#f2f2ec" stroke="#f2f2ec" stroke-width="2.0" stroke-linejoin="round" >100%</text>
<text x="1996.0" y="1492.6" font-size="37.1" font-weight="bold" text-anchor="middle" textLength="392.0" lengthAdjust="spacingAndGlyphs" fill="#0a140c" stroke="#0a140c" stroke-width="7.0" stroke-linejoin="round">FAILURE TOLERANCE: HIGH</text>
<text x="1996.0" y="1492.6" font-size="37.1" font-weight="bold" text-anchor="middle" textLength="392.0" lengthAdjust="spacingAndGlyphs" fill="#6fe06c" stroke="#6fe06c" stroke-width="2.0" stroke-linejoin="round" >FAILURE TOLERANCE: HIGH</text>
<polygon points="2327.0,1331.0 2722.0,1331.0 2728.0,1337.0 2728.0,1513.0 2722.0,1519.0 2327.0,1519.0 2321.0,1513.0 2321.0,1337.0" fill="#0c150f" />
<rect x="2326.0" y="1336.0" width="397.0" height="178.0" fill="#5aad68" />
<rect x="2335.0" y="1345.0" width="379.0" height="160.0" fill="#0e1a12" />
<rect x="2338.0" y="1348.0" width="373.0" height="154.0" fill="url(#boxg)"/>
<text x="2524.0" y="1382.0" font-size="41.4" font-weight="bold" text-anchor="middle" textLength="270.0" lengthAdjust="spacingAndGlyphs" fill="#f2f2ec" stroke="#f2f2ec" stroke-width="2.0" stroke-linejoin="round" >System Integrity</text>
<path d="M2368.6 1415.4h12.6v4.2h-12.6zM2368.6 1419.6h12.6v4.2h-12.6zM2356.0 1423.8h37.8v4.2h-37.8zM2356.0 1428.0h37.8v4.2h-37.8zM2368.6 1432.2h12.6v4.2h-12.6zM2368.6 1436.4h12.6v4.2h-12.6zM2400.0 1407.0h31.5v4.2h-31.5zM2400.0 1411.2h37.8v4.2h-37.8zM2425.2 1415.4h12.6v4.2h-12.6zM2425.2 1419.6h12.6v4.2h-12.6zM2406.3 1423.8h25.2v4.2h-25.2zM2406.3 1428.0h31.5v4.2h-31.5zM2425.2 1432.2h12.6v4.2h-12.6zM2425.2 1436.4h12.6v4.2h-12.6zM2400.0 1440.6h37.8v4.2h-37.8zM2400.0 1444.8h31.5v4.2h-31.5zM2450.3 1407.0h25.2v4.2h-25.2zM2444.0 1411.2h37.8v4.2h-37.8zM2444.0 1415.4h12.6v4.2h-12.6zM2469.2 1415.4h12.6v4.2h-12.6zM2444.0 1419.6h12.6v4.2h-12.6zM2469.2 1419.6h12.6v4.2h-12.6zM2444.0 1423.8h12.6v4.2h-12.6zM2469.2 1423.8h12.6v4.2h-12.6zM2444.0 1428.0h12.6v4.2h-12.6zM2469.2 1428.0h12.6v4.2h-12.6zM2444.0 1432.2h12.6v4.2h-12.6zM2469.2 1432.2h12.6v4.2h-12.6zM2444.0 1436.4h12.6v4.2h-12.6zM2469.2 1436.4h12.6v4.2h-12.6zM2444.0 1440.6h37.8v4.2h-37.8zM2450.3 1444.8h25.2v4.2h-25.2zM2494.3 1407.0h25.2v4.2h-25.2zM2488.0 1411.2h37.8v4.2h-37.8zM2488.0 1415.4h12.6v4.2h-12.6zM2513.2 1415.4h12.6v4.2h-12.6zM2488.0 1419.6h12.6v4.2h-12.6zM2513.2 1419.6h12.6v4.2h-12.6zM2488.0 1423.8h12.6v4.2h-12.6zM2513.2 1423.8h12.6v4.2h-12.6zM2488.0 1428.0h12.6v4.2h-12.6zM2513.2 1428.0h12.6v4.2h-12.6zM2488.0 1432.2h12.6v4.2h-12.6zM2513.2 1432.2h12.6v4.2h-12.6zM2488.0 1436.4h12.6v4.2h-12.6zM2513.2 1436.4h12.6v4.2h-12.6zM2488.0 1440.6h37.8v4.2h-37.8zM2494.3 1444.8h25.2v4.2h-25.2z" fill="#0a140c" stroke="#0a140c" stroke-width="9.0" stroke-linejoin="miter"/>
<path d="M2366.6 1413.4h12.6v4.2h-12.6zM2366.6 1417.6h12.6v4.2h-12.6zM2354.0 1421.8h37.8v4.2h-37.8zM2354.0 1426.0h37.8v4.2h-37.8zM2366.6 1430.2h12.6v4.2h-12.6zM2366.6 1434.4h12.6v4.2h-12.6zM2398.0 1405.0h31.5v4.2h-31.5zM2398.0 1409.2h37.8v4.2h-37.8zM2423.2 1413.4h12.6v4.2h-12.6zM2423.2 1417.6h12.6v4.2h-12.6zM2404.3 1421.8h25.2v4.2h-25.2zM2404.3 1426.0h31.5v4.2h-31.5zM2423.2 1430.2h12.6v4.2h-12.6zM2423.2 1434.4h12.6v4.2h-12.6zM2398.0 1438.6h37.8v4.2h-37.8zM2398.0 1442.8h31.5v4.2h-31.5zM2448.3 1405.0h25.2v4.2h-25.2zM2442.0 1409.2h37.8v4.2h-37.8zM2442.0 1413.4h12.6v4.2h-12.6zM2467.2 1413.4h12.6v4.2h-12.6zM2442.0 1417.6h12.6v4.2h-12.6zM2467.2 1417.6h12.6v4.2h-12.6zM2442.0 1421.8h12.6v4.2h-12.6zM2467.2 1421.8h12.6v4.2h-12.6zM2442.0 1426.0h12.6v4.2h-12.6zM2467.2 1426.0h12.6v4.2h-12.6zM2442.0 1430.2h12.6v4.2h-12.6zM2467.2 1430.2h12.6v4.2h-12.6zM2442.0 1434.4h12.6v4.2h-12.6zM2467.2 1434.4h12.6v4.2h-12.6zM2442.0 1438.6h37.8v4.2h-37.8zM2448.3 1442.8h25.2v4.2h-25.2zM2492.3 1405.0h25.2v4.2h-25.2zM2486.0 1409.2h37.8v4.2h-37.8zM2486.0 1413.4h12.6v4.2h-12.6zM2511.2 1413.4h12.6v4.2h-12.6zM2486.0 1417.6h12.6v4.2h-12.6zM2511.2 1417.6h12.6v4.2h-12.6zM2486.0 1421.8h12.6v4.2h-12.6zM2511.2 1421.8h12.6v4.2h-12.6zM2486.0 1426.0h12.6v4.2h-12.6zM2511.2 1426.0h12.6v4.2h-12.6zM2486.0 1430.2h12.6v4.2h-12.6zM2511.2 1430.2h12.6v4.2h-12.6zM2486.0 1434.4h12.6v4.2h-12.6zM2511.2 1434.4h12.6v4.2h-12.6zM2486.0 1438.6h37.8v4.2h-37.8zM2492.3 1442.8h25.2v4.2h-25.2z" fill="#5fe35d" stroke="#0a140c" stroke-width="9.0" stroke-linejoin="miter" paint-order="stroke"/>
<path d="M2547.0 1424.0h18.0v2.5h-18.0zM2547.0 1426.5h21.6v2.5h-21.6zM2547.0 1429.0h7.2v2.5h-7.2zM2561.4 1429.0h7.2v2.5h-7.2zM2547.0 1431.5h7.2v2.5h-7.2zM2561.4 1431.5h7.2v2.5h-7.2zM2547.0 1434.0h21.6v2.5h-21.6zM2547.0 1436.5h18.0v2.5h-18.0zM2547.0 1439.0h7.2v2.5h-7.2zM2547.0 1441.5h7.2v2.5h-7.2zM2547.0 1444.0h7.2v2.5h-7.2zM2547.0 1446.5h7.2v2.5h-7.2zM2575.9 1424.0h14.4v2.5h-14.4zM2572.3 1426.5h21.6v2.5h-21.6zM2572.3 1429.0h7.2v2.5h-7.2zM2586.7 1429.0h7.2v2.5h-7.2zM2572.3 1431.5h7.2v2.5h-7.2zM2586.7 1431.5h7.2v2.5h-7.2zM2572.3 1434.0h7.2v2.5h-7.2zM2586.7 1434.0h7.2v2.5h-7.2zM2572.3 1436.5h7.2v2.5h-7.2zM2586.7 1436.5h7.2v2.5h-7.2zM2572.3 1439.0h7.2v2.5h-7.2zM2586.7 1439.0h7.2v2.5h-7.2zM2572.3 1441.5h7.2v2.5h-7.2zM2586.7 1441.5h7.2v2.5h-7.2zM2572.3 1444.0h21.6v2.5h-21.6zM2575.9 1446.5h14.4v2.5h-14.4zM2597.6 1424.0h21.6v2.5h-21.6zM2597.6 1426.5h21.6v2.5h-21.6zM2604.8 1429.0h7.2v2.5h-7.2zM2604.8 1431.5h7.2v2.5h-7.2zM2604.8 1434.0h7.2v2.5h-7.2zM2604.8 1436.5h7.2v2.5h-7.2zM2604.8 1439.0h7.2v2.5h-7.2zM2604.8 1441.5h7.2v2.5h-7.2zM2597.6 1444.0h21.6v2.5h-21.6zM2597.6 1446.5h21.6v2.5h-21.6zM2622.9 1424.0h7.2v2.5h-7.2zM2637.3 1424.0h7.2v2.5h-7.2zM2622.9 1426.5h7.2v2.5h-7.2zM2637.3 1426.5h7.2v2.5h-7.2zM2622.9 1429.0h10.8v2.5h-10.8zM2637.3 1429.0h7.2v2.5h-7.2zM2622.9 1431.5h10.8v2.5h-10.8zM2637.3 1431.5h7.2v2.5h-7.2zM2622.9 1434.0h21.6v2.5h-21.6zM2622.9 1436.5h7.2v2.5h-7.2zM2633.7 1436.5h10.8v2.5h-10.8zM2622.9 1439.0h7.2v2.5h-7.2zM2633.7 1439.0h10.8v2.5h-10.8zM2622.9 1441.5h7.2v2.5h-7.2zM2633.7 1441.5h10.8v2.5h-10.8zM2622.9 1444.0h7.2v2.5h-7.2zM2637.3 1444.0h7.2v2.5h-7.2zM2622.9 1446.5h7.2v2.5h-7.2zM2637.3 1446.5h7.2v2.5h-7.2zM2648.2 1424.0h21.6v2.5h-21.6zM2648.2 1426.5h21.6v2.5h-21.6zM2655.4 1429.0h7.2v2.5h-7.2zM2655.4 1431.5h7.2v2.5h-7.2zM2655.4 1434.0h7.2v2.5h-7.2zM2655.4 1436.5h7.2v2.5h-7.2zM2655.4 1439.0h7.2v2.5h-7.2zM2655.4 1441.5h7.2v2.5h-7.2zM2655.4 1444.0h7.2v2.5h-7.2zM2655.4 1446.5h7.2v2.5h-7.2zM2677.1 1424.0h18.0v2.5h-18.0zM2673.5 1426.5h21.6v2.5h-21.6zM2673.5 1429.0h7.2v2.5h-7.2zM2673.5 1431.5h7.2v2.5h-7.2zM2673.5 1434.0h18.0v2.5h-18.0zM2677.1 1436.5h18.0v2.5h-18.0zM2687.9 1439.0h7.2v2.5h-7.2zM2687.9 1441.5h7.2v2.5h-7.2zM2673.5 1444.0h21.6v2.5h-21.6zM2673.5 1446.5h18.0v2.5h-18.0z" fill="#5fe35d" stroke="#0a140c" stroke-width="6.0" stroke-linejoin="miter" paint-order="stroke"/>
<text x="2524.0" y="1493.0" font-size="37.1" font-weight="bold" text-anchor="middle" textLength="278.0" lengthAdjust="spacingAndGlyphs" fill="#0a140c" stroke="#0a140c" stroke-width="7.0" stroke-linejoin="round">RESILIENCE BONUS</text>
<text x="2524.0" y="1493.0" font-size="37.1" font-weight="bold" text-anchor="middle" textLength="278.0" lengthAdjust="spacingAndGlyphs" fill="#6fe06c" stroke="#6fe06c" stroke-width="2.0" stroke-linejoin="round" >RESILIENCE BONUS</text>
<polygon points="2622.0,1222.0 2701.0,1222.0 2707.0,1228.0 2707.0,1306.0 2701.0,1312.0 2622.0,1312.0 2616.0,1306.0 2616.0,1228.0" fill="#0c140e" />
<rect x="2621.0" y="1227.0" width="81.0" height="80.0" fill="#5cb86a" />
<rect x="2626.0" y="1232.0" width="71.0" height="70.0" fill="#050805" />
<polygon points="2673.5,1237.0 2639.5,1271.0 2657.5,1271.0 2647.5,1297.0 2683.5,1261.0 2665.5,1261.0 2675.5,1237.0" fill="#e83a34" />
<rect x="2722.0" y="1162.0" width="6.0" height="162.0" fill="#dba868" />
<rect x="2722.0" y="1136.0" width="6.0" height="7.0" fill="#dba868" />
<rect x="2722.0" y="1148.0" width="6.0" height="8.0" fill="#dba868" />
<rect x="2711.0" y="1212.0" width="5.0" height="108.0" fill="#dba868" />
<rect x="2552.0" y="1318.0" width="176.0" height="6.0" fill="#dba868" />
<rect x="2514.0" y="1319.0" width="8.0" height="5.0" fill="#dba868" />
<rect x="2528.0" y="1319.0" width="16.0" height="5.0" fill="#dba868" />
<rect x="1366.0" y="0.0" width="20.0" height="1536.0" fill="#0a0a08" />
</svg>
</body></html>
